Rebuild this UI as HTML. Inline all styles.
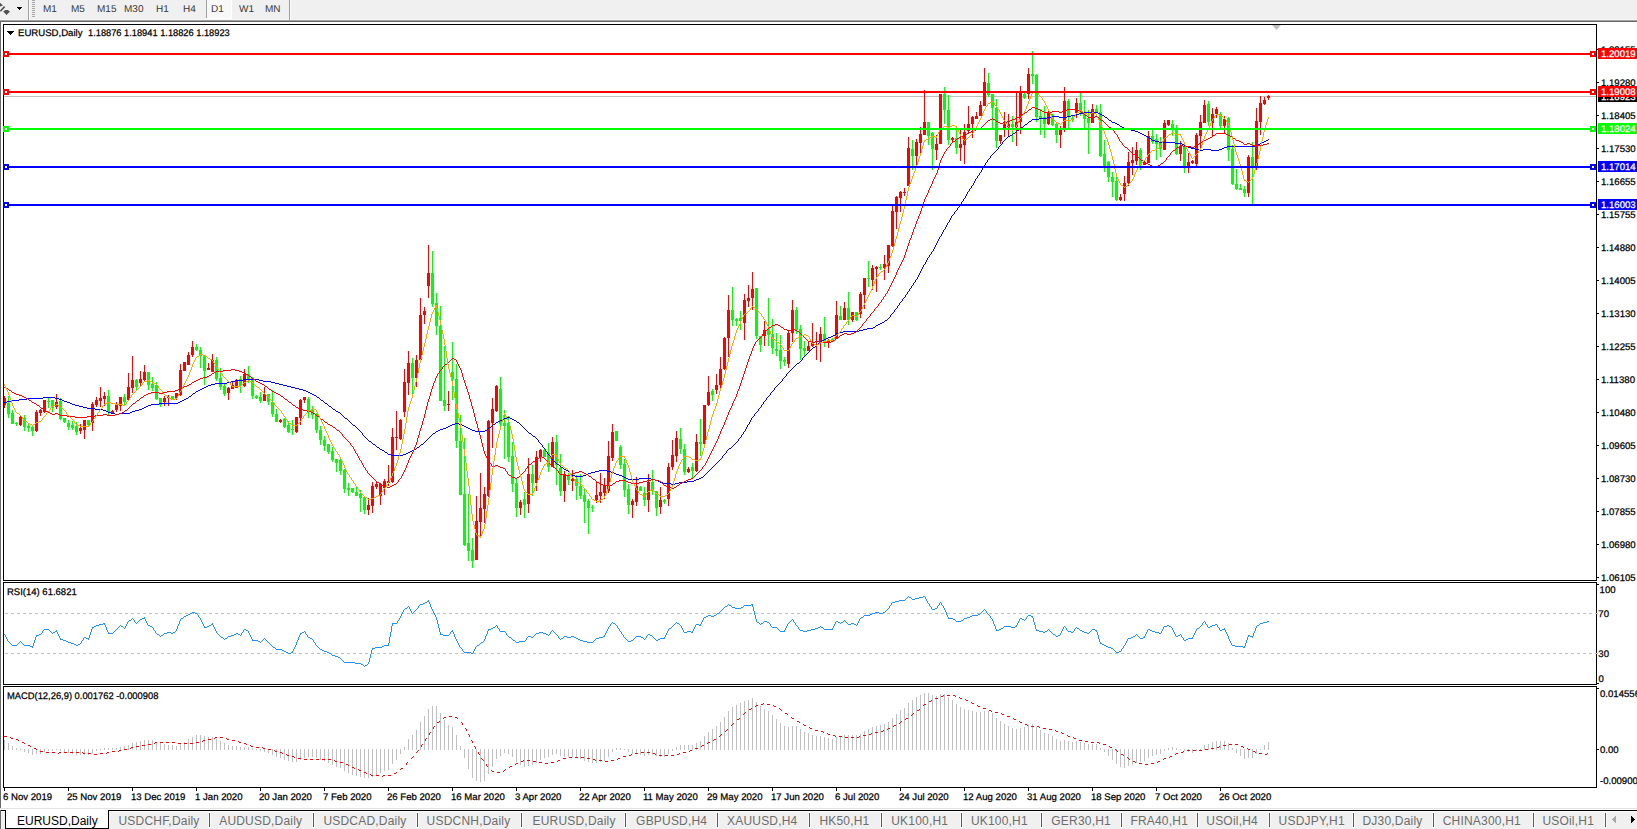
<!DOCTYPE html><html><head><meta charset="utf-8"><style>
*{margin:0;padding:0;box-sizing:border-box}
html,body{width:1637px;height:829px;overflow:hidden;background:#fff;font-family:"Liberation Sans",sans-serif}
.a{position:absolute}
.t{position:absolute;white-space:nowrap;font-size:10px;line-height:10px;color:#000}
.g{position:absolute;white-space:nowrap;color:#000;text-rendering:geometricPrecision;transform-origin:0 0;-webkit-text-stroke:0.25px currentColor}
svg{position:absolute;left:0;top:0}

</style></head><body>
<div class="a" style="left:0;top:0;width:1637px;height:19px;background:#f0f0f0"></div>
<div class="a" style="left:0;top:19px;width:1637px;height:1px;background:#f6f6f6"></div>
<div class="a" style="left:0;top:20px;width:1637px;height:1px;background:#a0a0a0"></div>
<div class="a" style="left:0;top:21px;width:1637px;height:1px;background:#696969"></div>
<svg width="1637" height="829" viewBox="0 0 1637 829" shape-rendering="crispEdges">
<path d="M0 2.8 L3 5.6 L0 6.6 Z" fill="#505050" shape-rendering="auto"/>
<path d="M0.3 11.3 L4.6 6.6" stroke="#505050" stroke-width="1.6" shape-rendering="auto"/>
<path d="M3.2 11.4 L5.4 10 L7.6 10 L10 11.4 L6.5 15 Z" fill="#505050" shape-rendering="auto"/>
<rect x="17" y="7" width="5" height="1" fill="#000"/><rect x="18" y="8" width="3" height="1" fill="#000"/><rect x="19" y="9" width="1" height="1" fill="#000"/>
<rect x="28" y="0" width="1" height="20" fill="#a0a0a0"/><rect x="29" y="0" width="1" height="20" fill="#fafafa"/>
<rect x="32" y="0" width="3" height="1" fill="#a8a8a8"/>
<rect x="32" y="2" width="3" height="1" fill="#a8a8a8"/>
<rect x="32" y="4" width="3" height="1" fill="#a8a8a8"/>
<rect x="32" y="6" width="3" height="1" fill="#a8a8a8"/>
<rect x="32" y="8" width="3" height="1" fill="#a8a8a8"/>
<rect x="32" y="10" width="3" height="1" fill="#a8a8a8"/>
<rect x="32" y="12" width="3" height="1" fill="#a8a8a8"/>
<rect x="32" y="14" width="3" height="1" fill="#a8a8a8"/>
<rect x="32" y="16" width="3" height="1" fill="#a8a8a8"/>
<rect x="206" y="0" width="1" height="18" fill="#a0a0a0"/>
<rect x="207" y="0" width="24" height="18" fill="#f8f8f8"/><rect x="231" y="0" width="1" height="19" fill="#fff"/><rect x="206" y="18" width="26" height="1" fill="#fff"/>
<rect x="289" y="0" width="1" height="20" fill="#a0a0a0"/><rect x="290" y="0" width="1" height="20" fill="#fafafa"/>
<rect x="0" y="22" width="1" height="786" fill="#6a6a6a"/>
<rect x="0" y="808" width="1637" height="1" fill="#e3e3e3"/>
<rect x="3" y="24" width="1594" height="1" fill="#000"/>
<rect x="3" y="580" width="1594" height="1" fill="#000"/>
<rect x="3" y="24" width="1" height="557" fill="#000"/>
<rect x="1596" y="24" width="1" height="557" fill="#000"/>
<rect x="3" y="582" width="1594" height="1" fill="#000"/>
<rect x="3" y="684" width="1594" height="1" fill="#000"/>
<rect x="3" y="582" width="1" height="103" fill="#000"/>
<rect x="1596" y="582" width="1" height="103" fill="#000"/>
<rect x="3" y="686" width="1594" height="1" fill="#000"/>
<rect x="3" y="787" width="1594" height="1" fill="#000"/>
<rect x="3" y="686" width="1" height="102" fill="#000"/>
<rect x="1596" y="686" width="1" height="102" fill="#000"/>
<path d="M1272 25 L1281 25 L1276.5 30 Z" fill="#c0c0c0" shape-rendering="auto"/>
<rect x="1597" y="49" width="2" height="1" fill="#000"/>
<rect x="1597" y="82" width="2" height="1" fill="#000"/>
<rect x="1597" y="115" width="2" height="1" fill="#000"/>
<rect x="1597" y="148" width="2" height="1" fill="#000"/>
<rect x="1597" y="181" width="2" height="1" fill="#000"/>
<rect x="1597" y="214" width="2" height="1" fill="#000"/>
<rect x="1597" y="247" width="2" height="1" fill="#000"/>
<rect x="1597" y="280" width="2" height="1" fill="#000"/>
<rect x="1597" y="313" width="2" height="1" fill="#000"/>
<rect x="1597" y="346" width="2" height="1" fill="#000"/>
<rect x="1597" y="379" width="2" height="1" fill="#000"/>
<rect x="1597" y="412" width="2" height="1" fill="#000"/>
<rect x="1597" y="445" width="2" height="1" fill="#000"/>
<rect x="1597" y="478" width="2" height="1" fill="#000"/>
<rect x="1597" y="511" width="2" height="1" fill="#000"/>
<rect x="1597" y="544" width="2" height="1" fill="#000"/>
<rect x="1597" y="577" width="2" height="1" fill="#000"/>
<defs><clipPath id="cm"><rect x="4" y="25" width="1592" height="555"/></clipPath>
<clipPath id="cr"><rect x="4" y="583" width="1592" height="101"/></clipPath>
<clipPath id="cd"><rect x="4" y="687" width="1592" height="100"/></clipPath></defs>
<rect x="4" y="96" width="1592" height="1" fill="#c0c0c0"/>
<g clip-path="url(#cm)">
<rect x="4" y="396" width="1" height="12" fill="#ff0000"/>
<rect x="3" y="398" width="3" height="7" fill="#ff0000"/>
<rect x="8" y="396" width="1" height="22" fill="#00ff00"/>
<rect x="7" y="403" width="3" height="11" fill="#00ff00"/>
<rect x="12" y="410" width="1" height="14" fill="#00ff00"/>
<rect x="11" y="413" width="3" height="11" fill="#00ff00"/>
<rect x="16" y="422" width="1" height="4" fill="#00ff00"/>
<rect x="15" y="423" width="3" height="1" fill="#00ff00"/>
<rect x="20" y="415" width="1" height="11" fill="#ff0000"/>
<rect x="19" y="417" width="3" height="8" fill="#ff0000"/>
<rect x="24" y="415" width="1" height="16" fill="#00ff00"/>
<rect x="23" y="418" width="3" height="9" fill="#00ff00"/>
<rect x="28" y="424" width="1" height="8" fill="#00ff00"/>
<rect x="27" y="426" width="3" height="2" fill="#00ff00"/>
<rect x="32" y="426" width="1" height="10" fill="#00ff00"/>
<rect x="31" y="427" width="3" height="4" fill="#00ff00"/>
<rect x="36" y="410" width="1" height="22" fill="#ff0000"/>
<rect x="35" y="412" width="3" height="19" fill="#ff0000"/>
<rect x="40" y="409" width="1" height="7" fill="#ff0000"/>
<rect x="39" y="410" width="3" height="3" fill="#ff0000"/>
<rect x="44" y="400" width="1" height="13" fill="#ff0000"/>
<rect x="43" y="400" width="3" height="12" fill="#ff0000"/>
<rect x="48" y="398" width="1" height="10" fill="#00ff00"/>
<rect x="47" y="401" width="3" height="1" fill="#00ff00"/>
<rect x="52" y="400" width="1" height="12" fill="#00ff00"/>
<rect x="51" y="400" width="3" height="8" fill="#00ff00"/>
<rect x="56" y="394" width="1" height="15" fill="#ff0000"/>
<rect x="55" y="402" width="3" height="5" fill="#ff0000"/>
<rect x="60" y="398" width="1" height="22" fill="#00ff00"/>
<rect x="59" y="401" width="3" height="18" fill="#00ff00"/>
<rect x="64" y="418" width="1" height="5" fill="#00ff00"/>
<rect x="63" y="418" width="3" height="4" fill="#00ff00"/>
<rect x="68" y="420" width="1" height="10" fill="#00ff00"/>
<rect x="67" y="423" width="3" height="4" fill="#00ff00"/>
<rect x="72" y="421" width="1" height="9" fill="#00ff00"/>
<rect x="71" y="425" width="3" height="3" fill="#00ff00"/>
<rect x="76" y="422" width="1" height="13" fill="#00ff00"/>
<rect x="75" y="426" width="3" height="6" fill="#00ff00"/>
<rect x="80" y="424" width="1" height="10" fill="#ff0000"/>
<rect x="79" y="428" width="3" height="3" fill="#ff0000"/>
<rect x="84" y="420" width="1" height="19" fill="#ff0000"/>
<rect x="83" y="420" width="3" height="10" fill="#ff0000"/>
<rect x="88" y="420" width="1" height="6" fill="#00ff00"/>
<rect x="87" y="420" width="3" height="5" fill="#00ff00"/>
<rect x="92" y="402" width="1" height="29" fill="#ff0000"/>
<rect x="91" y="404" width="3" height="19" fill="#ff0000"/>
<rect x="96" y="397" width="1" height="10" fill="#ff0000"/>
<rect x="95" y="400" width="3" height="5" fill="#ff0000"/>
<rect x="100" y="387" width="1" height="20" fill="#ff0000"/>
<rect x="99" y="398" width="3" height="3" fill="#ff0000"/>
<rect x="104" y="392" width="1" height="14" fill="#ff0000"/>
<rect x="103" y="396" width="3" height="3" fill="#ff0000"/>
<rect x="108" y="390" width="1" height="26" fill="#00ff00"/>
<rect x="107" y="396" width="3" height="16" fill="#00ff00"/>
<rect x="112" y="410" width="1" height="4" fill="#ff0000"/>
<rect x="111" y="411" width="3" height="2" fill="#ff0000"/>
<rect x="116" y="402" width="1" height="10" fill="#ff0000"/>
<rect x="115" y="404" width="3" height="6" fill="#ff0000"/>
<rect x="120" y="397" width="1" height="14" fill="#ff0000"/>
<rect x="119" y="397" width="3" height="9" fill="#ff0000"/>
<rect x="124" y="394" width="1" height="11" fill="#00ff00"/>
<rect x="123" y="397" width="3" height="5" fill="#00ff00"/>
<rect x="128" y="373" width="1" height="27" fill="#ff0000"/>
<rect x="127" y="387" width="3" height="13" fill="#ff0000"/>
<rect x="132" y="356" width="1" height="37" fill="#ff0000"/>
<rect x="131" y="380" width="3" height="8" fill="#ff0000"/>
<rect x="136" y="379" width="1" height="11" fill="#00ff00"/>
<rect x="135" y="380" width="3" height="7" fill="#00ff00"/>
<rect x="140" y="371" width="1" height="15" fill="#ff0000"/>
<rect x="139" y="379" width="3" height="4" fill="#ff0000"/>
<rect x="144" y="365" width="1" height="16" fill="#ff0000"/>
<rect x="143" y="372" width="3" height="8" fill="#ff0000"/>
<rect x="148" y="372" width="1" height="18" fill="#00ff00"/>
<rect x="147" y="372" width="3" height="13" fill="#00ff00"/>
<rect x="152" y="377" width="1" height="14" fill="#00ff00"/>
<rect x="151" y="384" width="3" height="4" fill="#00ff00"/>
<rect x="156" y="382" width="1" height="18" fill="#00ff00"/>
<rect x="155" y="385" width="3" height="14" fill="#00ff00"/>
<rect x="160" y="398" width="1" height="9" fill="#00ff00"/>
<rect x="159" y="398" width="3" height="7" fill="#00ff00"/>
<rect x="164" y="396" width="1" height="10" fill="#ff0000"/>
<rect x="163" y="398" width="3" height="4" fill="#ff0000"/>
<rect x="168" y="395" width="1" height="11" fill="#ff0000"/>
<rect x="167" y="397" width="3" height="1" fill="#ff0000"/>
<rect x="172" y="396" width="1" height="4" fill="#00ff00"/>
<rect x="171" y="396" width="3" height="4" fill="#00ff00"/>
<rect x="176" y="393" width="1" height="7" fill="#ff0000"/>
<rect x="175" y="393" width="3" height="5" fill="#ff0000"/>
<rect x="180" y="364" width="1" height="32" fill="#ff0000"/>
<rect x="179" y="370" width="3" height="25" fill="#ff0000"/>
<rect x="184" y="362" width="1" height="9" fill="#ff0000"/>
<rect x="183" y="362" width="3" height="9" fill="#ff0000"/>
<rect x="188" y="352" width="1" height="13" fill="#ff0000"/>
<rect x="187" y="355" width="3" height="10" fill="#ff0000"/>
<rect x="192" y="341" width="1" height="16" fill="#ff0000"/>
<rect x="191" y="347" width="3" height="8" fill="#ff0000"/>
<rect x="196" y="344" width="1" height="7" fill="#00ff00"/>
<rect x="195" y="347" width="3" height="3" fill="#00ff00"/>
<rect x="200" y="347" width="1" height="21" fill="#00ff00"/>
<rect x="199" y="350" width="3" height="6" fill="#00ff00"/>
<rect x="204" y="355" width="1" height="30" fill="#00ff00"/>
<rect x="203" y="355" width="3" height="16" fill="#00ff00"/>
<rect x="208" y="363" width="1" height="7" fill="#ff0000"/>
<rect x="207" y="368" width="3" height="2" fill="#ff0000"/>
<rect x="212" y="354" width="1" height="18" fill="#ff0000"/>
<rect x="211" y="360" width="3" height="12" fill="#ff0000"/>
<rect x="216" y="357" width="1" height="24" fill="#00ff00"/>
<rect x="215" y="360" width="3" height="19" fill="#00ff00"/>
<rect x="220" y="368" width="1" height="22" fill="#00ff00"/>
<rect x="219" y="378" width="3" height="9" fill="#00ff00"/>
<rect x="224" y="384" width="1" height="12" fill="#00ff00"/>
<rect x="223" y="386" width="3" height="8" fill="#00ff00"/>
<rect x="228" y="387" width="1" height="13" fill="#ff0000"/>
<rect x="227" y="388" width="3" height="5" fill="#ff0000"/>
<rect x="232" y="382" width="1" height="7" fill="#ff0000"/>
<rect x="231" y="385" width="3" height="4" fill="#ff0000"/>
<rect x="236" y="379" width="1" height="9" fill="#ff0000"/>
<rect x="235" y="381" width="3" height="7" fill="#ff0000"/>
<rect x="240" y="376" width="1" height="17" fill="#00ff00"/>
<rect x="239" y="379" width="3" height="7" fill="#00ff00"/>
<rect x="244" y="369" width="1" height="18" fill="#ff0000"/>
<rect x="243" y="374" width="3" height="12" fill="#ff0000"/>
<rect x="248" y="366" width="1" height="17" fill="#00ff00"/>
<rect x="247" y="374" width="3" height="5" fill="#00ff00"/>
<rect x="252" y="377" width="1" height="22" fill="#00ff00"/>
<rect x="251" y="378" width="3" height="18" fill="#00ff00"/>
<rect x="256" y="395" width="1" height="4" fill="#00ff00"/>
<rect x="255" y="396" width="3" height="2" fill="#00ff00"/>
<rect x="260" y="392" width="1" height="11" fill="#00ff00"/>
<rect x="259" y="397" width="3" height="4" fill="#00ff00"/>
<rect x="264" y="387" width="1" height="14" fill="#ff0000"/>
<rect x="263" y="394" width="3" height="7" fill="#ff0000"/>
<rect x="268" y="394" width="1" height="11" fill="#00ff00"/>
<rect x="267" y="394" width="3" height="8" fill="#00ff00"/>
<rect x="272" y="390" width="1" height="27" fill="#00ff00"/>
<rect x="271" y="402" width="3" height="12" fill="#00ff00"/>
<rect x="276" y="409" width="1" height="13" fill="#00ff00"/>
<rect x="275" y="414" width="3" height="8" fill="#00ff00"/>
<rect x="280" y="419" width="1" height="4" fill="#ff0000"/>
<rect x="279" y="420" width="3" height="2" fill="#ff0000"/>
<rect x="284" y="418" width="1" height="10" fill="#00ff00"/>
<rect x="283" y="419" width="3" height="8" fill="#00ff00"/>
<rect x="288" y="421" width="1" height="12" fill="#00ff00"/>
<rect x="287" y="425" width="3" height="7" fill="#00ff00"/>
<rect x="292" y="420" width="1" height="15" fill="#00ff00"/>
<rect x="291" y="429" width="3" height="1" fill="#00ff00"/>
<rect x="296" y="417" width="1" height="16" fill="#ff0000"/>
<rect x="295" y="417" width="3" height="15" fill="#ff0000"/>
<rect x="300" y="399" width="1" height="26" fill="#ff0000"/>
<rect x="299" y="400" width="3" height="18" fill="#ff0000"/>
<rect x="304" y="397" width="1" height="6" fill="#ff0000"/>
<rect x="303" y="397" width="3" height="3" fill="#ff0000"/>
<rect x="308" y="397" width="1" height="21" fill="#00ff00"/>
<rect x="307" y="399" width="3" height="12" fill="#00ff00"/>
<rect x="312" y="406" width="1" height="13" fill="#00ff00"/>
<rect x="311" y="410" width="3" height="5" fill="#00ff00"/>
<rect x="316" y="413" width="1" height="20" fill="#00ff00"/>
<rect x="315" y="414" width="3" height="16" fill="#00ff00"/>
<rect x="320" y="426" width="1" height="19" fill="#00ff00"/>
<rect x="319" y="430" width="3" height="10" fill="#00ff00"/>
<rect x="324" y="436" width="1" height="15" fill="#00ff00"/>
<rect x="323" y="440" width="3" height="6" fill="#00ff00"/>
<rect x="328" y="444" width="1" height="10" fill="#00ff00"/>
<rect x="327" y="444" width="3" height="8" fill="#00ff00"/>
<rect x="332" y="447" width="1" height="15" fill="#00ff00"/>
<rect x="331" y="451" width="3" height="9" fill="#00ff00"/>
<rect x="336" y="459" width="1" height="13" fill="#00ff00"/>
<rect x="335" y="459" width="3" height="4" fill="#00ff00"/>
<rect x="340" y="459" width="1" height="16" fill="#00ff00"/>
<rect x="339" y="460" width="3" height="11" fill="#00ff00"/>
<rect x="344" y="469" width="1" height="24" fill="#00ff00"/>
<rect x="343" y="470" width="3" height="19" fill="#00ff00"/>
<rect x="348" y="483" width="1" height="13" fill="#00ff00"/>
<rect x="347" y="488" width="3" height="2" fill="#00ff00"/>
<rect x="352" y="488" width="1" height="5" fill="#00ff00"/>
<rect x="351" y="488" width="3" height="4" fill="#00ff00"/>
<rect x="356" y="487" width="1" height="9" fill="#00ff00"/>
<rect x="355" y="492" width="3" height="4" fill="#00ff00"/>
<rect x="360" y="490" width="1" height="22" fill="#00ff00"/>
<rect x="359" y="494" width="3" height="4" fill="#00ff00"/>
<rect x="364" y="497" width="1" height="17" fill="#00ff00"/>
<rect x="363" y="497" width="3" height="13" fill="#00ff00"/>
<rect x="368" y="498" width="1" height="17" fill="#ff0000"/>
<rect x="367" y="505" width="3" height="5" fill="#ff0000"/>
<rect x="372" y="482" width="1" height="31" fill="#ff0000"/>
<rect x="371" y="486" width="3" height="20" fill="#ff0000"/>
<rect x="376" y="482" width="1" height="7" fill="#ff0000"/>
<rect x="375" y="484" width="3" height="3" fill="#ff0000"/>
<rect x="380" y="483" width="1" height="22" fill="#ff0000"/>
<rect x="379" y="484" width="3" height="12" fill="#ff0000"/>
<rect x="384" y="479" width="1" height="16" fill="#ff0000"/>
<rect x="383" y="481" width="3" height="7" fill="#ff0000"/>
<rect x="388" y="465" width="1" height="21" fill="#ff0000"/>
<rect x="387" y="481" width="3" height="2" fill="#ff0000"/>
<rect x="392" y="428" width="1" height="55" fill="#ff0000"/>
<rect x="391" y="437" width="3" height="45" fill="#ff0000"/>
<rect x="396" y="411" width="1" height="39" fill="#ff0000"/>
<rect x="395" y="437" width="3" height="1" fill="#ff0000"/>
<rect x="400" y="419" width="1" height="21" fill="#ff0000"/>
<rect x="399" y="420" width="3" height="19" fill="#ff0000"/>
<rect x="404" y="369" width="1" height="48" fill="#ff0000"/>
<rect x="403" y="382" width="3" height="30" fill="#ff0000"/>
<rect x="408" y="351" width="1" height="44" fill="#ff0000"/>
<rect x="407" y="363" width="3" height="20" fill="#ff0000"/>
<rect x="412" y="358" width="1" height="37" fill="#00ff00"/>
<rect x="411" y="363" width="3" height="15" fill="#00ff00"/>
<rect x="416" y="355" width="1" height="32" fill="#ff0000"/>
<rect x="415" y="360" width="3" height="18" fill="#ff0000"/>
<rect x="420" y="298" width="1" height="63" fill="#ff0000"/>
<rect x="419" y="315" width="3" height="45" fill="#ff0000"/>
<rect x="424" y="307" width="1" height="17" fill="#ff0000"/>
<rect x="423" y="311" width="3" height="4" fill="#ff0000"/>
<rect x="428" y="245" width="1" height="53" fill="#ff0000"/>
<rect x="427" y="273" width="3" height="13" fill="#ff0000"/>
<rect x="432" y="251" width="1" height="56" fill="#00ff00"/>
<rect x="431" y="273" width="3" height="31" fill="#00ff00"/>
<rect x="436" y="293" width="1" height="42" fill="#00ff00"/>
<rect x="435" y="303" width="3" height="23" fill="#00ff00"/>
<rect x="440" y="306" width="1" height="95" fill="#00ff00"/>
<rect x="439" y="326" width="3" height="75" fill="#00ff00"/>
<rect x="444" y="346" width="1" height="65" fill="#00ff00"/>
<rect x="443" y="400" width="3" height="6" fill="#00ff00"/>
<rect x="448" y="391" width="1" height="20" fill="#ff0000"/>
<rect x="447" y="404" width="3" height="1" fill="#ff0000"/>
<rect x="452" y="342" width="1" height="58" fill="#00ff00"/>
<rect x="451" y="372" width="3" height="7" fill="#00ff00"/>
<rect x="456" y="364" width="1" height="84" fill="#00ff00"/>
<rect x="455" y="379" width="3" height="62" fill="#00ff00"/>
<rect x="460" y="415" width="1" height="80" fill="#00ff00"/>
<rect x="459" y="441" width="3" height="54" fill="#00ff00"/>
<rect x="464" y="438" width="1" height="108" fill="#00ff00"/>
<rect x="463" y="494" width="3" height="51" fill="#00ff00"/>
<rect x="468" y="494" width="1" height="67" fill="#00ff00"/>
<rect x="467" y="543" width="3" height="8" fill="#00ff00"/>
<rect x="472" y="538" width="1" height="30" fill="#00ff00"/>
<rect x="471" y="550" width="3" height="11" fill="#00ff00"/>
<rect x="476" y="496" width="1" height="64" fill="#ff0000"/>
<rect x="475" y="521" width="3" height="39" fill="#ff0000"/>
<rect x="480" y="473" width="1" height="65" fill="#ff0000"/>
<rect x="479" y="508" width="3" height="14" fill="#ff0000"/>
<rect x="484" y="487" width="1" height="36" fill="#ff0000"/>
<rect x="483" y="494" width="3" height="15" fill="#ff0000"/>
<rect x="488" y="420" width="1" height="77" fill="#ff0000"/>
<rect x="487" y="421" width="3" height="75" fill="#ff0000"/>
<rect x="492" y="398" width="1" height="50" fill="#ff0000"/>
<rect x="491" y="409" width="3" height="14" fill="#ff0000"/>
<rect x="496" y="385" width="1" height="27" fill="#ff0000"/>
<rect x="495" y="386" width="3" height="25" fill="#ff0000"/>
<rect x="500" y="377" width="1" height="49" fill="#00ff00"/>
<rect x="499" y="389" width="3" height="35" fill="#00ff00"/>
<rect x="504" y="410" width="1" height="49" fill="#00ff00"/>
<rect x="503" y="423" width="3" height="3" fill="#00ff00"/>
<rect x="508" y="416" width="1" height="46" fill="#00ff00"/>
<rect x="507" y="423" width="3" height="34" fill="#00ff00"/>
<rect x="512" y="442" width="1" height="50" fill="#00ff00"/>
<rect x="511" y="456" width="3" height="28" fill="#00ff00"/>
<rect x="516" y="479" width="1" height="38" fill="#00ff00"/>
<rect x="515" y="483" width="3" height="25" fill="#00ff00"/>
<rect x="520" y="500" width="1" height="15" fill="#ff0000"/>
<rect x="519" y="502" width="3" height="6" fill="#ff0000"/>
<rect x="524" y="492" width="1" height="26" fill="#00ff00"/>
<rect x="523" y="499" width="3" height="6" fill="#00ff00"/>
<rect x="528" y="458" width="1" height="55" fill="#ff0000"/>
<rect x="527" y="474" width="3" height="30" fill="#ff0000"/>
<rect x="532" y="465" width="1" height="31" fill="#00ff00"/>
<rect x="531" y="474" width="3" height="9" fill="#00ff00"/>
<rect x="536" y="451" width="1" height="40" fill="#ff0000"/>
<rect x="535" y="457" width="3" height="26" fill="#ff0000"/>
<rect x="540" y="449" width="1" height="13" fill="#ff0000"/>
<rect x="539" y="450" width="3" height="7" fill="#ff0000"/>
<rect x="544" y="448" width="1" height="9" fill="#00ff00"/>
<rect x="543" y="450" width="3" height="7" fill="#00ff00"/>
<rect x="548" y="443" width="1" height="29" fill="#00ff00"/>
<rect x="547" y="453" width="3" height="14" fill="#00ff00"/>
<rect x="552" y="437" width="1" height="30" fill="#ff0000"/>
<rect x="551" y="442" width="3" height="25" fill="#ff0000"/>
<rect x="556" y="435" width="1" height="50" fill="#00ff00"/>
<rect x="555" y="442" width="3" height="23" fill="#00ff00"/>
<rect x="560" y="454" width="1" height="42" fill="#00ff00"/>
<rect x="559" y="468" width="3" height="23" fill="#00ff00"/>
<rect x="564" y="471" width="1" height="31" fill="#ff0000"/>
<rect x="563" y="474" width="3" height="17" fill="#ff0000"/>
<rect x="568" y="473" width="1" height="12" fill="#00ff00"/>
<rect x="567" y="475" width="3" height="5" fill="#00ff00"/>
<rect x="572" y="470" width="1" height="21" fill="#ff0000"/>
<rect x="571" y="479" width="3" height="2" fill="#ff0000"/>
<rect x="576" y="475" width="1" height="25" fill="#00ff00"/>
<rect x="575" y="479" width="3" height="7" fill="#00ff00"/>
<rect x="580" y="474" width="1" height="25" fill="#00ff00"/>
<rect x="579" y="486" width="3" height="10" fill="#00ff00"/>
<rect x="584" y="489" width="1" height="34" fill="#00ff00"/>
<rect x="583" y="495" width="3" height="7" fill="#00ff00"/>
<rect x="588" y="499" width="1" height="35" fill="#00ff00"/>
<rect x="587" y="501" width="3" height="7" fill="#00ff00"/>
<rect x="592" y="505" width="1" height="7" fill="#00ff00"/>
<rect x="591" y="507" width="3" height="1" fill="#00ff00"/>
<rect x="596" y="482" width="1" height="21" fill="#ff0000"/>
<rect x="595" y="495" width="3" height="5" fill="#ff0000"/>
<rect x="600" y="473" width="1" height="30" fill="#ff0000"/>
<rect x="599" y="492" width="3" height="4" fill="#ff0000"/>
<rect x="604" y="478" width="1" height="21" fill="#ff0000"/>
<rect x="603" y="486" width="3" height="7" fill="#ff0000"/>
<rect x="608" y="441" width="1" height="52" fill="#ff0000"/>
<rect x="607" y="456" width="3" height="35" fill="#ff0000"/>
<rect x="612" y="424" width="1" height="37" fill="#ff0000"/>
<rect x="611" y="432" width="3" height="26" fill="#ff0000"/>
<rect x="616" y="431" width="1" height="10" fill="#00ff00"/>
<rect x="615" y="431" width="3" height="10" fill="#00ff00"/>
<rect x="620" y="445" width="1" height="24" fill="#00ff00"/>
<rect x="619" y="447" width="3" height="18" fill="#00ff00"/>
<rect x="624" y="459" width="1" height="38" fill="#00ff00"/>
<rect x="623" y="464" width="3" height="26" fill="#00ff00"/>
<rect x="628" y="484" width="1" height="30" fill="#00ff00"/>
<rect x="627" y="489" width="3" height="16" fill="#00ff00"/>
<rect x="632" y="499" width="1" height="19" fill="#ff0000"/>
<rect x="631" y="501" width="3" height="4" fill="#ff0000"/>
<rect x="636" y="477" width="1" height="29" fill="#ff0000"/>
<rect x="635" y="486" width="3" height="16" fill="#ff0000"/>
<rect x="640" y="486" width="1" height="5" fill="#00ff00"/>
<rect x="639" y="487" width="3" height="4" fill="#00ff00"/>
<rect x="644" y="487" width="1" height="19" fill="#00ff00"/>
<rect x="643" y="493" width="3" height="7" fill="#00ff00"/>
<rect x="648" y="474" width="1" height="38" fill="#ff0000"/>
<rect x="647" y="482" width="3" height="18" fill="#ff0000"/>
<rect x="652" y="470" width="1" height="25" fill="#00ff00"/>
<rect x="651" y="482" width="3" height="9" fill="#00ff00"/>
<rect x="656" y="491" width="1" height="25" fill="#00ff00"/>
<rect x="655" y="491" width="3" height="17" fill="#00ff00"/>
<rect x="660" y="487" width="1" height="27" fill="#ff0000"/>
<rect x="659" y="500" width="3" height="7" fill="#ff0000"/>
<rect x="664" y="499" width="1" height="5" fill="#00ff00"/>
<rect x="663" y="500" width="3" height="2" fill="#00ff00"/>
<rect x="668" y="463" width="1" height="43" fill="#ff0000"/>
<rect x="667" y="467" width="3" height="32" fill="#ff0000"/>
<rect x="672" y="440" width="1" height="30" fill="#ff0000"/>
<rect x="671" y="455" width="3" height="12" fill="#ff0000"/>
<rect x="676" y="431" width="1" height="31" fill="#ff0000"/>
<rect x="675" y="438" width="3" height="18" fill="#ff0000"/>
<rect x="680" y="428" width="1" height="26" fill="#00ff00"/>
<rect x="679" y="439" width="3" height="10" fill="#00ff00"/>
<rect x="684" y="444" width="1" height="31" fill="#00ff00"/>
<rect x="683" y="449" width="3" height="23" fill="#00ff00"/>
<rect x="688" y="467" width="1" height="6" fill="#ff0000"/>
<rect x="687" y="469" width="3" height="3" fill="#ff0000"/>
<rect x="692" y="463" width="1" height="15" fill="#00ff00"/>
<rect x="691" y="467" width="3" height="4" fill="#00ff00"/>
<rect x="696" y="434" width="1" height="38" fill="#ff0000"/>
<rect x="695" y="442" width="3" height="29" fill="#ff0000"/>
<rect x="700" y="419" width="1" height="37" fill="#00ff00"/>
<rect x="699" y="442" width="3" height="2" fill="#00ff00"/>
<rect x="704" y="405" width="1" height="39" fill="#ff0000"/>
<rect x="703" y="405" width="3" height="39" fill="#ff0000"/>
<rect x="708" y="376" width="1" height="30" fill="#ff0000"/>
<rect x="707" y="392" width="3" height="13" fill="#ff0000"/>
<rect x="712" y="389" width="1" height="12" fill="#00ff00"/>
<rect x="711" y="391" width="3" height="4" fill="#00ff00"/>
<rect x="716" y="374" width="1" height="20" fill="#ff0000"/>
<rect x="715" y="385" width="3" height="5" fill="#ff0000"/>
<rect x="720" y="357" width="1" height="31" fill="#ff0000"/>
<rect x="719" y="369" width="3" height="16" fill="#ff0000"/>
<rect x="724" y="337" width="1" height="33" fill="#ff0000"/>
<rect x="723" y="338" width="3" height="31" fill="#ff0000"/>
<rect x="728" y="295" width="1" height="62" fill="#ff0000"/>
<rect x="727" y="310" width="3" height="28" fill="#ff0000"/>
<rect x="732" y="287" width="1" height="39" fill="#00ff00"/>
<rect x="731" y="310" width="3" height="10" fill="#00ff00"/>
<rect x="736" y="318" width="1" height="8" fill="#00ff00"/>
<rect x="735" y="319" width="3" height="2" fill="#00ff00"/>
<rect x="740" y="311" width="1" height="19" fill="#00ff00"/>
<rect x="739" y="318" width="3" height="3" fill="#00ff00"/>
<rect x="744" y="294" width="1" height="46" fill="#ff0000"/>
<rect x="743" y="300" width="3" height="23" fill="#ff0000"/>
<rect x="748" y="285" width="1" height="22" fill="#ff0000"/>
<rect x="747" y="298" width="3" height="3" fill="#ff0000"/>
<rect x="752" y="272" width="1" height="38" fill="#ff0000"/>
<rect x="751" y="289" width="3" height="9" fill="#ff0000"/>
<rect x="756" y="288" width="1" height="51" fill="#00ff00"/>
<rect x="755" y="288" width="3" height="48" fill="#00ff00"/>
<rect x="760" y="336" width="1" height="16" fill="#00ff00"/>
<rect x="759" y="336" width="3" height="9" fill="#00ff00"/>
<rect x="764" y="321" width="1" height="25" fill="#ff0000"/>
<rect x="763" y="330" width="3" height="6" fill="#ff0000"/>
<rect x="768" y="298" width="1" height="48" fill="#00ff00"/>
<rect x="767" y="330" width="3" height="5" fill="#00ff00"/>
<rect x="772" y="319" width="1" height="35" fill="#00ff00"/>
<rect x="771" y="334" width="3" height="14" fill="#00ff00"/>
<rect x="776" y="333" width="1" height="23" fill="#00ff00"/>
<rect x="775" y="349" width="3" height="2" fill="#00ff00"/>
<rect x="780" y="335" width="1" height="34" fill="#00ff00"/>
<rect x="779" y="350" width="3" height="11" fill="#00ff00"/>
<rect x="784" y="357" width="1" height="9" fill="#00ff00"/>
<rect x="783" y="360" width="3" height="2" fill="#00ff00"/>
<rect x="788" y="331" width="1" height="37" fill="#ff0000"/>
<rect x="787" y="333" width="3" height="31" fill="#ff0000"/>
<rect x="792" y="300" width="1" height="42" fill="#ff0000"/>
<rect x="791" y="310" width="3" height="23" fill="#ff0000"/>
<rect x="796" y="307" width="1" height="27" fill="#00ff00"/>
<rect x="795" y="310" width="3" height="20" fill="#00ff00"/>
<rect x="800" y="325" width="1" height="35" fill="#00ff00"/>
<rect x="799" y="329" width="3" height="20" fill="#00ff00"/>
<rect x="804" y="341" width="1" height="16" fill="#00ff00"/>
<rect x="803" y="348" width="3" height="3" fill="#00ff00"/>
<rect x="808" y="342" width="1" height="9" fill="#ff0000"/>
<rect x="807" y="346" width="3" height="5" fill="#ff0000"/>
<rect x="812" y="323" width="1" height="24" fill="#ff0000"/>
<rect x="811" y="342" width="3" height="4" fill="#ff0000"/>
<rect x="816" y="332" width="1" height="28" fill="#ff0000"/>
<rect x="815" y="341" width="3" height="1" fill="#ff0000"/>
<rect x="820" y="327" width="1" height="35" fill="#ff0000"/>
<rect x="819" y="334" width="3" height="8" fill="#ff0000"/>
<rect x="824" y="317" width="1" height="30" fill="#00ff00"/>
<rect x="823" y="334" width="3" height="9" fill="#00ff00"/>
<rect x="828" y="339" width="1" height="9" fill="#ff0000"/>
<rect x="827" y="341" width="3" height="1" fill="#ff0000"/>
<rect x="832" y="338" width="1" height="4" fill="#00ff00"/>
<rect x="831" y="339" width="3" height="3" fill="#00ff00"/>
<rect x="836" y="301" width="1" height="38" fill="#ff0000"/>
<rect x="835" y="315" width="3" height="24" fill="#ff0000"/>
<rect x="840" y="306" width="1" height="14" fill="#00ff00"/>
<rect x="839" y="316" width="3" height="4" fill="#00ff00"/>
<rect x="844" y="302" width="1" height="18" fill="#ff0000"/>
<rect x="843" y="308" width="3" height="12" fill="#ff0000"/>
<rect x="848" y="292" width="1" height="33" fill="#00ff00"/>
<rect x="847" y="308" width="3" height="12" fill="#00ff00"/>
<rect x="852" y="312" width="1" height="10" fill="#ff0000"/>
<rect x="851" y="312" width="3" height="8" fill="#ff0000"/>
<rect x="856" y="312" width="1" height="9" fill="#00ff00"/>
<rect x="855" y="312" width="3" height="8" fill="#00ff00"/>
<rect x="860" y="292" width="1" height="26" fill="#ff0000"/>
<rect x="859" y="294" width="3" height="20" fill="#ff0000"/>
<rect x="864" y="278" width="1" height="31" fill="#ff0000"/>
<rect x="863" y="278" width="3" height="17" fill="#ff0000"/>
<rect x="868" y="261" width="1" height="26" fill="#00ff00"/>
<rect x="867" y="278" width="3" height="1" fill="#00ff00"/>
<rect x="872" y="265" width="1" height="25" fill="#ff0000"/>
<rect x="871" y="268" width="3" height="12" fill="#ff0000"/>
<rect x="876" y="266" width="1" height="26" fill="#ff0000"/>
<rect x="875" y="267" width="3" height="2" fill="#ff0000"/>
<rect x="880" y="264" width="1" height="6" fill="#00ff00"/>
<rect x="879" y="267" width="3" height="1" fill="#00ff00"/>
<rect x="884" y="255" width="1" height="25" fill="#ff0000"/>
<rect x="883" y="264" width="3" height="4" fill="#ff0000"/>
<rect x="888" y="245" width="1" height="28" fill="#ff0000"/>
<rect x="887" y="245" width="3" height="21" fill="#ff0000"/>
<rect x="892" y="206" width="1" height="41" fill="#ff0000"/>
<rect x="891" y="211" width="3" height="35" fill="#ff0000"/>
<rect x="896" y="196" width="1" height="33" fill="#ff0000"/>
<rect x="895" y="197" width="3" height="15" fill="#ff0000"/>
<rect x="900" y="191" width="1" height="21" fill="#ff0000"/>
<rect x="899" y="192" width="3" height="6" fill="#ff0000"/>
<rect x="904" y="188" width="1" height="8" fill="#ff0000"/>
<rect x="903" y="192" width="3" height="1" fill="#ff0000"/>
<rect x="908" y="137" width="1" height="49" fill="#ff0000"/>
<rect x="907" y="148" width="3" height="38" fill="#ff0000"/>
<rect x="912" y="140" width="1" height="30" fill="#00ff00"/>
<rect x="911" y="149" width="3" height="7" fill="#00ff00"/>
<rect x="916" y="139" width="1" height="26" fill="#ff0000"/>
<rect x="915" y="142" width="3" height="14" fill="#ff0000"/>
<rect x="920" y="127" width="1" height="26" fill="#ff0000"/>
<rect x="919" y="134" width="3" height="9" fill="#ff0000"/>
<rect x="924" y="90" width="1" height="45" fill="#ff0000"/>
<rect x="923" y="122" width="3" height="13" fill="#ff0000"/>
<rect x="928" y="122" width="1" height="23" fill="#00ff00"/>
<rect x="927" y="122" width="3" height="14" fill="#00ff00"/>
<rect x="932" y="132" width="1" height="38" fill="#00ff00"/>
<rect x="931" y="133" width="3" height="16" fill="#00ff00"/>
<rect x="936" y="135" width="1" height="25" fill="#ff0000"/>
<rect x="935" y="144" width="3" height="6" fill="#ff0000"/>
<rect x="940" y="94" width="1" height="50" fill="#ff0000"/>
<rect x="939" y="94" width="3" height="50" fill="#ff0000"/>
<rect x="944" y="87" width="1" height="37" fill="#00ff00"/>
<rect x="943" y="94" width="3" height="16" fill="#00ff00"/>
<rect x="948" y="95" width="1" height="50" fill="#00ff00"/>
<rect x="947" y="110" width="3" height="30" fill="#00ff00"/>
<rect x="952" y="137" width="1" height="5" fill="#ff0000"/>
<rect x="951" y="138" width="3" height="2" fill="#ff0000"/>
<rect x="956" y="126" width="1" height="28" fill="#00ff00"/>
<rect x="955" y="138" width="3" height="10" fill="#00ff00"/>
<rect x="960" y="130" width="1" height="31" fill="#ff0000"/>
<rect x="959" y="144" width="3" height="4" fill="#ff0000"/>
<rect x="964" y="124" width="1" height="40" fill="#ff0000"/>
<rect x="963" y="132" width="3" height="13" fill="#ff0000"/>
<rect x="968" y="106" width="1" height="28" fill="#ff0000"/>
<rect x="967" y="124" width="3" height="7" fill="#ff0000"/>
<rect x="972" y="116" width="1" height="22" fill="#ff0000"/>
<rect x="971" y="117" width="3" height="7" fill="#ff0000"/>
<rect x="976" y="112" width="1" height="7" fill="#ff0000"/>
<rect x="975" y="116" width="3" height="3" fill="#ff0000"/>
<rect x="980" y="101" width="1" height="15" fill="#ff0000"/>
<rect x="979" y="105" width="3" height="11" fill="#ff0000"/>
<rect x="984" y="68" width="1" height="38" fill="#ff0000"/>
<rect x="983" y="82" width="3" height="24" fill="#ff0000"/>
<rect x="988" y="73" width="1" height="24" fill="#00ff00"/>
<rect x="987" y="83" width="3" height="12" fill="#00ff00"/>
<rect x="992" y="94" width="1" height="36" fill="#00ff00"/>
<rect x="991" y="94" width="3" height="14" fill="#00ff00"/>
<rect x="996" y="99" width="1" height="49" fill="#00ff00"/>
<rect x="995" y="108" width="3" height="33" fill="#00ff00"/>
<rect x="1000" y="135" width="1" height="9" fill="#ff0000"/>
<rect x="999" y="135" width="3" height="6" fill="#ff0000"/>
<rect x="1004" y="112" width="1" height="25" fill="#ff0000"/>
<rect x="1003" y="124" width="3" height="6" fill="#ff0000"/>
<rect x="1008" y="114" width="1" height="22" fill="#ff0000"/>
<rect x="1007" y="124" width="3" height="3" fill="#ff0000"/>
<rect x="1012" y="116" width="1" height="26" fill="#00ff00"/>
<rect x="1011" y="124" width="3" height="3" fill="#00ff00"/>
<rect x="1016" y="93" width="1" height="53" fill="#ff0000"/>
<rect x="1015" y="122" width="3" height="5" fill="#ff0000"/>
<rect x="1020" y="86" width="1" height="48" fill="#ff0000"/>
<rect x="1019" y="92" width="3" height="30" fill="#ff0000"/>
<rect x="1024" y="92" width="1" height="7" fill="#00ff00"/>
<rect x="1023" y="94" width="3" height="4" fill="#00ff00"/>
<rect x="1028" y="68" width="1" height="31" fill="#ff0000"/>
<rect x="1027" y="74" width="3" height="20" fill="#ff0000"/>
<rect x="1032" y="51" width="1" height="33" fill="#00ff00"/>
<rect x="1031" y="74" width="3" height="2" fill="#00ff00"/>
<rect x="1036" y="74" width="1" height="48" fill="#00ff00"/>
<rect x="1035" y="75" width="3" height="42" fill="#00ff00"/>
<rect x="1040" y="109" width="1" height="26" fill="#00ff00"/>
<rect x="1039" y="116" width="3" height="3" fill="#00ff00"/>
<rect x="1044" y="106" width="1" height="32" fill="#00ff00"/>
<rect x="1043" y="117" width="3" height="7" fill="#00ff00"/>
<rect x="1048" y="111" width="1" height="14" fill="#ff0000"/>
<rect x="1047" y="112" width="3" height="12" fill="#ff0000"/>
<rect x="1052" y="114" width="1" height="12" fill="#00ff00"/>
<rect x="1051" y="114" width="3" height="11" fill="#00ff00"/>
<rect x="1056" y="122" width="1" height="21" fill="#00ff00"/>
<rect x="1055" y="124" width="3" height="11" fill="#00ff00"/>
<rect x="1060" y="126" width="1" height="22" fill="#ff0000"/>
<rect x="1059" y="128" width="3" height="7" fill="#ff0000"/>
<rect x="1064" y="87" width="1" height="45" fill="#ff0000"/>
<rect x="1063" y="101" width="3" height="27" fill="#ff0000"/>
<rect x="1068" y="99" width="1" height="29" fill="#00ff00"/>
<rect x="1067" y="101" width="3" height="16" fill="#00ff00"/>
<rect x="1072" y="116" width="1" height="6" fill="#00ff00"/>
<rect x="1071" y="118" width="3" height="2" fill="#00ff00"/>
<rect x="1076" y="98" width="1" height="20" fill="#ff0000"/>
<rect x="1075" y="103" width="3" height="10" fill="#ff0000"/>
<rect x="1080" y="93" width="1" height="23" fill="#00ff00"/>
<rect x="1079" y="103" width="3" height="9" fill="#00ff00"/>
<rect x="1084" y="100" width="1" height="28" fill="#00ff00"/>
<rect x="1083" y="114" width="3" height="5" fill="#00ff00"/>
<rect x="1088" y="110" width="1" height="44" fill="#00ff00"/>
<rect x="1087" y="118" width="3" height="5" fill="#00ff00"/>
<rect x="1092" y="104" width="1" height="19" fill="#ff0000"/>
<rect x="1091" y="109" width="3" height="14" fill="#ff0000"/>
<rect x="1096" y="105" width="1" height="7" fill="#00ff00"/>
<rect x="1095" y="109" width="3" height="3" fill="#00ff00"/>
<rect x="1100" y="104" width="1" height="53" fill="#00ff00"/>
<rect x="1099" y="112" width="3" height="44" fill="#00ff00"/>
<rect x="1104" y="140" width="1" height="32" fill="#00ff00"/>
<rect x="1103" y="154" width="3" height="12" fill="#00ff00"/>
<rect x="1108" y="161" width="1" height="21" fill="#00ff00"/>
<rect x="1107" y="162" width="3" height="15" fill="#00ff00"/>
<rect x="1112" y="172" width="1" height="25" fill="#00ff00"/>
<rect x="1111" y="177" width="3" height="5" fill="#00ff00"/>
<rect x="1116" y="177" width="1" height="24" fill="#00ff00"/>
<rect x="1115" y="181" width="3" height="19" fill="#00ff00"/>
<rect x="1120" y="194" width="1" height="7" fill="#ff0000"/>
<rect x="1119" y="197" width="3" height="3" fill="#ff0000"/>
<rect x="1124" y="176" width="1" height="25" fill="#ff0000"/>
<rect x="1123" y="183" width="3" height="11" fill="#ff0000"/>
<rect x="1128" y="152" width="1" height="34" fill="#ff0000"/>
<rect x="1127" y="162" width="3" height="21" fill="#ff0000"/>
<rect x="1132" y="147" width="1" height="28" fill="#ff0000"/>
<rect x="1131" y="160" width="3" height="3" fill="#ff0000"/>
<rect x="1136" y="142" width="1" height="23" fill="#ff0000"/>
<rect x="1135" y="150" width="3" height="11" fill="#ff0000"/>
<rect x="1140" y="148" width="1" height="22" fill="#00ff00"/>
<rect x="1139" y="150" width="3" height="15" fill="#00ff00"/>
<rect x="1144" y="161" width="1" height="4" fill="#ff0000"/>
<rect x="1143" y="162" width="3" height="3" fill="#ff0000"/>
<rect x="1148" y="131" width="1" height="32" fill="#ff0000"/>
<rect x="1147" y="136" width="3" height="27" fill="#ff0000"/>
<rect x="1152" y="130" width="1" height="14" fill="#00ff00"/>
<rect x="1151" y="136" width="3" height="6" fill="#00ff00"/>
<rect x="1156" y="134" width="1" height="26" fill="#00ff00"/>
<rect x="1155" y="139" width="3" height="5" fill="#00ff00"/>
<rect x="1160" y="137" width="1" height="20" fill="#00ff00"/>
<rect x="1159" y="143" width="3" height="6" fill="#00ff00"/>
<rect x="1164" y="120" width="1" height="30" fill="#ff0000"/>
<rect x="1163" y="123" width="3" height="27" fill="#ff0000"/>
<rect x="1168" y="120" width="1" height="6" fill="#ff0000"/>
<rect x="1167" y="120" width="3" height="5" fill="#ff0000"/>
<rect x="1172" y="120" width="1" height="16" fill="#00ff00"/>
<rect x="1171" y="124" width="3" height="5" fill="#00ff00"/>
<rect x="1176" y="125" width="1" height="30" fill="#00ff00"/>
<rect x="1175" y="128" width="3" height="26" fill="#00ff00"/>
<rect x="1180" y="141" width="1" height="20" fill="#ff0000"/>
<rect x="1179" y="146" width="3" height="8" fill="#ff0000"/>
<rect x="1184" y="146" width="1" height="27" fill="#00ff00"/>
<rect x="1183" y="147" width="3" height="21" fill="#00ff00"/>
<rect x="1188" y="153" width="1" height="20" fill="#ff0000"/>
<rect x="1187" y="162" width="3" height="6" fill="#ff0000"/>
<rect x="1192" y="160" width="1" height="4" fill="#ff0000"/>
<rect x="1191" y="161" width="3" height="2" fill="#ff0000"/>
<rect x="1196" y="133" width="1" height="33" fill="#ff0000"/>
<rect x="1195" y="135" width="3" height="29" fill="#ff0000"/>
<rect x="1200" y="115" width="1" height="33" fill="#ff0000"/>
<rect x="1199" y="122" width="3" height="14" fill="#ff0000"/>
<rect x="1204" y="100" width="1" height="23" fill="#ff0000"/>
<rect x="1203" y="105" width="3" height="18" fill="#ff0000"/>
<rect x="1208" y="101" width="1" height="25" fill="#00ff00"/>
<rect x="1207" y="104" width="3" height="18" fill="#00ff00"/>
<rect x="1212" y="108" width="1" height="28" fill="#ff0000"/>
<rect x="1211" y="114" width="3" height="9" fill="#ff0000"/>
<rect x="1216" y="107" width="1" height="11" fill="#ff0000"/>
<rect x="1215" y="109" width="3" height="5" fill="#ff0000"/>
<rect x="1220" y="112" width="1" height="16" fill="#00ff00"/>
<rect x="1219" y="114" width="3" height="12" fill="#00ff00"/>
<rect x="1224" y="116" width="1" height="18" fill="#ff0000"/>
<rect x="1223" y="119" width="3" height="7" fill="#ff0000"/>
<rect x="1228" y="117" width="1" height="44" fill="#00ff00"/>
<rect x="1227" y="118" width="3" height="32" fill="#00ff00"/>
<rect x="1232" y="145" width="1" height="40" fill="#00ff00"/>
<rect x="1231" y="149" width="3" height="35" fill="#00ff00"/>
<rect x="1236" y="169" width="1" height="21" fill="#00ff00"/>
<rect x="1235" y="184" width="3" height="5" fill="#00ff00"/>
<rect x="1240" y="184" width="1" height="6" fill="#00ff00"/>
<rect x="1239" y="188" width="3" height="2" fill="#00ff00"/>
<rect x="1244" y="186" width="1" height="11" fill="#00ff00"/>
<rect x="1243" y="189" width="3" height="4" fill="#00ff00"/>
<rect x="1248" y="155" width="1" height="42" fill="#ff0000"/>
<rect x="1247" y="157" width="3" height="36" fill="#ff0000"/>
<rect x="1252" y="142" width="1" height="62" fill="#00ff00"/>
<rect x="1251" y="157" width="3" height="9" fill="#00ff00"/>
<rect x="1256" y="108" width="1" height="62" fill="#ff0000"/>
<rect x="1255" y="121" width="3" height="45" fill="#ff0000"/>
<rect x="1260" y="96" width="1" height="39" fill="#ff0000"/>
<rect x="1259" y="103" width="3" height="19" fill="#ff0000"/>
<rect x="1264" y="97" width="1" height="8" fill="#ff0000"/>
<rect x="1263" y="100" width="3" height="4" fill="#ff0000"/>
<rect x="1268" y="95" width="1" height="5" fill="#ff0000"/>
<rect x="1267" y="96" width="3" height="2" fill="#ff0000"/>
<path d="M369 441h2v1h-2zM1075 114h4v1h-4zM1100 114h2v1h-2zM1186 146h2v1h-2zM1227 146h28v1h-28zM575 476h8v1h-8zM622 476h2v1h-2zM208 385h3v1h-3zM283 385h4v1h-4zM11 400h8v1h-8zM62 400h2v1h-2zM182 400h2v1h-2zM321 400h2v1h-2zM204 387h2v1h-2zM291 387h4v1h-4zM839 332h4v1h-4zM345 418h2v1h-2zM504 418h3v1h-3zM510 418h2v1h-2zM564 469h2v1h-2zM566 470h2v1h-2zM599 470h8v1h-8zM1188 147h3v1h-3zM1224 147h3v1h-3zM438 430h2v1h-2zM472 430h3v1h-3zM485 430h2v1h-2zM1047 117h4v1h-4zM1059 117h8v1h-8zM1105 117h2v1h-2zM626 478h2v1h-2zM639 478h12v1h-12zM699 478h2v1h-2zM1159 142h16v1h-16zM1262 142h2v1h-2zM446 427h2v1h-2zM466 427h2v1h-2zM489 427h2v1h-2zM95 409h8v1h-8zM139 409h3v1h-3zM333 409h2v1h-2zM507 417h3v1h-3zM863 329h4v1h-4zM231 381h4v1h-4zM263 381h8v1h-8zM227 382h4v1h-4zM271 382h4v1h-4zM658 481h2v1h-2zM687 481h7v1h-7zM353 425h2v1h-2zM450 425h2v1h-2zM462 425h2v1h-2zM443 428h3v1h-3zM468 428h2v1h-2zM235 380h8v1h-8zM259 380h4v1h-4zM72 404h3v1h-3zM151 404h8v1h-8zM1149 138h2v1h-2zM70 403h2v1h-2zM159 403h19v1h-19zM325 403h2v1h-2zM189 396h2v1h-2zM1135 131h3v1h-3zM7 401h4v1h-4zM64 401h3v1h-3zM180 401h2v1h-2zM533 436h2v1h-2zM436 431h2v1h-2zM475 431h10v1h-10zM243 379h16v1h-16zM1032 119h7v1h-7zM572 475h3v1h-3zM583 475h3v1h-3zM619 475h3v1h-3zM200 389h2v1h-2zM299 389h4v1h-4zM1191 148h4v1h-4zM1222 148h2v1h-2zM1182 144h2v1h-2zM1258 144h2v1h-2zM496 422h2v1h-2zM517 422h2v1h-2zM828 337h3v1h-3zM27 398h16v1h-16zM55 398h4v1h-4zM186 398h2v1h-2zM448 426h2v1h-2zM464 426h2v1h-2zM391 455h12v1h-12zM215 383h12v1h-12zM275 383h4v1h-4zM440 429h3v1h-3zM470 429h2v1h-2zM4 402h3v1h-3zM67 402h3v1h-3zM178 402h2v1h-2zM628 479h11v1h-11zM651 479h4v1h-4zM696 479h3v1h-3zM385 452h2v1h-2zM408 452h2v1h-2zM115 414h4v1h-4zM663 483h8v1h-8zM675 483h4v1h-4zM106 411h2v1h-2zM132 411h3v1h-3zM336 411h2v1h-2zM87 408h8v1h-8zM142 408h2v1h-2zM198 390h2v1h-2zM303 390h3v1h-3zM595 471h4v1h-4zM607 471h4v1h-4zM108 412h3v1h-3zM130 412h2v1h-2zM338 412h2v1h-2zM1039 118h8v1h-8zM75 405h4v1h-4zM148 405h3v1h-3zM729 448h2v1h-2zM660 482h3v1h-3zM679 482h8v1h-8zM377 447h2v1h-2zM417 447h2v1h-2zM820 341h2v1h-2zM1127 129h4v1h-4zM380 449h2v1h-2zM414 449h2v1h-2zM561 467h2v1h-2zM1115 123h2v1h-2zM43 397h12v1h-12zM317 397h2v1h-2zM591 472h4v1h-4zM611 472h3v1h-3zM1083 112h15v1h-15zM586 474h2v1h-2zM616 474h3v1h-3zM388 454h3v1h-3zM403 454h3v1h-3zM880 323h2v1h-2zM843 331h16v1h-16zM1071 115h4v1h-4zM1102 115h2v1h-2zM1017 130h2v1h-2zM1131 130h4v1h-4zM876 325h2v1h-2zM1175 143h7v1h-7zM1260 143h2v1h-2zM557 464h2v1h-2zM206 386h2v1h-2zM287 386h4v1h-4zM1155 141h4v1h-4zM1264 141h2v1h-2zM1010 135h2v1h-2zM1144 135h2v1h-2zM202 388h2v1h-2zM295 388h4v1h-4zM1029 121h2v1h-2zM867 328h6v1h-6zM1051 116h8v1h-8zM1067 116h4v1h-4zM19 399h8v1h-8zM59 399h3v1h-3zM184 399h2v1h-2zM452 424h3v1h-3zM459 424h3v1h-3zM493 424h2v1h-2zM797 363h2v1h-2zM373 444h2v1h-2zM421 444h2v1h-2zM813 347h2v1h-2zM455 423h4v1h-4zM500 420h2v1h-2zM514 420h2v1h-2zM79 406h4v1h-4zM146 406h2v1h-2zM329 406h2v1h-2zM111 413h4v1h-4zM119 413h11v1h-11zM1013 133h2v1h-2zM1140 133h2v1h-2zM588 473h3v1h-3zM614 473h2v1h-2zM836 333h3v1h-3zM382 450h2v1h-2zM412 450h2v1h-2zM1195 149h4v1h-4zM1203 149h8v1h-8zM1219 149h3v1h-3zM410 451h2v1h-2zM624 477h2v1h-2zM701 477h2v1h-2zM873 327h2v1h-2zM502 419h2v1h-2zM512 419h2v1h-2zM1199 150h4v1h-4zM1211 150h8v1h-8zM1124 128h3v1h-3zM1025 124h2v1h-2zM1117 124h2v1h-2zM196 391h2v1h-2zM306 391h2v1h-2zM1184 145h2v1h-2zM1255 145h3v1h-3zM885 320h2v1h-2zM314 395h2v1h-2zM1021 127h2v1h-2zM1122 127h2v1h-2zM655 480h3v1h-3zM694 480h2v1h-2zM1109 120h2v1h-2zM406 453h2v1h-2zM826 338h2v1h-2zM1079 113h4v1h-4zM1098 113h2v1h-2zM211 384h4v1h-4zM279 384h4v1h-4zM193 393h2v1h-2zM310 393h2v1h-2zM882 322h2v1h-2zM1120 126h2v1h-2zM498 421h2v1h-2zM83 407h4v1h-4zM144 407h2v1h-2zM1152 140h3v1h-3zM1266 140h2v1h-2zM312 394h2v1h-2zM1138 132h2v1h-2zM671 484h4v1h-4zM1112 122h3v1h-3zM859 330h4v1h-4zM103 410h3v1h-3zM135 410h4v1h-4zM824 339h2v1h-2zM308 392h2v1h-2zM831 336h2v1h-2zM1142 134h2v1h-2zM833 335h2v1h-2zM433 433h2v1h-2zM529 433h2v1h-2zM1008 136h2v1h-2zM1146 136h2v1h-2zM878 324h2v1h-2zM822 340h2v1h-2zM425 441h1v1h-1zM538 440h1v2h-1zM737 441h1v1h-1zM371 442h1v1h-1zM424 442h1v1h-1zM539 442h1v1h-1zM736 442h1v1h-1zM999 146h1v1h-1zM991 155h1v1h-1zM703 476h1v1h-1zM777 385h1v1h-1zM563 468h1v1h-1zM711 468h1v1h-1zM375 445h1v1h-1zM420 445h1v1h-1zM542 445h1v2h-1zM733 445h1v1h-1zM765 400h1v1h-1zM775 387h1v1h-1zM751 418h1v2h-1zM710 469h1v1h-1zM709 470h1v1h-1zM998 147h1v2h-1zM359 430h1v1h-1zM526 430h1v1h-1zM745 429h1v2h-1zM1002 142h1v2h-1zM356 427h1v1h-1zM523 427h1v1h-1zM746 427h1v2h-1zM758 409h1v2h-1zM362 433h1v2h-1zM432 434h1v1h-1zM531 434h1v1h-1zM742 434h1v1h-1zM344 417h1v1h-1zM752 417h1v1h-1zM781 381h1v1h-1zM780 382h1v1h-1zM951 216h1v2h-1zM492 425h1v1h-1zM521 425h1v1h-1zM747 425h1v2h-1zM357 428h1v1h-1zM488 428h1v1h-1zM524 428h1v1h-1zM782 379h1v2h-1zM327 404h1v1h-1zM762 404h1v1h-1zM1006 138h1v1h-1zM763 402h1v2h-1zM316 396h1v1h-1zM768 396h1v1h-1zM1016 131h1v1h-1zM323 401h1v1h-1zM764 401h1v1h-1zM364 436h1v1h-1zM430 436h1v1h-1zM741 435h1v2h-1zM360 431h1v1h-1zM527 431h1v1h-1zM744 431h1v1h-1zM1108 119h1v1h-1zM704 475h1v1h-1zM774 388h1v2h-1zM559 465h1v1h-1zM714 465h1v1h-1zM985 163h1v2h-1zM560 466h1v1h-1zM713 466h1v1h-1zM894 310h1v2h-1zM909 289h1v2h-1zM954 212h1v2h-1zM1001 144h1v1h-1zM350 422h1v1h-1zM749 422h1v2h-1zM319 398h1v1h-1zM766 398h1v2h-1zM355 426h1v1h-1zM491 426h1v1h-1zM522 426h1v1h-1zM549 455h1v1h-1zM723 455h1v1h-1zM950 218h1v2h-1zM779 383h1v1h-1zM358 429h1v1h-1zM487 429h1v1h-1zM525 429h1v1h-1zM324 402h1v1h-1zM902 299h1v2h-1zM547 452h1v2h-1zM726 451h1v2h-1zM946 225h1v2h-1zM341 414h1v1h-1zM754 414h1v2h-1zM897 306h1v2h-1zM554 461h1v1h-1zM718 461h1v1h-1zM757 411h1v1h-1zM555 462h1v1h-1zM717 462h1v1h-1zM332 408h1v1h-1zM759 408h1v1h-1zM773 390h1v1h-1zM568 471h1v1h-1zM708 471h1v1h-1zM756 412h1v1h-1zM1107 118h1v1h-1zM328 405h1v1h-1zM761 405h1v2h-1zM949 220h1v2h-1zM379 448h1v1h-1zM416 448h1v1h-1zM544 448h1v1h-1zM543 447h1v1h-1zM731 447h1v1h-1zM1019 129h1v1h-1zM366 438h1v1h-1zM428 438h1v1h-1zM536 438h1v1h-1zM739 438h1v1h-1zM545 449h1v2h-1zM728 449h1v1h-1zM945 227h1v2h-1zM712 467h1v1h-1zM1027 123h1v1h-1zM188 397h1v1h-1zM767 397h1v1h-1zM941 234h1v2h-1zM569 472h1v1h-1zM707 472h1v1h-1zM571 474h1v1h-1zM705 474h1v1h-1zM548 454h1v1h-1zM724 454h1v1h-1zM361 432h1v1h-1zM435 432h1v1h-1zM528 432h1v1h-1zM743 432h1v2h-1zM715 464h1v1h-1zM776 386h1v1h-1zM1003 141h1v1h-1zM787 373h1v1h-1zM918 275h1v2h-1zM959 205h1v2h-1zM927 258h1v2h-1zM1111 121h1v1h-1zM911 286h1v2h-1zM363 435h1v1h-1zM431 435h1v1h-1zM532 435h1v1h-1zM791 369h1v1h-1zM1104 116h1v1h-1zM806 354h1v1h-1zM786 374h1v2h-1zM320 399h1v1h-1zM352 424h1v1h-1zM520 424h1v1h-1zM748 424h1v1h-1zM887 319h1v1h-1zM541 444h1v1h-1zM734 444h1v1h-1zM926 260h1v2h-1zM351 423h1v1h-1zM495 423h1v1h-1zM519 423h1v1h-1zM890 315h1v2h-1zM922 267h1v2h-1zM348 420h1v1h-1zM750 420h1v2h-1zM340 413h1v1h-1zM755 413h1v1h-1zM372 443h1v1h-1zM423 443h1v1h-1zM540 443h1v1h-1zM735 443h1v1h-1zM570 473h1v1h-1zM706 473h1v1h-1zM550 456h1v2h-1zM722 456h1v2h-1zM969 189h1v2h-1zM965 196h1v2h-1zM921 269h1v2h-1zM727 450h1v1h-1zM997 149h1v1h-1zM384 451h1v1h-1zM546 451h1v1h-1zM365 437h1v1h-1zM429 437h1v1h-1zM535 437h1v1h-1zM740 437h1v1h-1zM913 283h1v2h-1zM347 419h1v1h-1zM968 191h1v1h-1zM936 243h1v2h-1zM964 198h1v1h-1zM996 150h1v1h-1zM376 446h1v1h-1zM419 446h1v1h-1zM732 446h1v1h-1zM1007 137h1v1h-1zM1148 137h1v1h-1zM1020 128h1v1h-1zM553 460h1v1h-1zM719 460h1v1h-1zM955 211h1v1h-1zM988 159h1v1h-1zM772 391h1v1h-1zM935 245h1v2h-1zM994 152h1v1h-1zM963 199h1v2h-1zM903 298h1v1h-1zM884 321h1v1h-1zM931 252h1v2h-1zM799 362h1v1h-1zM1000 145h1v1h-1zM982 168h1v2h-1zM891 314h1v1h-1zM802 358h1v2h-1zM191 395h1v1h-1zM769 395h1v1h-1zM818 343h1v1h-1zM974 181h1v2h-1zM809 351h1v1h-1zM970 188h1v1h-1zM973 183h1v2h-1zM343 416h1v1h-1zM753 416h1v1h-1zM960 204h1v1h-1zM917 277h1v2h-1zM1031 120h1v1h-1zM792 368h1v1h-1zM1024 125h1v1h-1zM1119 125h1v1h-1zM984 165h1v1h-1zM387 453h1v1h-1zM725 453h1v1h-1zM908 291h1v1h-1zM784 377h1v1h-1zM995 151h1v1h-1zM367 439h1v1h-1zM427 439h1v1h-1zM537 439h1v1h-1zM738 439h1v2h-1zM368 440h1v1h-1zM426 440h1v1h-1zM987 160h1v2h-1zM778 384h1v1h-1zM983 166h1v2h-1zM907 292h1v2h-1zM770 393h1v2h-1zM803 357h1v1h-1zM979 173h1v2h-1zM930 254h1v1h-1zM1023 126h1v1h-1zM895 309h1v1h-1zM349 421h1v1h-1zM516 421h1v1h-1zM817 344h1v1h-1zM875 326h1v1h-1zM331 407h1v1h-1zM760 407h1v1h-1zM1004 140h1v1h-1zM932 251h1v1h-1zM192 394h1v1h-1zM916 279h1v1h-1zM952 215h1v1h-1zM788 372h1v1h-1zM783 378h1v1h-1zM948 222h1v1h-1zM1015 132h1v1h-1zM900 302h1v1h-1zM795 365h1v1h-1zM810 350h1v1h-1zM1028 122h1v1h-1zM556 463h1v1h-1zM716 463h1v1h-1zM978 175h1v1h-1zM947 223h1v2h-1zM1005 139h1v1h-1zM1151 139h1v1h-1zM1268 139h1v1h-1zM943 230h1v2h-1zM939 237h1v2h-1zM335 410h1v1h-1zM942 232h1v2h-1zM785 376h1v1h-1zM938 239h1v2h-1zM934 247h1v2h-1zM993 153h1v1h-1zM912 285h1v1h-1zM953 214h1v1h-1zM195 392h1v1h-1zM771 392h1v1h-1zM804 356h1v1h-1zM905 295h1v2h-1zM977 176h1v2h-1zM956 210h1v1h-1zM896 308h1v1h-1zM811 349h1v1h-1zM835 334h1v1h-1zM1012 134h1v1h-1zM899 303h1v2h-1zM923 265h1v2h-1zM551 458h1v1h-1zM721 458h1v1h-1zM958 207h1v1h-1zM986 162h1v1h-1zM789 371h1v1h-1zM910 288h1v1h-1zM937 241h1v2h-1zM992 154h1v1h-1zM961 202h1v2h-1zM901 301h1v1h-1zM796 364h1v1h-1zM929 255h1v2h-1zM793 367h1v1h-1zM957 208h1v2h-1zM925 262h1v2h-1zM889 317h1v1h-1zM981 170h1v2h-1zM816 345h1v1h-1zM928 257h1v1h-1zM924 264h1v1h-1zM807 353h1v1h-1zM920 271h1v2h-1zM975 179h1v2h-1zM971 186h1v2h-1zM967 192h1v2h-1zM919 273h1v2h-1zM915 280h1v2h-1zM790 370h1v1h-1zM906 294h1v1h-1zM966 194h1v2h-1zM990 156h1v2h-1zM342 415h1v1h-1zM801 360h1v1h-1zM933 249h1v2h-1zM893 312h1v1h-1zM888 318h1v1h-1zM980 172h1v1h-1zM815 346h1v1h-1zM552 459h1v1h-1zM720 459h1v1h-1zM962 201h1v1h-1zM794 366h1v1h-1zM914 282h1v1h-1zM989 158h1v1h-1zM898 305h1v1h-1zM808 352h1v1h-1zM805 355h1v1h-1zM904 297h1v1h-1zM800 361h1v1h-1zM976 178h1v1h-1zM972 185h1v1h-1zM812 348h1v1h-1zM892 313h1v1h-1zM819 342h1v1h-1zM944 229h1v1h-1zM940 236h1v1h-1z" fill="#0000ff"/>
<path d="M203 377h4v1h-4zM67 416h8v1h-8zM87 416h8v1h-8zM317 416h2v1h-2zM492 466h3v1h-3zM498 466h2v1h-2zM811 342h4v1h-4zM819 342h12v1h-12zM968 132h3v1h-3zM192 382h2v1h-2zM258 382h2v1h-2zM75 417h12v1h-12zM1216 133h10v1h-10zM216 371h7v1h-7zM239 371h3v1h-3zM996 121h2v1h-2zM1007 121h3v1h-3zM572 473h3v1h-3zM584 473h2v1h-2zM19 395h3v1h-3zM144 395h2v1h-2zM231 369h4v1h-4zM775 324h3v1h-3zM321 419h2v1h-2zM29 400h2v1h-2zM137 400h2v1h-2zM784 329h3v1h-3zM791 329h4v1h-4zM988 120h2v1h-2zM1010 120h2v1h-2zM1101 120h2v1h-2zM60 415h7v1h-7zM95 415h8v1h-8zM107 415h8v1h-8zM509 475h2v1h-2zM563 475h7v1h-7zM52 414h3v1h-3zM58 414h2v1h-2zM103 414h4v1h-4zM115 414h4v1h-4zM24 397h2v1h-2zM141 397h2v1h-2zM953 141h2v1h-2zM1202 141h2v1h-2zM1239 141h2v1h-2zM44 410h2v1h-2zM125 410h2v1h-2zM303 410h4v1h-4zM1017 117h2v1h-2zM1088 117h7v1h-7zM1097 117h2v1h-2zM974 130h2v1h-2zM619 480h7v1h-7zM647 480h4v1h-4zM655 480h4v1h-4zM686 480h2v1h-2zM1180 145h3v1h-3zM1252 145h11v1h-11zM189 384h2v1h-2zM262 384h2v1h-2zM1040 110h2v1h-2zM1064 110h3v1h-3zM1075 110h4v1h-4zM1146 163h2v1h-2zM1161 163h2v1h-2zM12 392h2v1h-2zM151 392h8v1h-8zM163 392h4v1h-4zM274 392h2v1h-2zM260 383h2v1h-2zM209 375h2v1h-2zM613 483h2v1h-2zM631 483h8v1h-8zM680 483h2v1h-2zM844 333h3v1h-3zM851 333h3v1h-3zM6 388h2v1h-2zM180 388h2v1h-2zM1125 147h2v1h-2zM1177 147h2v1h-2zM1191 147h3v1h-3zM840 335h2v1h-2zM560 474h3v1h-3zM570 474h2v1h-2zM586 474h2v1h-2zM808 341h3v1h-3zM815 341h4v1h-4zM831 341h2v1h-2zM32 402h2v1h-2zM289 402h2v1h-2zM167 391h8v1h-8zM272 391h2v1h-2zM1247 143h3v1h-3zM1267 143h2v1h-2zM990 119h2v1h-2zM993 119h2v1h-2zM1012 119h3v1h-3zM1148 164h2v1h-2zM46 411h2v1h-2zM307 411h4v1h-4zM296 407h2v1h-2zM500 467h3v1h-3zM553 467h2v1h-2zM37 405h2v1h-2zM293 405h2v1h-2zM382 485h2v1h-2zM392 485h2v1h-2zM603 485h4v1h-4zM610 485h2v1h-2zM664 485h2v1h-2zM677 485h2v1h-2zM616 481h3v1h-3zM626 481h2v1h-2zM643 481h4v1h-4zM659 481h2v1h-2zM684 481h2v1h-2zM1141 160h2v1h-2zM503 468h2v1h-2zM854 332h2v1h-2zM529 464h2v1h-2zM184 386h3v1h-3zM265 386h2v1h-2zM48 412h2v1h-2zM122 412h2v1h-2zM311 412h2v1h-2zM22 396h2v1h-2zM281 396h2v1h-2zM575 472h4v1h-4zM582 472h2v1h-2zM200 378h3v1h-3zM9 390h2v1h-2zM175 390h3v1h-3zM837 337h2v1h-2zM198 379h2v1h-2zM253 379h2v1h-2zM1210 137h2v1h-2zM196 380h2v1h-2zM593 479h2v1h-2zM651 479h4v1h-4zM688 479h3v1h-3zM589 476h2v1h-2zM214 372h2v1h-2zM242 372h2v1h-2zM1015 118h2v1h-2zM1025 112h2v1h-2zM1044 112h3v1h-3zM1050 112h2v1h-2zM1059 112h3v1h-3zM1081 112h2v1h-2zM772 325h3v1h-3zM778 325h2v1h-2zM512 477h3v1h-3zM517 477h2v1h-2zM34 403h2v1h-2zM133 403h2v1h-2zM998 122h2v1h-2zM1003 122h4v1h-4zM515 478h2v1h-2zM691 478h2v1h-2zM454 359h2v1h-2zM1197 144h2v1h-2zM1244 144h3v1h-3zM1250 144h2v1h-2zM1263 144h4v1h-4zM377 482h2v1h-2zM597 482h2v1h-2zM628 482h3v1h-3zM639 482h4v1h-4zM682 482h2v1h-2zM14 393h2v1h-2zM148 393h3v1h-3zM159 393h4v1h-4zM276 393h2v1h-2zM542 457h2v1h-2zM769 327h2v1h-2zM781 327h2v1h-2zM1152 166h6v1h-6zM1173 150h2v1h-2zM495 465h3v1h-3zM533 461h2v1h-2zM41 408h2v1h-2zM298 408h2v1h-2zM579 471h3v1h-3zM194 381h2v1h-2zM256 381h2v1h-2zM223 370h8v1h-8zM235 370h4v1h-4zM333 427h2v1h-2zM50 413h2v1h-2zM55 413h3v1h-3zM119 413h3v1h-3zM313 413h2v1h-2zM537 458h2v1h-2zM833 340h2v1h-2zM963 135h2v1h-2zM1213 135h2v1h-2zM1228 135h2v1h-2zM1095 116h2v1h-2zM957 138h2v1h-2zM1208 138h2v1h-2zM1233 138h2v1h-2zM380 484h2v1h-2zM394 484h2v1h-2zM600 484h3v1h-3zM328 424h2v1h-2zM300 409h3v1h-3zM387 487h3v1h-3zM668 487h3v1h-3zM674 487h2v1h-2zM207 376h2v1h-2zM249 376h2v1h-2zM187 385h2v1h-2zM384 486h3v1h-3zM390 486h2v1h-2zM607 486h3v1h-3zM666 486h2v1h-2zM178 389h2v1h-2zM269 389h2v1h-2zM671 488h3v1h-3zM965 134h2v1h-2zM1226 134h2v1h-2zM1206 139h2v1h-2zM1183 146h8v1h-8zM1194 146h2v1h-2zM787 330h4v1h-4zM795 330h2v1h-2zM1000 123h3v1h-3zM285 399h2v1h-2zM1029 109h2v1h-2zM1038 109h2v1h-2zM1067 109h8v1h-8zM1144 162h2v1h-2zM337 430h2v1h-2zM976 129h3v1h-3zM445 364h2v1h-2zM16 394h3v1h-3zM146 394h2v1h-2zM278 394h2v1h-2zM1022 114h2v1h-2zM1035 108h3v1h-3zM842 334h2v1h-2zM847 334h4v1h-4zM540 456h2v1h-2zM26 398h2v1h-2zM1042 111h2v1h-2zM1052 111h7v1h-7zM1062 111h2v1h-2zM1079 111h2v1h-2zM960 136h3v1h-3zM1230 136h2v1h-2zM1150 165h2v1h-2zM1158 165h2v1h-2zM1137 157h2v1h-2zM1047 113h3v1h-3zM1020 115h2v1h-2zM1085 115h2v1h-2zM1133 154h2v1h-2zM971 131h3v1h-3zM4 387h2v1h-2zM182 387h2v1h-2zM1109 127h2v1h-2zM325 422h2v1h-2zM979 128h2v1h-2zM797 331h2v1h-2zM246 374h2v1h-2zM330 425h2v1h-2zM1204 140h2v1h-2zM1236 140h3v1h-3zM212 373h2v1h-2zM244 373h2v1h-2zM1032 107h3v1h-3zM1200 142h2v1h-2zM1241 142h2v1h-2zM452 358h2v1h-2zM251 377h1v1h-1zM436 376h1v2h-1zM463 377h1v3h-1zM742 377h1v3h-1zM424 414h1v4h-1zM474 413h1v4h-1zM727 415h1v2h-1zM363 465h1v2h-1zM406 465h1v3h-1zM527 466h1v2h-1zM552 466h1v1h-1zM703 466h1v1h-1zM361 461h1v2h-1zM408 460h1v3h-1zM489 461h1v2h-1zM532 462h1v1h-1zM548 462h1v1h-1zM706 461h1v2h-1zM755 342h1v2h-1zM1114 131h1v2h-1zM434 381h1v2h-1zM464 380h1v3h-1zM741 380h1v3h-1zM749 356h1v3h-1zM889 287h1v2h-1zM319 417h1v1h-1zM475 417h1v4h-1zM726 417h1v3h-1zM901 262h1v2h-1zM449 361h1v1h-1zM456 360h1v2h-1zM748 359h1v3h-1zM967 133h1v1h-1zM1115 133h1v1h-1zM439 371h1v2h-1zM461 370h1v3h-1zM744 371h1v3h-1zM987 121h1v1h-1zM1103 121h1v1h-1zM368 473h1v1h-1zM403 472h1v2h-1zM507 472h1v2h-1zM522 473h1v1h-1zM559 473h1v1h-1zM697 473h1v1h-1zM280 395h1v1h-1zM430 392h1v4h-1zM469 395h1v4h-1zM736 394h1v3h-1zM441 369h1v1h-1zM460 368h1v2h-1zM745 368h1v3h-1zM353 447h1v2h-1zM414 447h1v3h-1zM483 447h1v4h-1zM713 447h1v2h-1zM862 324h1v2h-1zM928 190h1v3h-1zM423 418h1v3h-1zM287 400h1v1h-1zM428 399h1v3h-1zM470 399h1v3h-1zM734 399h1v2h-1zM767 329h1v1h-1zM858 329h1v1h-1zM995 120h1v1h-1zM917 219h1v2h-1zM316 415h1v1h-1zM355 451h1v2h-1zM412 452h1v2h-1zM484 451h1v3h-1zM711 451h1v2h-1zM370 475h1v1h-1zM402 474h1v2h-1zM520 475h1v1h-1zM588 475h1v1h-1zM695 475h1v1h-1zM315 414h1v1h-1zM728 412h1v3h-1zM283 397h1v1h-1zM429 396h1v3h-1zM735 397h1v2h-1zM1120 141h1v1h-1zM425 410h1v4h-1zM473 409h1v4h-1zM729 410h1v2h-1zM357 454h1v2h-1zM411 454h1v2h-1zM485 454h1v2h-1zM709 455h1v2h-1zM1113 130h1v1h-1zM375 480h1v1h-1zM398 480h1v2h-1zM595 480h1v1h-1zM336 429h1v1h-1zM420 428h1v3h-1zM478 428h1v3h-1zM721 429h1v2h-1zM950 144h1v2h-1zM1123 145h1v1h-1zM1196 145h1v1h-1zM433 383h1v3h-1zM465 383h1v3h-1zM740 383h1v3h-1zM1028 110h1v1h-1zM939 163h1v3h-1zM468 392h1v3h-1zM737 391h1v3h-1zM924 199h1v3h-1zM904 255h1v3h-1zM191 383h1v1h-1zM248 375h1v1h-1zM437 374h1v2h-1zM462 373h1v4h-1zM743 374h1v3h-1zM379 483h1v1h-1zM396 483h1v1h-1zM599 483h1v1h-1zM662 483h1v1h-1zM450 360h1v1h-1zM763 333h1v1h-1zM800 333h1v1h-1zM268 388h1v1h-1zM432 386h1v3h-1zM466 386h1v3h-1zM739 386h1v3h-1zM900 264h1v2h-1zM948 147h1v1h-1zM762 334h1v2h-1zM802 335h1v1h-1zM369 474h1v1h-1zM508 474h1v1h-1zM521 474h1v1h-1zM696 474h1v1h-1zM868 317h1v1h-1zM344 437h1v1h-1zM418 435h1v3h-1zM480 435h1v4h-1zM718 436h1v3h-1zM756 341h1v1h-1zM135 402h1v1h-1zM427 402h1v4h-1zM471 402h1v4h-1zM733 401h1v2h-1zM11 391h1v1h-1zM431 389h1v3h-1zM467 389h1v3h-1zM951 143h1v1h-1zM1122 143h1v2h-1zM1199 143h1v1h-1zM1243 143h1v1h-1zM863 323h1v1h-1zM908 243h1v3h-1zM915 224h1v3h-1zM982 126h1v1h-1zM1108 126h1v1h-1zM879 303h1v1h-1zM752 348h1v3h-1zM1100 119h1v1h-1zM1160 164h1v1h-1zM124 411h1v1h-1zM40 407h1v1h-1zM129 407h1v1h-1zM426 406h1v4h-1zM472 406h1v3h-1zM731 406h1v2h-1zM364 467h1v1h-1zM702 467h1v2h-1zM923 202h1v3h-1zM768 328h1v1h-1zM783 328h1v1h-1zM859 328h1v1h-1zM131 405h1v1h-1zM732 403h1v3h-1zM362 463h1v2h-1zM407 463h1v2h-1zM490 463h1v1h-1zM531 463h1v1h-1zM549 463h1v1h-1zM705 463h1v2h-1zM935 175h1v2h-1zM376 481h1v1h-1zM596 481h1v1h-1zM940 160h1v3h-1zM1165 160h1v1h-1zM365 468h1v2h-1zM405 468h1v2h-1zM526 468h1v1h-1zM555 468h1v1h-1zM764 332h1v1h-1zM799 332h1v1h-1zM491 464h1v2h-1zM550 464h1v1h-1zM324 421h1v1h-1zM422 421h1v4h-1zM476 421h1v3h-1zM725 420h1v2h-1zM944 152h1v2h-1zM1132 153h1v1h-1zM1170 153h1v2h-1zM143 396h1v1h-1zM367 471h1v2h-1zM523 472h1v1h-1zM558 471h1v2h-1zM698 472h1v1h-1zM352 446h1v1h-1zM415 445h1v2h-1zM482 443h1v4h-1zM714 445h1v2h-1zM252 378h1v1h-1zM435 378h1v3h-1zM271 390h1v1h-1zM738 389h1v2h-1zM760 337h1v1h-1zM804 337h1v1h-1zM1143 161h1v1h-1zM1164 161h1v1h-1zM959 137h1v1h-1zM1118 137h1v2h-1zM1232 137h1v1h-1zM932 181h1v3h-1zM255 380h1v1h-1zM444 365h1v1h-1zM458 364h1v2h-1zM746 365h1v3h-1zM374 479h1v1h-1zM399 479h1v1h-1zM371 476h1v1h-1zM401 476h1v2h-1zM511 476h1v1h-1zM519 476h1v1h-1zM694 476h1v1h-1zM992 118h1v1h-1zM1099 118h1v1h-1zM894 277h1v2h-1zM354 449h1v2h-1zM712 449h1v2h-1zM710 453h1v2h-1zM372 477h1v1h-1zM591 477h1v1h-1zM693 477h1v1h-1zM291 403h1v1h-1zM413 450h1v2h-1zM914 227h1v2h-1zM947 148h1v1h-1zM1127 148h1v1h-1zM1176 148h1v1h-1zM878 304h1v2h-1zM36 404h1v1h-1zM132 404h1v1h-1zM292 404h1v1h-1zM345 438h1v1h-1zM417 438h1v4h-1zM986 122h1v1h-1zM1104 122h1v1h-1zM373 478h1v1h-1zM400 478h1v1h-1zM592 478h1v1h-1zM451 359h1v1h-1zM351 445h1v1h-1zM397 482h1v1h-1zM615 482h1v1h-1zM661 482h1v1h-1zM442 367h1v2h-1zM459 366h1v2h-1zM342 434h1v2h-1zM419 431h1v4h-1zM479 431h1v4h-1zM719 434h1v2h-1zM350 443h1v2h-1zM416 442h1v3h-1zM715 443h1v2h-1zM358 456h1v2h-1zM410 456h1v2h-1zM486 456h1v2h-1zM539 457h1v1h-1zM708 457h1v2h-1zM860 327h1v1h-1zM938 166h1v4h-1zM758 339h1v1h-1zM806 339h1v1h-1zM835 339h1v1h-1zM893 279h1v2h-1zM927 193h1v2h-1zM320 418h1v1h-1zM946 149h1v2h-1zM1129 150h1v1h-1zM905 252h1v3h-1zM528 465h1v1h-1zM551 465h1v1h-1zM704 465h1v1h-1zM547 461h1v1h-1zM128 408h1v1h-1zM730 408h1v2h-1zM404 470h1v2h-1zM506 471h1v1h-1zM524 471h1v1h-1zM699 471h1v1h-1zM347 440h1v1h-1zM481 439h1v4h-1zM717 439h1v2h-1zM751 351h1v3h-1zM440 370h1v1h-1zM910 238h1v2h-1zM421 425h1v3h-1zM477 424h1v4h-1zM722 427h1v2h-1zM359 458h1v2h-1zM409 458h1v2h-1zM487 458h1v2h-1zM544 458h1v1h-1zM757 340h1v1h-1zM807 340h1v1h-1zM1117 135h1v2h-1zM892 281h1v2h-1zM1019 116h1v1h-1zM1087 116h1v1h-1zM612 484h1v1h-1zM663 484h1v1h-1zM679 484h1v1h-1zM346 439h1v1h-1zM888 289h1v2h-1zM343 436h1v1h-1zM884 296h1v1h-1zM327 423h1v1h-1zM724 422h1v3h-1zM43 409h1v1h-1zM127 409h1v1h-1zM1131 152h1v1h-1zM1171 152h1v1h-1zM264 385h1v1h-1zM872 312h1v1h-1zM676 486h1v1h-1zM8 389h1v1h-1zM505 469h1v2h-1zM525 469h1v2h-1zM556 469h1v1h-1zM701 469h1v1h-1zM366 470h1v1h-1zM557 470h1v1h-1zM700 470h1v1h-1zM867 318h1v1h-1zM761 336h1v1h-1zM803 336h1v1h-1zM839 336h1v1h-1zM1116 134h1v1h-1zM1215 134h1v1h-1zM883 297h1v2h-1zM956 139h1v1h-1zM1119 139h1v2h-1zM1235 139h1v1h-1zM949 146h1v1h-1zM1124 146h1v1h-1zM1179 146h1v1h-1zM766 330h1v1h-1zM857 330h1v1h-1zM907 246h1v3h-1zM985 123h1v1h-1zM1105 123h1v1h-1zM28 399h1v1h-1zM139 399h1v1h-1zM942 156h1v2h-1zM1136 156h1v1h-1zM1168 156h1v1h-1zM931 184h1v2h-1zM341 433h1v1h-1zM720 431h1v3h-1zM1163 162h1v1h-1zM866 319h1v2h-1zM1128 149h1v1h-1zM1175 149h1v1h-1zM1112 129h1v1h-1zM747 362h1v3h-1zM447 363h1v1h-1zM457 362h1v2h-1zM930 186h1v2h-1zM941 158h1v2h-1zM1140 159h1v1h-1zM1166 158h1v2h-1zM39 406h1v1h-1zM130 406h1v1h-1zM295 406h1v1h-1zM1084 114h1v1h-1zM1031 108h1v1h-1zM750 354h1v2h-1zM801 334h1v1h-1zM340 432h1v1h-1zM323 420h1v1h-1zM943 154h1v2h-1zM1135 155h1v1h-1zM1169 155h1v1h-1zM536 459h1v1h-1zM545 459h1v1h-1zM707 459h1v2h-1zM937 170h1v3h-1zM356 453h1v1h-1zM140 398h1v1h-1zM284 398h1v1h-1zM1027 111h1v1h-1zM348 441h1v1h-1zM716 441h1v2h-1zM945 151h1v1h-1zM1130 151h1v1h-1zM1172 151h1v1h-1zM1212 136h1v1h-1zM1139 158h1v1h-1zM896 272h1v3h-1zM771 326h1v1h-1zM780 326h1v1h-1zM861 326h1v1h-1zM335 428h1v1h-1zM916 221h1v3h-1zM876 307h1v1h-1zM871 313h1v1h-1zM899 266h1v2h-1zM332 426h1v1h-1zM723 425h1v2h-1zM1167 157h1v1h-1zM1024 113h1v1h-1zM1083 113h1v1h-1zM31 401h1v1h-1zM136 401h1v1h-1zM288 401h1v1h-1zM926 195h1v2h-1zM267 387h1v1h-1zM934 177h1v2h-1zM909 240h1v3h-1zM881 300h1v2h-1zM981 127h1v1h-1zM339 431h1v1h-1zM754 344h1v2h-1zM913 229h1v3h-1zM349 442h1v1h-1zM933 179h1v2h-1zM864 322h1v1h-1zM1111 128h1v1h-1zM753 346h1v2h-1zM765 331h1v1h-1zM856 331h1v1h-1zM920 211h1v3h-1zM895 275h1v2h-1zM891 283h1v2h-1zM211 374h1v1h-1zM919 214h1v2h-1zM955 140h1v1h-1zM890 285h1v2h-1zM902 260h1v2h-1zM918 216h1v3h-1zM877 306h1v1h-1zM922 205h1v3h-1zM438 373h1v1h-1zM929 188h1v2h-1zM984 124h1v1h-1zM1106 124h1v1h-1zM912 232h1v3h-1zM903 258h1v2h-1zM911 235h1v3h-1zM448 362h1v1h-1zM885 294h1v2h-1zM870 314h1v2h-1zM865 321h1v1h-1zM898 268h1v2h-1zM360 460h1v1h-1zM488 460h1v1h-1zM535 460h1v1h-1zM546 460h1v1h-1zM906 249h1v3h-1zM952 142h1v1h-1zM1121 142h1v1h-1zM983 125h1v1h-1zM1107 125h1v1h-1zM887 291h1v2h-1zM759 338h1v1h-1zM805 338h1v1h-1zM836 338h1v1h-1zM936 173h1v2h-1zM886 293h1v1h-1zM874 309h1v2h-1zM869 316h1v1h-1zM897 270h1v2h-1zM443 366h1v1h-1zM921 208h1v3h-1zM882 299h1v1h-1zM873 311h1v1h-1zM925 197h1v2h-1zM880 302h1v1h-1zM875 308h1v1h-1z" fill="#ff0000"/>
<path d="M881 271h2v1h-2zM777 342h2v1h-2zM820 342h3v1h-3zM1172 132h2v1h-2zM435 306h2v1h-2zM930 137h2v1h-2zM935 137h2v1h-2zM1165 137h2v1h-2zM197 356h2v1h-2zM205 356h2v1h-2zM144 381h3v1h-3zM150 381h2v1h-2zM246 381h2v1h-2zM250 381h2v1h-2zM170 398h2v1h-2zM175 398h2v1h-2zM555 455h2v1h-2zM36 422h3v1h-3zM546 463h2v1h-2zM579 483h2v1h-2zM54 405h2v1h-2zM58 405h2v1h-2zM123 405h2v1h-2zM926 139h2v1h-2zM965 139h2v1h-2zM745 313h2v1h-2zM1169 134h2v1h-2zM1176 134h5v1h-5zM30 424h2v1h-2zM33 424h2v1h-2zM76 424h2v1h-2zM596 501h3v1h-3zM561 465h2v1h-2zM552 454h3v1h-3zM988 103h2v1h-2zM1056 122h2v1h-2zM314 409h2v1h-2zM1155 149h2v1h-2zM814 344h2v1h-2zM817 344h2v1h-2zM650 490h2v1h-2zM1071 119h2v1h-2zM784 350h5v1h-5zM565 468h2v1h-2zM52 406h2v1h-2zM232 386h9v1h-9zM689 457h2v1h-2zM504 414h2v1h-2zM368 499h3v1h-3zM592 499h2v1h-2zM601 499h2v1h-2zM620 456h5v1h-5zM684 456h5v1h-5zM435 307h2v1h-2zM753 307h2v1h-2zM1219 115h2v1h-2zM941 128h2v1h-2zM168 397h2v1h-2zM648 491h2v1h-2zM208 358h2v1h-2zM802 335h2v1h-2zM806 335h2v1h-2zM1174 133h2v1h-2zM477 535h2v1h-2zM695 460h4v1h-4zM798 337h2v1h-2zM947 127h3v1h-3zM312 408h2v1h-2zM154 383h2v1h-2zM28 423h2v1h-2zM289 423h2v1h-2zM855 316h2v1h-2zM990 102h2v1h-2zM928 138h2v1h-2zM528 494h5v1h-5zM640 494h2v1h-2zM657 494h2v1h-2zM544 464h2v1h-2zM25 421h2v1h-2zM39 421h2v1h-2zM56 404h2v1h-2zM104 404h2v1h-2zM115 404h8v1h-8zM147 380h3v1h-3zM248 380h2v1h-2zM804 334h2v1h-2zM1077 112h2v1h-2zM1092 112h2v1h-2zM309 410h2v1h-2zM1064 120h7v1h-7zM365 497h2v1h-2zM374 497h2v1h-2zM594 500h2v1h-2zM599 500h2v1h-2zM924 140h2v1h-2zM203 355h2v1h-2zM1084 113h3v1h-3zM1090 113h2v1h-2zM1094 113h2v1h-2zM576 482h3v1h-3zM692 459h3v1h-3zM699 459h2v1h-2zM78 425h2v1h-2zM292 425h5v1h-5zM952 125h3v1h-3zM165 395h2v1h-2zM1121 185h2v1h-2zM378 495h2v1h-2zM642 495h2v1h-2zM665 495h2v1h-2zM257 387h2v1h-2zM80 426h9v1h-9zM108 402h3v1h-3zM944 126h3v1h-3zM950 126h2v1h-2zM955 126h2v1h-2zM172 399h3v1h-3zM152 382h2v1h-2zM244 382h2v1h-2zM773 339h2v1h-2zM1081 111h2v1h-2zM17 413h2v1h-2zM200 354h3v1h-3zM823 341h4v1h-4zM827 340h6v1h-6zM376 496h2v1h-2zM660 496h5v1h-5zM812 343h2v1h-2zM371 498h3v1h-3zM932 136h3v1h-3zM852 315h3v1h-3zM1157 148h2v1h-2zM800 336h2v1h-2zM1035 91h2v1h-2zM106 403h2v1h-2zM111 403h4v1h-4zM1087 114h3v1h-3zM1216 114h3v1h-3zM796 338h2v1h-2zM1221 116h2v1h-2zM1244 180h2v1h-2zM1125 186h2v1h-2zM1058 123h2v1h-2zM479 536h2v1h-2zM1032 92h3v1h-3zM1152 150h3v1h-3zM210 359h2v1h-2zM1246 181h2v1h-2zM432 312h1v2h-1zM438 312h1v4h-1zM747 312h1v1h-1zM759 312h1v1h-1zM859 312h1v1h-1zM4 384h1v2h-1zM142 383h1v2h-1zM156 384h1v1h-1zM184 383h1v2h-1zM230 383h1v2h-1zM242 384h1v1h-1zM254 384h1v1h-1zM415 382h1v4h-1zM452 381h1v5h-1zM722 381h1v4h-1zM940 129h1v1h-1zM957 128h1v2h-1zM975 128h1v2h-1zM1011 129h1v1h-1zM1013 129h1v1h-1zM1103 129h1v2h-1zM1208 128h1v2h-1zM1230 129h1v3h-1zM1264 128h1v4h-1zM425 339h1v4h-1zM444 339h1v6h-1zM733 340h1v3h-1zM793 342h1v1h-1zM811 341h1v2h-1zM938 132h1v2h-1zM959 132h1v2h-1zM973 131h1v2h-1zM1104 131h1v3h-1zM1206 132h1v2h-1zM1231 132h1v4h-1zM1263 132h1v5h-1zM752 306h1v1h-1zM863 305h1v2h-1zM962 137h1v2h-1zM968 137h1v1h-1zM1106 137h1v2h-1zM1181 136h1v2h-1zM1204 136h1v3h-1zM1232 136h1v4h-1zM1262 137h1v4h-1zM421 355h1v4h-1zM446 351h1v7h-1zM729 354h1v4h-1zM185 381h1v2h-1zM228 381h1v1h-1zM416 378h1v4h-1zM10 398h1v2h-1zM129 398h1v2h-1zM269 398h1v1h-1zM411 398h1v3h-1zM455 398h1v6h-1zM718 395h1v4h-1zM431 314h1v4h-1zM439 316h1v4h-1zM742 317h1v2h-1zM763 317h1v2h-1zM850 317h1v2h-1zM331 442h1v2h-1zM402 439h1v5h-1zM463 442h1v7h-1zM496 442h1v6h-1zM513 439h1v6h-1zM705 440h1v4h-1zM339 455h1v2h-1zM399 453h1v3h-1zM464 449h1v7h-1zM494 455h1v6h-1zM515 451h1v6h-1zM551 455h1v2h-1zM701 455h1v3h-1zM906 196h1v4h-1zM27 422h1v1h-1zM74 421h1v2h-1zM91 422h1v1h-1zM288 422h1v1h-1zM299 422h1v1h-1zM322 422h1v2h-1zM406 417h1v6h-1zM460 422h1v6h-1zM501 422h1v4h-1zM509 422h1v4h-1zM710 421h1v4h-1zM345 468h1v2h-1zM394 468h1v3h-1zM466 463h1v8h-1zM492 468h1v7h-1zM518 466h1v4h-1zM542 468h1v2h-1zM567 469h1v1h-1zM613 468h1v3h-1zM629 468h1v4h-1zM677 469h1v2h-1zM343 463h1v2h-1zM396 463h1v3h-1zM493 461h1v7h-1zM517 462h1v4h-1zM560 463h1v2h-1zM615 463h1v3h-1zM627 463h1v2h-1zM680 462h1v2h-1zM354 483h1v1h-1zM388 482h1v2h-1zM468 478h1v8h-1zM490 483h1v7h-1zM522 481h1v4h-1zM536 483h1v3h-1zM609 482h1v4h-1zM633 482h1v2h-1zM673 481h1v4h-1zM917 162h1v3h-1zM1113 160h1v4h-1zM1142 162h1v1h-1zM1239 161h1v3h-1zM1257 159h1v4h-1zM7 390h1v2h-1zM135 391h1v1h-1zM162 391h1v2h-1zM180 391h1v1h-1zM262 391h1v1h-1zM413 390h1v4h-1zM453 386h1v6h-1zM719 391h1v4h-1zM922 146h1v3h-1zM1109 145h1v4h-1zM1159 147h1v1h-1zM1186 147h1v2h-1zM1201 145h1v3h-1zM1234 144h1v4h-1zM1260 146h1v5h-1zM12 403h1v3h-1zM103 405h1v1h-1zM275 405h1v1h-1zM409 404h1v3h-1zM456 404h1v5h-1zM716 403h1v3h-1zM916 165h1v3h-1zM1114 164h1v5h-1zM1139 165h1v2h-1zM1240 164h1v3h-1zM1256 163h1v4h-1zM11 400h1v3h-1zM128 400h1v1h-1zM271 400h1v1h-1zM717 399h1v4h-1zM898 228h1v4h-1zM471 505h1v9h-1zM486 511h1v7h-1zM963 139h1v1h-1zM1107 139h1v3h-1zM1163 139h1v2h-1zM1182 138h1v2h-1zM1203 139h1v3h-1zM760 313h1v1h-1zM858 313h1v2h-1zM190 370h1v2h-1zM219 370h1v2h-1zM418 368h1v5h-1zM449 369h1v4h-1zM725 370h1v4h-1zM16 412h1v1h-1zM47 412h1v1h-1zM66 412h1v2h-1zM98 412h1v1h-1zM281 411h1v2h-1zM307 412h1v1h-1zM317 412h1v2h-1zM407 411h1v6h-1zM457 409h1v4h-1zM713 411h1v3h-1zM433 310h1v2h-1zM437 308h1v4h-1zM749 310h1v1h-1zM757 310h1v1h-1zM861 309h1v2h-1zM937 134h1v2h-1zM960 134h1v2h-1zM971 134h1v1h-1zM1105 134h1v3h-1zM1205 134h1v2h-1zM90 423h1v2h-1zM291 424h1v1h-1zM297 424h1v1h-1zM323 424h1v2h-1zM405 423h1v6h-1zM470 495h1v10h-1zM488 498h1v7h-1zM980 118h1v2h-1zM1003 118h1v2h-1zM1020 118h1v1h-1zM1052 117h1v2h-1zM1073 117h1v2h-1zM1098 118h1v2h-1zM1213 118h1v1h-1zM1224 118h1v1h-1zM1268 117h1v2h-1zM912 176h1v3h-1zM1116 173h1v4h-1zM1134 174h1v3h-1zM1243 175h1v4h-1zM1253 174h1v3h-1zM919 156h1v3h-1zM1112 156h1v4h-1zM1146 157h1v1h-1zM1191 156h1v2h-1zM1193 157h1v1h-1zM1237 155h1v3h-1zM1258 155h1v4h-1zM344 465h1v3h-1zM544 465h1v1h-1zM628 465h1v3h-1zM679 464h1v2h-1zM487 505h1v6h-1zM338 454h1v1h-1zM495 448h1v7h-1zM702 451h1v4h-1zM333 446h1v2h-1zM401 444h1v5h-1zM514 445h1v6h-1zM704 444h1v4h-1zM994 103h1v2h-1zM1028 101h1v3h-1zM1045 103h1v2h-1zM15 410h1v2h-1zM48 411h1v1h-1zM65 411h1v1h-1zM99 410h1v2h-1zM308 411h1v1h-1zM316 410h1v2h-1zM885 267h1v2h-1zM978 122h1v2h-1zM1005 121h1v2h-1zM1018 121h1v2h-1zM1062 122h1v1h-1zM1100 122h1v3h-1zM1211 121h1v2h-1zM1227 122h1v1h-1zM1266 122h1v3h-1zM1145 158h1v2h-1zM1192 158h1v1h-1zM1238 158h1v3h-1zM14 408h1v2h-1zM50 408h1v2h-1zM63 409h1v1h-1zM100 409h1v1h-1zM279 409h1v1h-1zM311 409h1v1h-1zM408 407h1v4h-1zM714 409h1v2h-1zM1030 96h1v3h-1zM1040 96h1v1h-1zM748 311h1v1h-1zM758 311h1v1h-1zM860 311h1v1h-1zM327 433h1v2h-1zM404 429h1v5h-1zM461 428h1v7h-1zM499 430h1v4h-1zM511 430h1v4h-1zM707 432h1v4h-1zM977 124h1v2h-1zM1007 124h1v2h-1zM1017 123h1v2h-1zM1060 124h1v1h-1zM1210 123h1v3h-1zM1228 123h1v2h-1zM921 149h1v4h-1zM1110 149h1v3h-1zM1187 149h1v2h-1zM1200 148h1v2h-1zM1235 148h1v4h-1zM332 444h1v2h-1zM187 377h1v2h-1zM224 377h1v1h-1zM417 373h1v5h-1zM451 377h1v4h-1zM724 374h1v4h-1zM22 417h1v2h-1zM43 417h1v1h-1zM70 417h1v1h-1zM95 416h1v2h-1zM285 417h1v2h-1zM303 416h1v2h-1zM319 416h1v2h-1zM458 413h1v5h-1zM503 415h1v4h-1zM506 416h1v2h-1zM711 417h1v4h-1zM325 429h1v2h-1zM500 426h1v4h-1zM510 426h1v4h-1zM708 429h1v3h-1zM361 493h1v1h-1zM381 492h1v2h-1zM469 486h1v9h-1zM489 490h1v8h-1zM527 493h1v1h-1zM532 493h1v1h-1zM588 493h1v1h-1zM606 491h1v3h-1zM639 493h1v1h-1zM646 493h1v2h-1zM656 493h1v1h-1zM668 493h1v1h-1zM424 343h1v4h-1zM445 345h1v6h-1zM732 343h1v3h-1zM781 345h1v2h-1zM791 344h1v2h-1zM816 345h1v1h-1zM141 385h1v1h-1zM157 385h1v1h-1zM183 385h1v2h-1zM231 385h1v1h-1zM241 385h1v1h-1zM255 385h1v1h-1zM721 385h1v3h-1zM395 466h1v2h-1zM543 466h1v2h-1zM564 467h1v1h-1zM614 466h1v2h-1zM678 466h1v3h-1zM780 344h1v1h-1zM357 487h1v2h-1zM384 488h1v1h-1zM523 485h1v4h-1zM534 488h1v3h-1zM584 488h1v1h-1zM608 486h1v3h-1zM636 488h1v2h-1zM671 487h1v2h-1zM563 466h1v1h-1zM9 395h1v3h-1zM131 395h1v2h-1zM167 396h1v1h-1zM177 396h1v2h-1zM267 396h1v1h-1zM412 394h1v4h-1zM454 392h1v6h-1zM893 246h1v4h-1zM350 477h1v1h-1zM391 476h1v2h-1zM467 471h1v7h-1zM491 475h1v8h-1zM521 477h1v4h-1zM539 475h1v3h-1zM572 477h1v1h-1zM611 474h1v4h-1zM631 475h1v4h-1zM675 474h1v4h-1zM359 490h1v2h-1zM383 489h1v2h-1zM524 489h1v2h-1zM586 490h1v2h-1zM607 489h1v2h-1zM637 490h1v1h-1zM653 490h1v1h-1zM670 489h1v2h-1zM427 330h1v4h-1zM442 330h1v4h-1zM736 330h1v3h-1zM770 331h1v3h-1zM839 332h1v1h-1zM326 431h1v2h-1zM1019 119h1v2h-1zM1053 119h1v1h-1zM1212 119h1v2h-1zM1225 119h1v1h-1zM1267 119h1v3h-1zM191 367h1v3h-1zM218 369h1v1h-1zM726 366h1v4h-1zM423 347h1v4h-1zM730 350h1v4h-1zM476 533h1v2h-1zM482 531h1v3h-1zM348 474h1v1h-1zM392 473h1v3h-1zM520 474h1v3h-1zM540 472h1v3h-1zM570 473h1v2h-1zM630 472h1v3h-1zM136 390h1v1h-1zM161 390h1v1h-1zM181 389h1v2h-1zM261 390h1v1h-1zM720 388h1v3h-1zM356 486h1v1h-1zM386 485h1v2h-1zM535 486h1v2h-1zM582 485h1v2h-1zM635 486h1v2h-1zM672 485h1v2h-1zM13 406h1v2h-1zM60 406h1v1h-1zM102 406h1v2h-1zM276 406h1v1h-1zM715 406h1v3h-1zM970 135h1v1h-1zM1168 135h1v1h-1zM1180 135h1v1h-1zM42 418h1v2h-1zM71 418h1v1h-1zM94 418h1v1h-1zM302 418h1v1h-1zM320 418h1v2h-1zM459 418h1v4h-1zM507 418h1v2h-1zM915 168h1v3h-1zM1137 168h1v2h-1zM1241 167h1v4h-1zM1255 167h1v3h-1zM872 286h1v3h-1zM217 367h1v2h-1zM448 364h1v5h-1zM5 386h1v2h-1zM140 386h1v1h-1zM158 386h1v2h-1zM256 386h1v1h-1zM414 386h1v4h-1zM428 326h1v4h-1zM441 325h1v5h-1zM737 328h1v2h-1zM769 328h1v3h-1zM841 329h1v2h-1zM347 472h1v2h-1zM519 470h1v4h-1zM612 471h1v3h-1zM676 471h1v3h-1zM340 457h1v2h-1zM398 456h1v4h-1zM465 456h1v7h-1zM516 457h1v5h-1zM550 457h1v2h-1zM557 457h1v2h-1zM619 457h1v1h-1zM624 457h1v1h-1zM683 457h1v2h-1zM923 142h1v4h-1zM1108 142h1v3h-1zM1161 143h1v2h-1zM1184 142h1v3h-1zM1202 142h1v3h-1zM1261 141h1v5h-1zM189 372h1v3h-1zM221 373h1v1h-1zM450 373h1v4h-1zM19 414h1v1h-1zM46 413h1v2h-1zM67 414h1v1h-1zM97 413h1v2h-1zM283 414h1v2h-1zM305 414h1v1h-1zM318 414h1v2h-1zM712 414h1v3h-1zM186 379h1v2h-1zM226 379h1v1h-1zM723 378h1v3h-1zM422 351h1v4h-1zM353 481h1v2h-1zM389 480h1v2h-1zM537 480h1v3h-1zM575 481h1v1h-1zM610 478h1v4h-1zM632 479h1v3h-1zM472 514h1v7h-1zM920 153h1v3h-1zM1111 152h1v4h-1zM1147 155h1v2h-1zM1190 154h1v2h-1zM1195 155h1v1h-1zM335 449h1v2h-1zM400 449h1v4h-1zM703 448h1v3h-1zM556 456h1v1h-1zM385 487h1v1h-1zM583 487h1v1h-1zM751 307h1v1h-1zM862 307h1v2h-1zM981 116h1v2h-1zM1002 116h1v2h-1zM1021 116h1v2h-1zM1097 116h1v2h-1zM1214 116h1v2h-1zM1223 117h1v1h-1zM346 470h1v2h-1zM541 470h1v2h-1zM568 470h1v1h-1zM987 104h1v2h-1zM995 105h1v1h-1zM1027 104h1v2h-1zM1046 105h1v2h-1zM982 113h1v3h-1zM1001 114h1v2h-1zM1022 115h1v1h-1zM1051 115h1v2h-1zM1075 114h1v2h-1zM1096 114h1v2h-1zM1215 115h1v1h-1zM1151 151h1v1h-1zM1188 151h1v1h-1zM1198 151h1v2h-1zM1259 151h1v4h-1zM1010 128h1v1h-1zM1014 128h1v1h-1zM1102 127h1v2h-1zM1229 125h1v4h-1zM130 397h1v1h-1zM268 397h1v1h-1zM382 491h1v1h-1zM525 491h1v1h-1zM533 491h1v2h-1zM638 491h1v2h-1zM654 491h1v1h-1zM669 491h1v2h-1zM334 448h1v1h-1zM195 358h1v2h-1zM447 358h1v6h-1zM728 358h1v4h-1zM426 334h1v5h-1zM443 334h1v5h-1zM735 333h1v3h-1zM771 334h1v3h-1zM836 335h1v1h-1zM618 458h1v2h-1zM625 458h1v2h-1zM691 458h1v1h-1zM700 458h1v1h-1zM972 133h1v1h-1zM1171 133h1v1h-1zM901 217h1v4h-1zM891 253h1v3h-1zM731 346h1v4h-1zM782 347h1v1h-1zM790 346h1v2h-1zM1141 163h1v1h-1zM328 435h1v3h-1zM403 434h1v5h-1zM462 435h1v7h-1zM498 434h1v4h-1zM512 434h1v5h-1zM706 436h1v4h-1zM481 534h1v2h-1zM341 459h1v2h-1zM397 460h1v3h-1zM549 459h1v2h-1zM558 459h1v2h-1zM617 460h1v1h-1zM626 460h1v3h-1zM681 460h1v2h-1zM355 484h1v2h-1zM634 484h1v2h-1zM734 336h1v4h-1zM772 337h1v2h-1zM809 337h1v2h-1zM834 337h1v2h-1zM943 127h1v1h-1zM956 127h1v1h-1zM976 126h1v2h-1zM1009 127h1v1h-1zM1015 127h1v1h-1zM1209 126h1v2h-1zM1265 125h1v3h-1zM1138 167h1v1h-1zM62 408h1v1h-1zM101 408h1v1h-1zM278 408h1v1h-1zM342 461h1v2h-1zM548 461h1v2h-1zM559 461h1v2h-1zM616 461h1v2h-1zM51 407h1v1h-1zM61 407h1v1h-1zM277 407h1v1h-1zM20 415h1v1h-1zM45 415h1v1h-1zM68 415h1v1h-1zM96 415h1v1h-1zM304 415h1v1h-1zM505 415h1v1h-1zM243 383h1v1h-1zM253 383h1v1h-1zM429 322h1v4h-1zM440 320h1v5h-1zM740 321h1v3h-1zM766 322h1v2h-1zM846 322h1v2h-1zM871 289h1v2h-1zM485 518h1v6h-1zM35 423h1v1h-1zM75 423h1v1h-1zM298 423h1v1h-1zM349 475h1v2h-1zM571 475h1v2h-1zM743 315h1v2h-1zM762 316h1v1h-1zM851 316h1v1h-1zM896 236h1v3h-1zM993 102h1v1h-1zM1044 101h1v2h-1zM918 159h1v3h-1zM1144 160h1v1h-1zM127 401h1v1h-1zM272 401h1v1h-1zM410 401h1v3h-1zM967 138h1v1h-1zM1164 138h1v1h-1zM362 494h1v1h-1zM380 494h1v1h-1zM589 494h1v2h-1zM605 494h1v2h-1zM667 494h1v1h-1zM196 357h1v1h-1zM207 357h1v1h-1zM1117 177h1v2h-1zM1133 177h1v2h-1zM1252 177h1v2h-1zM92 421h1v1h-1zM287 420h1v2h-1zM300 421h1v1h-1zM321 420h1v2h-1zM502 419h1v3h-1zM508 420h1v2h-1zM473 521h1v4h-1zM1162 141h1v2h-1zM1233 140h1v4h-1zM125 404h1v1h-1zM274 403h1v2h-1zM908 187h1v4h-1zM192 364h1v3h-1zM215 364h1v2h-1zM419 363h1v5h-1zM727 362h1v4h-1zM890 256h1v2h-1zM360 492h1v1h-1zM526 492h1v1h-1zM587 492h1v1h-1zM647 492h1v1h-1zM655 492h1v1h-1zM194 360h1v2h-1zM213 361h1v2h-1zM420 359h1v4h-1zM227 380h1v1h-1zM837 334h1v1h-1zM430 318h1v4h-1zM765 320h1v2h-1zM847 321h1v1h-1zM983 111h1v2h-1zM1000 112h1v2h-1zM1024 111h1v2h-1zM1049 111h1v2h-1zM1083 112h1v1h-1zM49 410h1v1h-1zM64 410h1v1h-1zM280 410h1v1h-1zM393 471h1v2h-1zM569 471h1v2h-1zM979 120h1v2h-1zM1004 120h1v1h-1zM1054 120h1v1h-1zM1099 120h1v2h-1zM1226 120h1v2h-1zM924 141h1v1h-1zM1183 140h1v2h-1zM387 484h1v1h-1zM581 484h1v1h-1zM591 497h1v2h-1zM604 496h1v2h-1zM23 419h1v1h-1zM72 419h1v1h-1zM93 419h1v2h-1zM286 419h1v1h-1zM301 419h1v2h-1zM887 263h1v2h-1zM739 324h1v2h-1zM767 324h1v2h-1zM844 325h1v1h-1zM894 243h1v3h-1zM985 107h1v2h-1zM997 107h1v2h-1zM1026 106h1v3h-1zM1047 107h1v2h-1zM474 525h1v4h-1zM484 524h1v5h-1zM964 140h1v1h-1zM1149 153h1v1h-1zM1189 152h1v2h-1zM1197 153h1v1h-1zM1236 152h1v3h-1zM436 305h1v1h-1zM199 355h1v1h-1zM1023 113h1v2h-1zM1050 113h1v2h-1zM1076 113h1v1h-1zM351 478h1v2h-1zM390 478h1v2h-1zM538 478h1v2h-1zM573 478h1v1h-1zM674 478h1v3h-1zM1143 161h1v1h-1zM8 392h1v3h-1zM132 394h1v1h-1zM164 394h1v1h-1zM178 394h1v2h-1zM265 394h1v1h-1zM907 191h1v5h-1zM1160 145h1v2h-1zM1185 145h1v2h-1zM134 392h1v1h-1zM179 392h1v2h-1zM263 392h1v1h-1zM682 459h1v1h-1zM330 440h1v2h-1zM497 438h1v4h-1zM1031 94h1v2h-1zM1039 95h1v1h-1zM1055 121h1v1h-1zM1063 121h1v1h-1zM32 425h1v1h-1zM89 425h1v1h-1zM709 425h1v4h-1zM1016 125h1v2h-1zM1101 125h1v2h-1zM336 451h1v1h-1zM266 395h1v1h-1zM909 184h1v3h-1zM1127 185h1v1h-1zM1194 156h1v1h-1zM1115 169h1v4h-1zM1136 170h1v2h-1zM1254 170h1v4h-1zM840 331h1v1h-1zM913 173h1v3h-1zM914 171h1v2h-1zM1242 171h1v4h-1zM475 529h1v4h-1zM193 362h1v2h-1zM214 363h1v1h-1zM363 495h1v1h-1zM645 495h1v1h-1zM659 495h1v1h-1zM139 387h1v1h-1zM182 387h1v2h-1zM741 319h1v2h-1zM764 319h1v1h-1zM849 319h1v1h-1zM6 388h1v2h-1zM138 388h1v1h-1zM159 388h1v1h-1zM259 388h1v1h-1zM324 426h1v3h-1zM744 314h1v1h-1zM761 314h1v2h-1zM21 416h1v1h-1zM44 416h1v1h-1zM69 416h1v1h-1zM284 416h1v1h-1zM126 402h1v2h-1zM273 402h1v1h-1zM1008 126h1v1h-1zM270 399h1v1h-1zM143 382h1v1h-1zM229 382h1v1h-1zM252 382h1v1h-1zM795 339h1v1h-1zM810 339h1v2h-1zM833 339h1v1h-1zM910 182h1v2h-1zM1119 181h1v2h-1zM1130 182h1v1h-1zM1248 182h1v1h-1zM1042 98h1v2h-1zM999 110h1v2h-1zM1079 111h1v1h-1zM434 308h1v2h-1zM750 308h1v2h-1zM756 309h1v1h-1zM984 109h1v2h-1zM1025 109h1v2h-1zM1048 109h1v2h-1zM1080 110h1v1h-1zM216 366h1v1h-1zM282 413h1v1h-1zM306 413h1v1h-1zM504 413h1v1h-1zM905 200h1v5h-1zM939 130h1v2h-1zM958 130h1v2h-1zM974 130h1v1h-1zM1012 130h1v1h-1zM1207 130h1v2h-1zM868 295h1v2h-1zM1120 183h1v2h-1zM1128 184h1v1h-1zM24 420h1v1h-1zM41 420h1v1h-1zM73 420h1v1h-1zM480 537h1v1h-1zM212 360h1v1h-1zM776 341h1v1h-1zM794 340h1v2h-1zM137 389h1v1h-1zM160 389h1v1h-1zM260 389h1v1h-1zM329 438h1v2h-1zM1150 152h1v1h-1zM352 480h1v1h-1zM574 479h1v2h-1zM845 324h1v1h-1zM895 239h1v4h-1zM775 340h1v1h-1zM998 109h1v1h-1zM188 375h1v2h-1zM222 374h1v2h-1zM364 496h1v1h-1zM590 496h1v1h-1zM644 496h1v1h-1zM223 376h1v1h-1zM867 297h1v2h-1zM779 343h1v1h-1zM792 343h1v1h-1zM819 343h1v1h-1zM738 326h1v2h-1zM768 326h1v2h-1zM843 326h1v2h-1zM875 279h1v2h-1zM220 372h1v1h-1zM838 333h1v1h-1zM886 265h1v2h-1zM903 209h1v4h-1zM367 498h1v1h-1zM603 498h1v1h-1zM1124 187h1v1h-1zM936 136h1v1h-1zM961 136h1v1h-1zM969 136h1v1h-1zM1167 136h1v1h-1zM866 299h1v2h-1zM878 274h1v2h-1zM857 315h1v1h-1zM755 308h1v1h-1zM225 378h1v1h-1zM808 336h1v1h-1zM835 336h1v1h-1zM874 281h1v3h-1zM1041 97h1v1h-1zM902 213h1v4h-1zM337 452h1v2h-1zM873 284h1v2h-1zM897 232h1v4h-1zM358 489h1v1h-1zM585 489h1v1h-1zM652 489h1v1h-1zM783 348h1v2h-1zM789 348h1v2h-1zM892 250h1v3h-1zM1140 164h1v1h-1zM1074 116h1v1h-1zM848 320h1v1h-1zM911 179h1v3h-1zM1118 179h1v2h-1zM1132 179h1v2h-1zM1244 179h1v1h-1zM1251 179h1v1h-1zM880 272h1v1h-1zM1250 180h1v1h-1zM1123 186h1v1h-1zM900 221h1v3h-1zM1148 154h1v1h-1zM1196 154h1v1h-1zM904 205h1v4h-1zM1006 123h1v1h-1zM1061 123h1v1h-1zM133 393h1v1h-1zM163 393h1v1h-1zM264 393h1v1h-1zM899 224h1v4h-1zM1032 93h1v1h-1zM1038 93h1v2h-1zM842 328h1v1h-1zM483 529h1v2h-1zM1135 172h1v2h-1zM1037 92h1v1h-1zM1129 183h1v1h-1zM986 106h1v1h-1zM996 106h1v1h-1zM889 258h1v3h-1zM869 293h1v2h-1zM1199 150h1v1h-1zM879 273h1v1h-1zM1131 181h1v1h-1zM1249 181h1v1h-1zM888 261h1v2h-1zM992 101h1v1h-1zM884 269h1v1h-1zM870 291h1v2h-1zM865 301h1v2h-1zM864 303h1v2h-1zM876 277h1v2h-1zM883 270h1v1h-1zM1029 99h1v2h-1zM1043 100h1v1h-1zM877 276h1v1h-1z" fill="#ffa500"/>
</g>
<rect x="4" y="53" width="1592" height="2" fill="#ff0000"/>
<rect x="3" y="51" width="6" height="6" fill="#ff0000"/><rect x="5" y="53" width="2" height="2" fill="#fff"/>
<rect x="1590" y="51" width="6" height="6" fill="#ff0000"/><rect x="1592" y="53" width="2" height="2" fill="#fff"/>
<rect x="4" y="91" width="1592" height="2" fill="#ff0000"/>
<rect x="3" y="89" width="6" height="6" fill="#ff0000"/><rect x="5" y="91" width="2" height="2" fill="#fff"/>
<rect x="1590" y="89" width="6" height="6" fill="#ff0000"/><rect x="1592" y="91" width="2" height="2" fill="#fff"/>
<rect x="4" y="128" width="1592" height="2" fill="#00ff00"/>
<rect x="3" y="126" width="6" height="6" fill="#00ff00"/><rect x="5" y="128" width="2" height="2" fill="#fff"/>
<rect x="1590" y="126" width="6" height="6" fill="#00ff00"/><rect x="1592" y="128" width="2" height="2" fill="#fff"/>
<rect x="4" y="166" width="1592" height="2" fill="#0000ff"/>
<rect x="3" y="164" width="6" height="6" fill="#0000ff"/><rect x="5" y="166" width="2" height="2" fill="#fff"/>
<rect x="1590" y="164" width="6" height="6" fill="#0000ff"/><rect x="1592" y="166" width="2" height="2" fill="#fff"/>
<rect x="4" y="204" width="1592" height="2" fill="#0000ff"/>
<rect x="3" y="202" width="6" height="6" fill="#0000ff"/><rect x="5" y="204" width="2" height="2" fill="#fff"/>
<rect x="1590" y="202" width="6" height="6" fill="#0000ff"/><rect x="1592" y="204" width="2" height="2" fill="#fff"/>
<rect x="5" y="613" width="3" height="1" fill="#c0c0c0"/>
<rect x="11" y="613" width="3" height="1" fill="#c0c0c0"/>
<rect x="17" y="613" width="3" height="1" fill="#c0c0c0"/>
<rect x="23" y="613" width="3" height="1" fill="#c0c0c0"/>
<rect x="29" y="613" width="3" height="1" fill="#c0c0c0"/>
<rect x="35" y="613" width="3" height="1" fill="#c0c0c0"/>
<rect x="41" y="613" width="3" height="1" fill="#c0c0c0"/>
<rect x="47" y="613" width="3" height="1" fill="#c0c0c0"/>
<rect x="53" y="613" width="3" height="1" fill="#c0c0c0"/>
<rect x="59" y="613" width="3" height="1" fill="#c0c0c0"/>
<rect x="65" y="613" width="3" height="1" fill="#c0c0c0"/>
<rect x="71" y="613" width="3" height="1" fill="#c0c0c0"/>
<rect x="77" y="613" width="3" height="1" fill="#c0c0c0"/>
<rect x="83" y="613" width="3" height="1" fill="#c0c0c0"/>
<rect x="89" y="613" width="3" height="1" fill="#c0c0c0"/>
<rect x="95" y="613" width="3" height="1" fill="#c0c0c0"/>
<rect x="101" y="613" width="3" height="1" fill="#c0c0c0"/>
<rect x="107" y="613" width="3" height="1" fill="#c0c0c0"/>
<rect x="113" y="613" width="3" height="1" fill="#c0c0c0"/>
<rect x="119" y="613" width="3" height="1" fill="#c0c0c0"/>
<rect x="125" y="613" width="3" height="1" fill="#c0c0c0"/>
<rect x="131" y="613" width="3" height="1" fill="#c0c0c0"/>
<rect x="137" y="613" width="3" height="1" fill="#c0c0c0"/>
<rect x="143" y="613" width="3" height="1" fill="#c0c0c0"/>
<rect x="149" y="613" width="3" height="1" fill="#c0c0c0"/>
<rect x="155" y="613" width="3" height="1" fill="#c0c0c0"/>
<rect x="161" y="613" width="3" height="1" fill="#c0c0c0"/>
<rect x="167" y="613" width="3" height="1" fill="#c0c0c0"/>
<rect x="173" y="613" width="3" height="1" fill="#c0c0c0"/>
<rect x="179" y="613" width="3" height="1" fill="#c0c0c0"/>
<rect x="185" y="613" width="3" height="1" fill="#c0c0c0"/>
<rect x="191" y="613" width="3" height="1" fill="#c0c0c0"/>
<rect x="197" y="613" width="3" height="1" fill="#c0c0c0"/>
<rect x="203" y="613" width="3" height="1" fill="#c0c0c0"/>
<rect x="209" y="613" width="3" height="1" fill="#c0c0c0"/>
<rect x="215" y="613" width="3" height="1" fill="#c0c0c0"/>
<rect x="221" y="613" width="3" height="1" fill="#c0c0c0"/>
<rect x="227" y="613" width="3" height="1" fill="#c0c0c0"/>
<rect x="233" y="613" width="3" height="1" fill="#c0c0c0"/>
<rect x="239" y="613" width="3" height="1" fill="#c0c0c0"/>
<rect x="245" y="613" width="3" height="1" fill="#c0c0c0"/>
<rect x="251" y="613" width="3" height="1" fill="#c0c0c0"/>
<rect x="257" y="613" width="3" height="1" fill="#c0c0c0"/>
<rect x="263" y="613" width="3" height="1" fill="#c0c0c0"/>
<rect x="269" y="613" width="3" height="1" fill="#c0c0c0"/>
<rect x="275" y="613" width="3" height="1" fill="#c0c0c0"/>
<rect x="281" y="613" width="3" height="1" fill="#c0c0c0"/>
<rect x="287" y="613" width="3" height="1" fill="#c0c0c0"/>
<rect x="293" y="613" width="3" height="1" fill="#c0c0c0"/>
<rect x="299" y="613" width="3" height="1" fill="#c0c0c0"/>
<rect x="305" y="613" width="3" height="1" fill="#c0c0c0"/>
<rect x="311" y="613" width="3" height="1" fill="#c0c0c0"/>
<rect x="317" y="613" width="3" height="1" fill="#c0c0c0"/>
<rect x="323" y="613" width="3" height="1" fill="#c0c0c0"/>
<rect x="329" y="613" width="3" height="1" fill="#c0c0c0"/>
<rect x="335" y="613" width="3" height="1" fill="#c0c0c0"/>
<rect x="341" y="613" width="3" height="1" fill="#c0c0c0"/>
<rect x="347" y="613" width="3" height="1" fill="#c0c0c0"/>
<rect x="353" y="613" width="3" height="1" fill="#c0c0c0"/>
<rect x="359" y="613" width="3" height="1" fill="#c0c0c0"/>
<rect x="365" y="613" width="3" height="1" fill="#c0c0c0"/>
<rect x="371" y="613" width="3" height="1" fill="#c0c0c0"/>
<rect x="377" y="613" width="3" height="1" fill="#c0c0c0"/>
<rect x="383" y="613" width="3" height="1" fill="#c0c0c0"/>
<rect x="389" y="613" width="3" height="1" fill="#c0c0c0"/>
<rect x="395" y="613" width="3" height="1" fill="#c0c0c0"/>
<rect x="401" y="613" width="3" height="1" fill="#c0c0c0"/>
<rect x="407" y="613" width="3" height="1" fill="#c0c0c0"/>
<rect x="413" y="613" width="3" height="1" fill="#c0c0c0"/>
<rect x="419" y="613" width="3" height="1" fill="#c0c0c0"/>
<rect x="425" y="613" width="3" height="1" fill="#c0c0c0"/>
<rect x="431" y="613" width="3" height="1" fill="#c0c0c0"/>
<rect x="437" y="613" width="3" height="1" fill="#c0c0c0"/>
<rect x="443" y="613" width="3" height="1" fill="#c0c0c0"/>
<rect x="449" y="613" width="3" height="1" fill="#c0c0c0"/>
<rect x="455" y="613" width="3" height="1" fill="#c0c0c0"/>
<rect x="461" y="613" width="3" height="1" fill="#c0c0c0"/>
<rect x="467" y="613" width="3" height="1" fill="#c0c0c0"/>
<rect x="473" y="613" width="3" height="1" fill="#c0c0c0"/>
<rect x="479" y="613" width="3" height="1" fill="#c0c0c0"/>
<rect x="485" y="613" width="3" height="1" fill="#c0c0c0"/>
<rect x="491" y="613" width="3" height="1" fill="#c0c0c0"/>
<rect x="497" y="613" width="3" height="1" fill="#c0c0c0"/>
<rect x="503" y="613" width="3" height="1" fill="#c0c0c0"/>
<rect x="509" y="613" width="3" height="1" fill="#c0c0c0"/>
<rect x="515" y="613" width="3" height="1" fill="#c0c0c0"/>
<rect x="521" y="613" width="3" height="1" fill="#c0c0c0"/>
<rect x="527" y="613" width="3" height="1" fill="#c0c0c0"/>
<rect x="533" y="613" width="3" height="1" fill="#c0c0c0"/>
<rect x="539" y="613" width="3" height="1" fill="#c0c0c0"/>
<rect x="545" y="613" width="3" height="1" fill="#c0c0c0"/>
<rect x="551" y="613" width="3" height="1" fill="#c0c0c0"/>
<rect x="557" y="613" width="3" height="1" fill="#c0c0c0"/>
<rect x="563" y="613" width="3" height="1" fill="#c0c0c0"/>
<rect x="569" y="613" width="3" height="1" fill="#c0c0c0"/>
<rect x="575" y="613" width="3" height="1" fill="#c0c0c0"/>
<rect x="581" y="613" width="3" height="1" fill="#c0c0c0"/>
<rect x="587" y="613" width="3" height="1" fill="#c0c0c0"/>
<rect x="593" y="613" width="3" height="1" fill="#c0c0c0"/>
<rect x="599" y="613" width="3" height="1" fill="#c0c0c0"/>
<rect x="605" y="613" width="3" height="1" fill="#c0c0c0"/>
<rect x="611" y="613" width="3" height="1" fill="#c0c0c0"/>
<rect x="617" y="613" width="3" height="1" fill="#c0c0c0"/>
<rect x="623" y="613" width="3" height="1" fill="#c0c0c0"/>
<rect x="629" y="613" width="3" height="1" fill="#c0c0c0"/>
<rect x="635" y="613" width="3" height="1" fill="#c0c0c0"/>
<rect x="641" y="613" width="3" height="1" fill="#c0c0c0"/>
<rect x="647" y="613" width="3" height="1" fill="#c0c0c0"/>
<rect x="653" y="613" width="3" height="1" fill="#c0c0c0"/>
<rect x="659" y="613" width="3" height="1" fill="#c0c0c0"/>
<rect x="665" y="613" width="3" height="1" fill="#c0c0c0"/>
<rect x="671" y="613" width="3" height="1" fill="#c0c0c0"/>
<rect x="677" y="613" width="3" height="1" fill="#c0c0c0"/>
<rect x="683" y="613" width="3" height="1" fill="#c0c0c0"/>
<rect x="689" y="613" width="3" height="1" fill="#c0c0c0"/>
<rect x="695" y="613" width="3" height="1" fill="#c0c0c0"/>
<rect x="701" y="613" width="3" height="1" fill="#c0c0c0"/>
<rect x="707" y="613" width="3" height="1" fill="#c0c0c0"/>
<rect x="713" y="613" width="3" height="1" fill="#c0c0c0"/>
<rect x="719" y="613" width="3" height="1" fill="#c0c0c0"/>
<rect x="725" y="613" width="3" height="1" fill="#c0c0c0"/>
<rect x="731" y="613" width="3" height="1" fill="#c0c0c0"/>
<rect x="737" y="613" width="3" height="1" fill="#c0c0c0"/>
<rect x="743" y="613" width="3" height="1" fill="#c0c0c0"/>
<rect x="749" y="613" width="3" height="1" fill="#c0c0c0"/>
<rect x="755" y="613" width="3" height="1" fill="#c0c0c0"/>
<rect x="761" y="613" width="3" height="1" fill="#c0c0c0"/>
<rect x="767" y="613" width="3" height="1" fill="#c0c0c0"/>
<rect x="773" y="613" width="3" height="1" fill="#c0c0c0"/>
<rect x="779" y="613" width="3" height="1" fill="#c0c0c0"/>
<rect x="785" y="613" width="3" height="1" fill="#c0c0c0"/>
<rect x="791" y="613" width="3" height="1" fill="#c0c0c0"/>
<rect x="797" y="613" width="3" height="1" fill="#c0c0c0"/>
<rect x="803" y="613" width="3" height="1" fill="#c0c0c0"/>
<rect x="809" y="613" width="3" height="1" fill="#c0c0c0"/>
<rect x="815" y="613" width="3" height="1" fill="#c0c0c0"/>
<rect x="821" y="613" width="3" height="1" fill="#c0c0c0"/>
<rect x="827" y="613" width="3" height="1" fill="#c0c0c0"/>
<rect x="833" y="613" width="3" height="1" fill="#c0c0c0"/>
<rect x="839" y="613" width="3" height="1" fill="#c0c0c0"/>
<rect x="845" y="613" width="3" height="1" fill="#c0c0c0"/>
<rect x="851" y="613" width="3" height="1" fill="#c0c0c0"/>
<rect x="857" y="613" width="3" height="1" fill="#c0c0c0"/>
<rect x="863" y="613" width="3" height="1" fill="#c0c0c0"/>
<rect x="869" y="613" width="3" height="1" fill="#c0c0c0"/>
<rect x="875" y="613" width="3" height="1" fill="#c0c0c0"/>
<rect x="881" y="613" width="3" height="1" fill="#c0c0c0"/>
<rect x="887" y="613" width="3" height="1" fill="#c0c0c0"/>
<rect x="893" y="613" width="3" height="1" fill="#c0c0c0"/>
<rect x="899" y="613" width="3" height="1" fill="#c0c0c0"/>
<rect x="905" y="613" width="3" height="1" fill="#c0c0c0"/>
<rect x="911" y="613" width="3" height="1" fill="#c0c0c0"/>
<rect x="917" y="613" width="3" height="1" fill="#c0c0c0"/>
<rect x="923" y="613" width="3" height="1" fill="#c0c0c0"/>
<rect x="929" y="613" width="3" height="1" fill="#c0c0c0"/>
<rect x="935" y="613" width="3" height="1" fill="#c0c0c0"/>
<rect x="941" y="613" width="3" height="1" fill="#c0c0c0"/>
<rect x="947" y="613" width="3" height="1" fill="#c0c0c0"/>
<rect x="953" y="613" width="3" height="1" fill="#c0c0c0"/>
<rect x="959" y="613" width="3" height="1" fill="#c0c0c0"/>
<rect x="965" y="613" width="3" height="1" fill="#c0c0c0"/>
<rect x="971" y="613" width="3" height="1" fill="#c0c0c0"/>
<rect x="977" y="613" width="3" height="1" fill="#c0c0c0"/>
<rect x="983" y="613" width="3" height="1" fill="#c0c0c0"/>
<rect x="989" y="613" width="3" height="1" fill="#c0c0c0"/>
<rect x="995" y="613" width="3" height="1" fill="#c0c0c0"/>
<rect x="1001" y="613" width="3" height="1" fill="#c0c0c0"/>
<rect x="1007" y="613" width="3" height="1" fill="#c0c0c0"/>
<rect x="1013" y="613" width="3" height="1" fill="#c0c0c0"/>
<rect x="1019" y="613" width="3" height="1" fill="#c0c0c0"/>
<rect x="1025" y="613" width="3" height="1" fill="#c0c0c0"/>
<rect x="1031" y="613" width="3" height="1" fill="#c0c0c0"/>
<rect x="1037" y="613" width="3" height="1" fill="#c0c0c0"/>
<rect x="1043" y="613" width="3" height="1" fill="#c0c0c0"/>
<rect x="1049" y="613" width="3" height="1" fill="#c0c0c0"/>
<rect x="1055" y="613" width="3" height="1" fill="#c0c0c0"/>
<rect x="1061" y="613" width="3" height="1" fill="#c0c0c0"/>
<rect x="1067" y="613" width="3" height="1" fill="#c0c0c0"/>
<rect x="1073" y="613" width="3" height="1" fill="#c0c0c0"/>
<rect x="1079" y="613" width="3" height="1" fill="#c0c0c0"/>
<rect x="1085" y="613" width="3" height="1" fill="#c0c0c0"/>
<rect x="1091" y="613" width="3" height="1" fill="#c0c0c0"/>
<rect x="1097" y="613" width="3" height="1" fill="#c0c0c0"/>
<rect x="1103" y="613" width="3" height="1" fill="#c0c0c0"/>
<rect x="1109" y="613" width="3" height="1" fill="#c0c0c0"/>
<rect x="1115" y="613" width="3" height="1" fill="#c0c0c0"/>
<rect x="1121" y="613" width="3" height="1" fill="#c0c0c0"/>
<rect x="1127" y="613" width="3" height="1" fill="#c0c0c0"/>
<rect x="1133" y="613" width="3" height="1" fill="#c0c0c0"/>
<rect x="1139" y="613" width="3" height="1" fill="#c0c0c0"/>
<rect x="1145" y="613" width="3" height="1" fill="#c0c0c0"/>
<rect x="1151" y="613" width="3" height="1" fill="#c0c0c0"/>
<rect x="1157" y="613" width="3" height="1" fill="#c0c0c0"/>
<rect x="1163" y="613" width="3" height="1" fill="#c0c0c0"/>
<rect x="1169" y="613" width="3" height="1" fill="#c0c0c0"/>
<rect x="1175" y="613" width="3" height="1" fill="#c0c0c0"/>
<rect x="1181" y="613" width="3" height="1" fill="#c0c0c0"/>
<rect x="1187" y="613" width="3" height="1" fill="#c0c0c0"/>
<rect x="1193" y="613" width="3" height="1" fill="#c0c0c0"/>
<rect x="1199" y="613" width="3" height="1" fill="#c0c0c0"/>
<rect x="1205" y="613" width="3" height="1" fill="#c0c0c0"/>
<rect x="1211" y="613" width="3" height="1" fill="#c0c0c0"/>
<rect x="1217" y="613" width="3" height="1" fill="#c0c0c0"/>
<rect x="1223" y="613" width="3" height="1" fill="#c0c0c0"/>
<rect x="1229" y="613" width="3" height="1" fill="#c0c0c0"/>
<rect x="1235" y="613" width="3" height="1" fill="#c0c0c0"/>
<rect x="1241" y="613" width="3" height="1" fill="#c0c0c0"/>
<rect x="1247" y="613" width="3" height="1" fill="#c0c0c0"/>
<rect x="1253" y="613" width="3" height="1" fill="#c0c0c0"/>
<rect x="1259" y="613" width="3" height="1" fill="#c0c0c0"/>
<rect x="1265" y="613" width="3" height="1" fill="#c0c0c0"/>
<rect x="1271" y="613" width="3" height="1" fill="#c0c0c0"/>
<rect x="1277" y="613" width="3" height="1" fill="#c0c0c0"/>
<rect x="1283" y="613" width="3" height="1" fill="#c0c0c0"/>
<rect x="1289" y="613" width="3" height="1" fill="#c0c0c0"/>
<rect x="1295" y="613" width="3" height="1" fill="#c0c0c0"/>
<rect x="1301" y="613" width="3" height="1" fill="#c0c0c0"/>
<rect x="1307" y="613" width="3" height="1" fill="#c0c0c0"/>
<rect x="1313" y="613" width="3" height="1" fill="#c0c0c0"/>
<rect x="1319" y="613" width="3" height="1" fill="#c0c0c0"/>
<rect x="1325" y="613" width="3" height="1" fill="#c0c0c0"/>
<rect x="1331" y="613" width="3" height="1" fill="#c0c0c0"/>
<rect x="1337" y="613" width="3" height="1" fill="#c0c0c0"/>
<rect x="1343" y="613" width="3" height="1" fill="#c0c0c0"/>
<rect x="1349" y="613" width="3" height="1" fill="#c0c0c0"/>
<rect x="1355" y="613" width="3" height="1" fill="#c0c0c0"/>
<rect x="1361" y="613" width="3" height="1" fill="#c0c0c0"/>
<rect x="1367" y="613" width="3" height="1" fill="#c0c0c0"/>
<rect x="1373" y="613" width="3" height="1" fill="#c0c0c0"/>
<rect x="1379" y="613" width="3" height="1" fill="#c0c0c0"/>
<rect x="1385" y="613" width="3" height="1" fill="#c0c0c0"/>
<rect x="1391" y="613" width="3" height="1" fill="#c0c0c0"/>
<rect x="1397" y="613" width="3" height="1" fill="#c0c0c0"/>
<rect x="1403" y="613" width="3" height="1" fill="#c0c0c0"/>
<rect x="1409" y="613" width="3" height="1" fill="#c0c0c0"/>
<rect x="1415" y="613" width="3" height="1" fill="#c0c0c0"/>
<rect x="1421" y="613" width="3" height="1" fill="#c0c0c0"/>
<rect x="1427" y="613" width="3" height="1" fill="#c0c0c0"/>
<rect x="1433" y="613" width="3" height="1" fill="#c0c0c0"/>
<rect x="1439" y="613" width="3" height="1" fill="#c0c0c0"/>
<rect x="1445" y="613" width="3" height="1" fill="#c0c0c0"/>
<rect x="1451" y="613" width="3" height="1" fill="#c0c0c0"/>
<rect x="1457" y="613" width="3" height="1" fill="#c0c0c0"/>
<rect x="1463" y="613" width="3" height="1" fill="#c0c0c0"/>
<rect x="1469" y="613" width="3" height="1" fill="#c0c0c0"/>
<rect x="1475" y="613" width="3" height="1" fill="#c0c0c0"/>
<rect x="1481" y="613" width="3" height="1" fill="#c0c0c0"/>
<rect x="1487" y="613" width="3" height="1" fill="#c0c0c0"/>
<rect x="1493" y="613" width="3" height="1" fill="#c0c0c0"/>
<rect x="1499" y="613" width="3" height="1" fill="#c0c0c0"/>
<rect x="1505" y="613" width="3" height="1" fill="#c0c0c0"/>
<rect x="1511" y="613" width="3" height="1" fill="#c0c0c0"/>
<rect x="1517" y="613" width="3" height="1" fill="#c0c0c0"/>
<rect x="1523" y="613" width="3" height="1" fill="#c0c0c0"/>
<rect x="1529" y="613" width="3" height="1" fill="#c0c0c0"/>
<rect x="1535" y="613" width="3" height="1" fill="#c0c0c0"/>
<rect x="1541" y="613" width="3" height="1" fill="#c0c0c0"/>
<rect x="1547" y="613" width="3" height="1" fill="#c0c0c0"/>
<rect x="1553" y="613" width="3" height="1" fill="#c0c0c0"/>
<rect x="1559" y="613" width="3" height="1" fill="#c0c0c0"/>
<rect x="1565" y="613" width="3" height="1" fill="#c0c0c0"/>
<rect x="1571" y="613" width="3" height="1" fill="#c0c0c0"/>
<rect x="1577" y="613" width="3" height="1" fill="#c0c0c0"/>
<rect x="1583" y="613" width="3" height="1" fill="#c0c0c0"/>
<rect x="1589" y="613" width="3" height="1" fill="#c0c0c0"/>
<rect x="1595" y="613" width="3" height="1" fill="#c0c0c0"/>
<rect x="5" y="653" width="3" height="1" fill="#c0c0c0"/>
<rect x="11" y="653" width="3" height="1" fill="#c0c0c0"/>
<rect x="17" y="653" width="3" height="1" fill="#c0c0c0"/>
<rect x="23" y="653" width="3" height="1" fill="#c0c0c0"/>
<rect x="29" y="653" width="3" height="1" fill="#c0c0c0"/>
<rect x="35" y="653" width="3" height="1" fill="#c0c0c0"/>
<rect x="41" y="653" width="3" height="1" fill="#c0c0c0"/>
<rect x="47" y="653" width="3" height="1" fill="#c0c0c0"/>
<rect x="53" y="653" width="3" height="1" fill="#c0c0c0"/>
<rect x="59" y="653" width="3" height="1" fill="#c0c0c0"/>
<rect x="65" y="653" width="3" height="1" fill="#c0c0c0"/>
<rect x="71" y="653" width="3" height="1" fill="#c0c0c0"/>
<rect x="77" y="653" width="3" height="1" fill="#c0c0c0"/>
<rect x="83" y="653" width="3" height="1" fill="#c0c0c0"/>
<rect x="89" y="653" width="3" height="1" fill="#c0c0c0"/>
<rect x="95" y="653" width="3" height="1" fill="#c0c0c0"/>
<rect x="101" y="653" width="3" height="1" fill="#c0c0c0"/>
<rect x="107" y="653" width="3" height="1" fill="#c0c0c0"/>
<rect x="113" y="653" width="3" height="1" fill="#c0c0c0"/>
<rect x="119" y="653" width="3" height="1" fill="#c0c0c0"/>
<rect x="125" y="653" width="3" height="1" fill="#c0c0c0"/>
<rect x="131" y="653" width="3" height="1" fill="#c0c0c0"/>
<rect x="137" y="653" width="3" height="1" fill="#c0c0c0"/>
<rect x="143" y="653" width="3" height="1" fill="#c0c0c0"/>
<rect x="149" y="653" width="3" height="1" fill="#c0c0c0"/>
<rect x="155" y="653" width="3" height="1" fill="#c0c0c0"/>
<rect x="161" y="653" width="3" height="1" fill="#c0c0c0"/>
<rect x="167" y="653" width="3" height="1" fill="#c0c0c0"/>
<rect x="173" y="653" width="3" height="1" fill="#c0c0c0"/>
<rect x="179" y="653" width="3" height="1" fill="#c0c0c0"/>
<rect x="185" y="653" width="3" height="1" fill="#c0c0c0"/>
<rect x="191" y="653" width="3" height="1" fill="#c0c0c0"/>
<rect x="197" y="653" width="3" height="1" fill="#c0c0c0"/>
<rect x="203" y="653" width="3" height="1" fill="#c0c0c0"/>
<rect x="209" y="653" width="3" height="1" fill="#c0c0c0"/>
<rect x="215" y="653" width="3" height="1" fill="#c0c0c0"/>
<rect x="221" y="653" width="3" height="1" fill="#c0c0c0"/>
<rect x="227" y="653" width="3" height="1" fill="#c0c0c0"/>
<rect x="233" y="653" width="3" height="1" fill="#c0c0c0"/>
<rect x="239" y="653" width="3" height="1" fill="#c0c0c0"/>
<rect x="245" y="653" width="3" height="1" fill="#c0c0c0"/>
<rect x="251" y="653" width="3" height="1" fill="#c0c0c0"/>
<rect x="257" y="653" width="3" height="1" fill="#c0c0c0"/>
<rect x="263" y="653" width="3" height="1" fill="#c0c0c0"/>
<rect x="269" y="653" width="3" height="1" fill="#c0c0c0"/>
<rect x="275" y="653" width="3" height="1" fill="#c0c0c0"/>
<rect x="281" y="653" width="3" height="1" fill="#c0c0c0"/>
<rect x="287" y="653" width="3" height="1" fill="#c0c0c0"/>
<rect x="293" y="653" width="3" height="1" fill="#c0c0c0"/>
<rect x="299" y="653" width="3" height="1" fill="#c0c0c0"/>
<rect x="305" y="653" width="3" height="1" fill="#c0c0c0"/>
<rect x="311" y="653" width="3" height="1" fill="#c0c0c0"/>
<rect x="317" y="653" width="3" height="1" fill="#c0c0c0"/>
<rect x="323" y="653" width="3" height="1" fill="#c0c0c0"/>
<rect x="329" y="653" width="3" height="1" fill="#c0c0c0"/>
<rect x="335" y="653" width="3" height="1" fill="#c0c0c0"/>
<rect x="341" y="653" width="3" height="1" fill="#c0c0c0"/>
<rect x="347" y="653" width="3" height="1" fill="#c0c0c0"/>
<rect x="353" y="653" width="3" height="1" fill="#c0c0c0"/>
<rect x="359" y="653" width="3" height="1" fill="#c0c0c0"/>
<rect x="365" y="653" width="3" height="1" fill="#c0c0c0"/>
<rect x="371" y="653" width="3" height="1" fill="#c0c0c0"/>
<rect x="377" y="653" width="3" height="1" fill="#c0c0c0"/>
<rect x="383" y="653" width="3" height="1" fill="#c0c0c0"/>
<rect x="389" y="653" width="3" height="1" fill="#c0c0c0"/>
<rect x="395" y="653" width="3" height="1" fill="#c0c0c0"/>
<rect x="401" y="653" width="3" height="1" fill="#c0c0c0"/>
<rect x="407" y="653" width="3" height="1" fill="#c0c0c0"/>
<rect x="413" y="653" width="3" height="1" fill="#c0c0c0"/>
<rect x="419" y="653" width="3" height="1" fill="#c0c0c0"/>
<rect x="425" y="653" width="3" height="1" fill="#c0c0c0"/>
<rect x="431" y="653" width="3" height="1" fill="#c0c0c0"/>
<rect x="437" y="653" width="3" height="1" fill="#c0c0c0"/>
<rect x="443" y="653" width="3" height="1" fill="#c0c0c0"/>
<rect x="449" y="653" width="3" height="1" fill="#c0c0c0"/>
<rect x="455" y="653" width="3" height="1" fill="#c0c0c0"/>
<rect x="461" y="653" width="3" height="1" fill="#c0c0c0"/>
<rect x="467" y="653" width="3" height="1" fill="#c0c0c0"/>
<rect x="473" y="653" width="3" height="1" fill="#c0c0c0"/>
<rect x="479" y="653" width="3" height="1" fill="#c0c0c0"/>
<rect x="485" y="653" width="3" height="1" fill="#c0c0c0"/>
<rect x="491" y="653" width="3" height="1" fill="#c0c0c0"/>
<rect x="497" y="653" width="3" height="1" fill="#c0c0c0"/>
<rect x="503" y="653" width="3" height="1" fill="#c0c0c0"/>
<rect x="509" y="653" width="3" height="1" fill="#c0c0c0"/>
<rect x="515" y="653" width="3" height="1" fill="#c0c0c0"/>
<rect x="521" y="653" width="3" height="1" fill="#c0c0c0"/>
<rect x="527" y="653" width="3" height="1" fill="#c0c0c0"/>
<rect x="533" y="653" width="3" height="1" fill="#c0c0c0"/>
<rect x="539" y="653" width="3" height="1" fill="#c0c0c0"/>
<rect x="545" y="653" width="3" height="1" fill="#c0c0c0"/>
<rect x="551" y="653" width="3" height="1" fill="#c0c0c0"/>
<rect x="557" y="653" width="3" height="1" fill="#c0c0c0"/>
<rect x="563" y="653" width="3" height="1" fill="#c0c0c0"/>
<rect x="569" y="653" width="3" height="1" fill="#c0c0c0"/>
<rect x="575" y="653" width="3" height="1" fill="#c0c0c0"/>
<rect x="581" y="653" width="3" height="1" fill="#c0c0c0"/>
<rect x="587" y="653" width="3" height="1" fill="#c0c0c0"/>
<rect x="593" y="653" width="3" height="1" fill="#c0c0c0"/>
<rect x="599" y="653" width="3" height="1" fill="#c0c0c0"/>
<rect x="605" y="653" width="3" height="1" fill="#c0c0c0"/>
<rect x="611" y="653" width="3" height="1" fill="#c0c0c0"/>
<rect x="617" y="653" width="3" height="1" fill="#c0c0c0"/>
<rect x="623" y="653" width="3" height="1" fill="#c0c0c0"/>
<rect x="629" y="653" width="3" height="1" fill="#c0c0c0"/>
<rect x="635" y="653" width="3" height="1" fill="#c0c0c0"/>
<rect x="641" y="653" width="3" height="1" fill="#c0c0c0"/>
<rect x="647" y="653" width="3" height="1" fill="#c0c0c0"/>
<rect x="653" y="653" width="3" height="1" fill="#c0c0c0"/>
<rect x="659" y="653" width="3" height="1" fill="#c0c0c0"/>
<rect x="665" y="653" width="3" height="1" fill="#c0c0c0"/>
<rect x="671" y="653" width="3" height="1" fill="#c0c0c0"/>
<rect x="677" y="653" width="3" height="1" fill="#c0c0c0"/>
<rect x="683" y="653" width="3" height="1" fill="#c0c0c0"/>
<rect x="689" y="653" width="3" height="1" fill="#c0c0c0"/>
<rect x="695" y="653" width="3" height="1" fill="#c0c0c0"/>
<rect x="701" y="653" width="3" height="1" fill="#c0c0c0"/>
<rect x="707" y="653" width="3" height="1" fill="#c0c0c0"/>
<rect x="713" y="653" width="3" height="1" fill="#c0c0c0"/>
<rect x="719" y="653" width="3" height="1" fill="#c0c0c0"/>
<rect x="725" y="653" width="3" height="1" fill="#c0c0c0"/>
<rect x="731" y="653" width="3" height="1" fill="#c0c0c0"/>
<rect x="737" y="653" width="3" height="1" fill="#c0c0c0"/>
<rect x="743" y="653" width="3" height="1" fill="#c0c0c0"/>
<rect x="749" y="653" width="3" height="1" fill="#c0c0c0"/>
<rect x="755" y="653" width="3" height="1" fill="#c0c0c0"/>
<rect x="761" y="653" width="3" height="1" fill="#c0c0c0"/>
<rect x="767" y="653" width="3" height="1" fill="#c0c0c0"/>
<rect x="773" y="653" width="3" height="1" fill="#c0c0c0"/>
<rect x="779" y="653" width="3" height="1" fill="#c0c0c0"/>
<rect x="785" y="653" width="3" height="1" fill="#c0c0c0"/>
<rect x="791" y="653" width="3" height="1" fill="#c0c0c0"/>
<rect x="797" y="653" width="3" height="1" fill="#c0c0c0"/>
<rect x="803" y="653" width="3" height="1" fill="#c0c0c0"/>
<rect x="809" y="653" width="3" height="1" fill="#c0c0c0"/>
<rect x="815" y="653" width="3" height="1" fill="#c0c0c0"/>
<rect x="821" y="653" width="3" height="1" fill="#c0c0c0"/>
<rect x="827" y="653" width="3" height="1" fill="#c0c0c0"/>
<rect x="833" y="653" width="3" height="1" fill="#c0c0c0"/>
<rect x="839" y="653" width="3" height="1" fill="#c0c0c0"/>
<rect x="845" y="653" width="3" height="1" fill="#c0c0c0"/>
<rect x="851" y="653" width="3" height="1" fill="#c0c0c0"/>
<rect x="857" y="653" width="3" height="1" fill="#c0c0c0"/>
<rect x="863" y="653" width="3" height="1" fill="#c0c0c0"/>
<rect x="869" y="653" width="3" height="1" fill="#c0c0c0"/>
<rect x="875" y="653" width="3" height="1" fill="#c0c0c0"/>
<rect x="881" y="653" width="3" height="1" fill="#c0c0c0"/>
<rect x="887" y="653" width="3" height="1" fill="#c0c0c0"/>
<rect x="893" y="653" width="3" height="1" fill="#c0c0c0"/>
<rect x="899" y="653" width="3" height="1" fill="#c0c0c0"/>
<rect x="905" y="653" width="3" height="1" fill="#c0c0c0"/>
<rect x="911" y="653" width="3" height="1" fill="#c0c0c0"/>
<rect x="917" y="653" width="3" height="1" fill="#c0c0c0"/>
<rect x="923" y="653" width="3" height="1" fill="#c0c0c0"/>
<rect x="929" y="653" width="3" height="1" fill="#c0c0c0"/>
<rect x="935" y="653" width="3" height="1" fill="#c0c0c0"/>
<rect x="941" y="653" width="3" height="1" fill="#c0c0c0"/>
<rect x="947" y="653" width="3" height="1" fill="#c0c0c0"/>
<rect x="953" y="653" width="3" height="1" fill="#c0c0c0"/>
<rect x="959" y="653" width="3" height="1" fill="#c0c0c0"/>
<rect x="965" y="653" width="3" height="1" fill="#c0c0c0"/>
<rect x="971" y="653" width="3" height="1" fill="#c0c0c0"/>
<rect x="977" y="653" width="3" height="1" fill="#c0c0c0"/>
<rect x="983" y="653" width="3" height="1" fill="#c0c0c0"/>
<rect x="989" y="653" width="3" height="1" fill="#c0c0c0"/>
<rect x="995" y="653" width="3" height="1" fill="#c0c0c0"/>
<rect x="1001" y="653" width="3" height="1" fill="#c0c0c0"/>
<rect x="1007" y="653" width="3" height="1" fill="#c0c0c0"/>
<rect x="1013" y="653" width="3" height="1" fill="#c0c0c0"/>
<rect x="1019" y="653" width="3" height="1" fill="#c0c0c0"/>
<rect x="1025" y="653" width="3" height="1" fill="#c0c0c0"/>
<rect x="1031" y="653" width="3" height="1" fill="#c0c0c0"/>
<rect x="1037" y="653" width="3" height="1" fill="#c0c0c0"/>
<rect x="1043" y="653" width="3" height="1" fill="#c0c0c0"/>
<rect x="1049" y="653" width="3" height="1" fill="#c0c0c0"/>
<rect x="1055" y="653" width="3" height="1" fill="#c0c0c0"/>
<rect x="1061" y="653" width="3" height="1" fill="#c0c0c0"/>
<rect x="1067" y="653" width="3" height="1" fill="#c0c0c0"/>
<rect x="1073" y="653" width="3" height="1" fill="#c0c0c0"/>
<rect x="1079" y="653" width="3" height="1" fill="#c0c0c0"/>
<rect x="1085" y="653" width="3" height="1" fill="#c0c0c0"/>
<rect x="1091" y="653" width="3" height="1" fill="#c0c0c0"/>
<rect x="1097" y="653" width="3" height="1" fill="#c0c0c0"/>
<rect x="1103" y="653" width="3" height="1" fill="#c0c0c0"/>
<rect x="1109" y="653" width="3" height="1" fill="#c0c0c0"/>
<rect x="1115" y="653" width="3" height="1" fill="#c0c0c0"/>
<rect x="1121" y="653" width="3" height="1" fill="#c0c0c0"/>
<rect x="1127" y="653" width="3" height="1" fill="#c0c0c0"/>
<rect x="1133" y="653" width="3" height="1" fill="#c0c0c0"/>
<rect x="1139" y="653" width="3" height="1" fill="#c0c0c0"/>
<rect x="1145" y="653" width="3" height="1" fill="#c0c0c0"/>
<rect x="1151" y="653" width="3" height="1" fill="#c0c0c0"/>
<rect x="1157" y="653" width="3" height="1" fill="#c0c0c0"/>
<rect x="1163" y="653" width="3" height="1" fill="#c0c0c0"/>
<rect x="1169" y="653" width="3" height="1" fill="#c0c0c0"/>
<rect x="1175" y="653" width="3" height="1" fill="#c0c0c0"/>
<rect x="1181" y="653" width="3" height="1" fill="#c0c0c0"/>
<rect x="1187" y="653" width="3" height="1" fill="#c0c0c0"/>
<rect x="1193" y="653" width="3" height="1" fill="#c0c0c0"/>
<rect x="1199" y="653" width="3" height="1" fill="#c0c0c0"/>
<rect x="1205" y="653" width="3" height="1" fill="#c0c0c0"/>
<rect x="1211" y="653" width="3" height="1" fill="#c0c0c0"/>
<rect x="1217" y="653" width="3" height="1" fill="#c0c0c0"/>
<rect x="1223" y="653" width="3" height="1" fill="#c0c0c0"/>
<rect x="1229" y="653" width="3" height="1" fill="#c0c0c0"/>
<rect x="1235" y="653" width="3" height="1" fill="#c0c0c0"/>
<rect x="1241" y="653" width="3" height="1" fill="#c0c0c0"/>
<rect x="1247" y="653" width="3" height="1" fill="#c0c0c0"/>
<rect x="1253" y="653" width="3" height="1" fill="#c0c0c0"/>
<rect x="1259" y="653" width="3" height="1" fill="#c0c0c0"/>
<rect x="1265" y="653" width="3" height="1" fill="#c0c0c0"/>
<rect x="1271" y="653" width="3" height="1" fill="#c0c0c0"/>
<rect x="1277" y="653" width="3" height="1" fill="#c0c0c0"/>
<rect x="1283" y="653" width="3" height="1" fill="#c0c0c0"/>
<rect x="1289" y="653" width="3" height="1" fill="#c0c0c0"/>
<rect x="1295" y="653" width="3" height="1" fill="#c0c0c0"/>
<rect x="1301" y="653" width="3" height="1" fill="#c0c0c0"/>
<rect x="1307" y="653" width="3" height="1" fill="#c0c0c0"/>
<rect x="1313" y="653" width="3" height="1" fill="#c0c0c0"/>
<rect x="1319" y="653" width="3" height="1" fill="#c0c0c0"/>
<rect x="1325" y="653" width="3" height="1" fill="#c0c0c0"/>
<rect x="1331" y="653" width="3" height="1" fill="#c0c0c0"/>
<rect x="1337" y="653" width="3" height="1" fill="#c0c0c0"/>
<rect x="1343" y="653" width="3" height="1" fill="#c0c0c0"/>
<rect x="1349" y="653" width="3" height="1" fill="#c0c0c0"/>
<rect x="1355" y="653" width="3" height="1" fill="#c0c0c0"/>
<rect x="1361" y="653" width="3" height="1" fill="#c0c0c0"/>
<rect x="1367" y="653" width="3" height="1" fill="#c0c0c0"/>
<rect x="1373" y="653" width="3" height="1" fill="#c0c0c0"/>
<rect x="1379" y="653" width="3" height="1" fill="#c0c0c0"/>
<rect x="1385" y="653" width="3" height="1" fill="#c0c0c0"/>
<rect x="1391" y="653" width="3" height="1" fill="#c0c0c0"/>
<rect x="1397" y="653" width="3" height="1" fill="#c0c0c0"/>
<rect x="1403" y="653" width="3" height="1" fill="#c0c0c0"/>
<rect x="1409" y="653" width="3" height="1" fill="#c0c0c0"/>
<rect x="1415" y="653" width="3" height="1" fill="#c0c0c0"/>
<rect x="1421" y="653" width="3" height="1" fill="#c0c0c0"/>
<rect x="1427" y="653" width="3" height="1" fill="#c0c0c0"/>
<rect x="1433" y="653" width="3" height="1" fill="#c0c0c0"/>
<rect x="1439" y="653" width="3" height="1" fill="#c0c0c0"/>
<rect x="1445" y="653" width="3" height="1" fill="#c0c0c0"/>
<rect x="1451" y="653" width="3" height="1" fill="#c0c0c0"/>
<rect x="1457" y="653" width="3" height="1" fill="#c0c0c0"/>
<rect x="1463" y="653" width="3" height="1" fill="#c0c0c0"/>
<rect x="1469" y="653" width="3" height="1" fill="#c0c0c0"/>
<rect x="1475" y="653" width="3" height="1" fill="#c0c0c0"/>
<rect x="1481" y="653" width="3" height="1" fill="#c0c0c0"/>
<rect x="1487" y="653" width="3" height="1" fill="#c0c0c0"/>
<rect x="1493" y="653" width="3" height="1" fill="#c0c0c0"/>
<rect x="1499" y="653" width="3" height="1" fill="#c0c0c0"/>
<rect x="1505" y="653" width="3" height="1" fill="#c0c0c0"/>
<rect x="1511" y="653" width="3" height="1" fill="#c0c0c0"/>
<rect x="1517" y="653" width="3" height="1" fill="#c0c0c0"/>
<rect x="1523" y="653" width="3" height="1" fill="#c0c0c0"/>
<rect x="1529" y="653" width="3" height="1" fill="#c0c0c0"/>
<rect x="1535" y="653" width="3" height="1" fill="#c0c0c0"/>
<rect x="1541" y="653" width="3" height="1" fill="#c0c0c0"/>
<rect x="1547" y="653" width="3" height="1" fill="#c0c0c0"/>
<rect x="1553" y="653" width="3" height="1" fill="#c0c0c0"/>
<rect x="1559" y="653" width="3" height="1" fill="#c0c0c0"/>
<rect x="1565" y="653" width="3" height="1" fill="#c0c0c0"/>
<rect x="1571" y="653" width="3" height="1" fill="#c0c0c0"/>
<rect x="1577" y="653" width="3" height="1" fill="#c0c0c0"/>
<rect x="1583" y="653" width="3" height="1" fill="#c0c0c0"/>
<rect x="1589" y="653" width="3" height="1" fill="#c0c0c0"/>
<rect x="1595" y="653" width="3" height="1" fill="#c0c0c0"/>
<g clip-path="url(#cr)">
<path d="M99 624h4v1h-4zM211 624h2v1h-2zM696 624h3v1h-3zM848 624h3v1h-3zM854 624h2v1h-2zM1215 624h2v1h-2zM188 614h2v1h-2zM870 614h2v1h-2zM978 614h2v1h-2zM39 634h2v1h-2zM157 634h2v1h-2zM234 634h2v1h-2zM238 634h2v1h-2zM440 634h3v1h-3zM546 634h2v1h-2zM648 634h2v1h-2zM1053 634h2v1h-2zM63 640h3v1h-3zM252 640h6v1h-6zM513 640h2v1h-2zM580 640h3v1h-3zM631 640h2v1h-2zM656 640h2v1h-2zM1184 640h2v1h-2zM405 608h2v1h-2zM735 608h6v1h-6zM935 608h2v1h-2zM53 632h2v1h-2zM167 632h4v1h-4zM173 632h2v1h-2zM302 632h2v1h-2zM539 632h4v1h-4zM684 632h3v1h-3zM691 632h2v1h-2zM1043 632h2v1h-2zM1071 632h2v1h-2zM1084 632h3v1h-3zM1155 632h4v1h-4zM74 644h2v1h-2zM78 644h2v1h-2zM1102 644h2v1h-2zM84 637h2v1h-2zM221 637h2v1h-2zM308 637h2v1h-2zM509 637h2v1h-2zM531 637h2v1h-2zM567 637h4v1h-4zM574 637h2v1h-2zM599 637h4v1h-4zM641 637h2v1h-2zM1131 637h2v1h-2zM1143 637h2v1h-2zM71 643h3v1h-3zM1100 643h2v1h-2zM36 635h3v1h-3zM161 635h2v1h-2zM231 635h3v1h-3zM443 635h6v1h-6zM650 635h2v1h-2zM1058 635h2v1h-2zM1178 635h2v1h-2zM1248 635h2v1h-2zM757 622h2v1h-2zM767 622h2v1h-2zM838 622h2v1h-2zM841 622h2v1h-2zM1263 622h4v1h-4zM186 615h2v1h-2zM708 615h3v1h-3zM714 615h2v1h-2zM864 615h6v1h-6zM972 615h6v1h-6zM1028 615h3v1h-3zM491 628h2v1h-2zM669 628h2v1h-2zM815 628h3v1h-3zM1001 628h2v1h-2zM1077 628h2v1h-2zM1197 628h2v1h-2zM68 642h3v1h-3zM481 642h2v1h-2zM516 642h3v1h-3zM587 642h6v1h-6zM284 651h2v1h-2zM324 651h3v1h-3zM1119 651h2v1h-2zM246 630h2v1h-2zM800 630h3v1h-3zM807 630h4v1h-4zM996 630h3v1h-3zM1036 630h3v1h-3zM1080 630h2v1h-2zM1095 630h2v1h-2zM1150 630h2v1h-2zM1220 630h2v1h-2zM276 649h6v1h-6zM320 649h2v1h-2zM228 636h3v1h-3zM528 636h3v1h-3zM564 636h3v1h-3zM571 636h3v1h-3zM603 636h2v1h-2zM636 636h5v1h-5zM1056 636h2v1h-2zM1133 636h2v1h-2zM1176 636h2v1h-2zM1250 636h3v1h-3zM44 629h5v1h-5zM244 629h2v1h-2zM488 629h3v1h-3zM811 629h4v1h-4zM824 629h9v1h-9zM999 629h2v1h-2zM1092 629h3v1h-3zM1148 629h2v1h-2zM1222 629h3v1h-3zM96 625h3v1h-3zM148 625h2v1h-2zM209 625h2v1h-2zM699 625h2v1h-2zM1167 625h2v1h-2zM1212 625h3v1h-3zM1257 625h2v1h-2zM86 638h3v1h-3zM225 638h2v1h-2zM310 638h2v1h-2zM561 638h2v1h-2zM576 638h2v1h-2zM596 638h3v1h-3zM660 638h5v1h-5zM1128 638h3v1h-3zM1140 638h3v1h-3zM1188 638h5v1h-5zM190 613h2v1h-2zM195 613h2v1h-2zM717 613h2v1h-2zM872 613h3v1h-3zM879 613h4v1h-4zM55 631h2v1h-2zM451 631h2v1h-2zM500 631h5v1h-5zM687 631h4v1h-4zM780 631h5v1h-5zM803 631h4v1h-4zM1039 631h4v1h-4zM1045 631h2v1h-2zM1068 631h3v1h-3zM1082 631h2v1h-2zM1152 631h3v1h-3zM92 627h2v1h-2zM204 627h3v1h-3zM493 627h2v1h-2zM772 627h5v1h-5zM818 627h2v1h-2zM821 627h2v1h-2zM1011 627h4v1h-4zM1208 627h2v1h-2zM912 599h3v1h-3zM273 647h2v1h-2zM375 647h7v1h-7zM1108 647h3v1h-3zM1243 647h2v1h-2zM103 623h2v1h-2zM392 623h5v1h-5zM613 623h2v1h-2zM677 623h2v1h-2zM761 623h2v1h-2zM851 623h3v1h-3zM1260 623h3v1h-3zM142 618h3v1h-3zM181 618h2v1h-2zM948 618h5v1h-5zM964 618h3v1h-3zM1020 618h2v1h-2zM140 619h2v1h-2zM953 619h2v1h-2zM1022 619h2v1h-2zM184 616h2v1h-2zM706 616h2v1h-2zM711 616h3v1h-3zM970 616h2v1h-2zM1031 616h2v1h-2zM420 604h3v1h-3zM751 604h2v1h-2zM725 606h2v1h-2zM282 650h2v1h-2zM322 650h2v1h-2zM108 633h5v1h-5zM164 633h3v1h-3zM171 633h2v1h-2zM236 633h2v1h-2zM300 633h2v1h-2zM536 633h3v1h-3zM543 633h3v1h-3zM1087 633h2v1h-2zM1159 633h2v1h-2zM94 626h2v1h-2zM121 626h2v1h-2zM150 626h2v1h-2zM207 626h2v1h-2zM1004 626h7v1h-7zM1015 626h2v1h-2zM1164 626h3v1h-3zM1169 626h2v1h-2zM1210 626h2v1h-2zM60 639h3v1h-3zM578 639h2v1h-2zM658 639h2v1h-2zM1186 639h2v1h-2zM361 664h2v1h-2zM365 665h2v1h-2zM764 621h3v1h-3zM836 621h2v1h-2zM956 621h5v1h-5zM1267 621h2v1h-2zM30 646h3v1h-3zM382 646h2v1h-2zM1106 646h2v1h-2zM1235 646h8v1h-8zM732 607h3v1h-3zM741 607h2v1h-2zM286 652h2v1h-2zM291 652h2v1h-2zM327 652h2v1h-2zM464 652h7v1h-7zM1116 652h3v1h-3zM192 612h3v1h-3zM875 612h4v1h-4zM883 612h2v1h-2zM729 605h2v1h-2zM744 605h7v1h-7zM932 609h3v1h-3zM909 597h2v1h-2zM919 597h4v1h-4zM427 601h2v1h-2zM895 601h4v1h-4zM12 645h5v1h-5zM24 645h6v1h-6zM76 645h2v1h-2zM384 645h5v1h-5zM477 645h2v1h-2zM1104 645h2v1h-2zM1232 645h3v1h-3zM355 663h6v1h-6zM372 648h3v1h-3zM1111 648h2v1h-2zM704 617h2v1h-2zM861 617h2v1h-2zM967 617h3v1h-3zM915 598h4v1h-4zM423 603h2v1h-2zM344 662h11v1h-11zM288 653h3v1h-3zM329 653h2v1h-2zM471 653h2v1h-2zM425 602h2v1h-2zM892 602h3v1h-3zM899 600h6v1h-6zM66 641h2v1h-2zM258 641h2v1h-2zM519 641h6v1h-6zM583 641h4v1h-4zM628 641h3v1h-3zM335 656h3v1h-3zM129 620h2v1h-2zM961 620h2v1h-2zM923 596h2v1h-2zM332 655h3v1h-3zM338 657h2v1h-2zM104 624h1v1h-1zM126 624h1v2h-1zM147 623h1v2h-1zM178 624h1v2h-1zM203 624h1v2h-1zM392 624h1v2h-1zM438 624h1v4h-1zM610 624h1v2h-1zM615 624h1v1h-1zM674 624h1v1h-1zM679 624h1v1h-1zM700 624h1v1h-1zM760 624h1v1h-1zM770 624h1v2h-1zM787 624h1v2h-1zM795 623h1v2h-1zM834 624h1v2h-1zM857 623h1v2h-1zM994 624h1v2h-1zM1017 623h1v2h-1zM1034 622h1v3h-1zM1202 623h1v2h-1zM1206 624h1v1h-1zM1259 624h1v1h-1zM197 614h1v1h-1zM401 614h1v2h-1zM434 613h1v2h-1zM716 614h1v1h-1zM754 611h1v4h-1zM946 612h1v3h-1zM988 614h1v1h-1zM4 634h1v1h-1zM58 634h1v2h-1zM90 632h1v3h-1zM163 634h1v1h-1zM218 634h1v1h-1zM241 633h1v2h-1zM249 633h1v2h-1zM300 634h1v1h-1zM306 634h1v1h-1zM390 632h1v5h-1zM449 634h1v1h-1zM454 634h1v3h-1zM486 634h1v2h-1zM506 633h1v2h-1zM535 634h1v1h-1zM549 634h1v1h-1zM556 634h1v1h-1zM605 633h1v2h-1zM622 634h1v1h-1zM666 633h1v2h-1zM1060 633h1v2h-1zM1097 632h1v3h-1zM1136 634h1v1h-1zM1145 634h1v2h-1zM1175 634h1v2h-1zM1180 634h1v1h-1zM1194 633h1v2h-1zM1227 634h1v2h-1zM1253 633h1v3h-1zM7 639h1v2h-1zM34 640h1v3h-1zM82 640h1v1h-1zM262 640h1v1h-1zM266 640h1v1h-1zM297 640h1v2h-1zM313 640h1v2h-1zM389 637h1v6h-1zM456 639h1v2h-1zM484 639h1v2h-1zM525 640h1v1h-1zM594 640h1v1h-1zM627 640h1v1h-1zM1099 639h1v3h-1zM1127 639h1v2h-1zM1229 639h1v2h-1zM1246 640h1v3h-1zM409 607h1v2h-1zM417 608h1v1h-1zM431 607h1v2h-1zM723 608h1v1h-1zM753 607h1v4h-1zM888 608h1v1h-1zM931 607h1v2h-1zM944 608h1v2h-1zM42 631h1v2h-1zM51 632h1v1h-1zM57 632h1v2h-1zM108 632h1v1h-1zM113 632h1v1h-1zM155 631h1v2h-1zM216 631h1v2h-1zM242 632h1v1h-1zM248 631h1v2h-1zM305 632h1v2h-1zM440 632h1v2h-1zM450 632h1v2h-1zM453 632h1v2h-1zM487 631h1v3h-1zM505 632h1v1h-1zM550 632h1v2h-1zM554 632h1v1h-1zM606 631h1v2h-1zM621 632h1v2h-1zM667 631h1v2h-1zM1051 632h1v1h-1zM1061 631h1v2h-1zM1089 632h1v1h-1zM1146 632h1v2h-1zM1161 631h1v2h-1zM1174 632h1v2h-1zM1195 631h1v2h-1zM1226 632h1v2h-1zM1254 631h1v2h-1zM11 644h1v1h-1zM17 644h1v1h-1zM23 644h1v1h-1zM33 643h1v3h-1zM270 644h1v1h-1zM296 642h1v3h-1zM315 643h1v2h-1zM388 643h1v2h-1zM458 643h1v2h-1zM479 644h1v1h-1zM1125 643h1v2h-1zM1231 643h1v2h-1zM1245 643h1v3h-1zM6 637h1v2h-1zM35 637h1v3h-1zM59 636h1v2h-1zM89 635h1v3h-1zM227 637h1v1h-1zM251 637h1v2h-1zM298 637h1v3h-1zM455 637h1v2h-1zM485 636h1v3h-1zM527 637h1v1h-1zM558 636h1v2h-1zM563 637h1v1h-1zM624 637h1v1h-1zM635 637h1v1h-1zM646 636h1v2h-1zM653 637h1v1h-1zM664 637h1v1h-1zM1098 635h1v4h-1zM1139 637h1v1h-1zM1182 637h1v1h-1zM1192 637h1v1h-1zM1228 636h1v3h-1zM1247 637h1v3h-1zM1252 637h1v1h-1zM10 643h1v1h-1zM18 643h1v1h-1zM22 643h1v1h-1zM80 643h1v1h-1zM269 643h1v1h-1zM480 643h1v1h-1zM5 635h1v2h-1zM159 635h1v1h-1zM219 635h1v1h-1zM240 635h1v1h-1zM250 635h1v2h-1zM299 635h1v2h-1zM307 635h1v2h-1zM507 635h1v1h-1zM534 635h1v1h-1zM548 635h1v1h-1zM557 635h1v1h-1zM604 635h1v1h-1zM623 635h1v2h-1zM647 635h1v1h-1zM665 635h1v2h-1zM1055 635h1v1h-1zM1135 635h1v1h-1zM1137 635h1v1h-1zM1181 635h1v2h-1zM1193 635h1v2h-1zM127 622h1v2h-1zM135 622h1v1h-1zM137 622h1v1h-1zM146 621h1v2h-1zM179 621h1v3h-1zM202 622h1v2h-1zM397 621h1v2h-1zM437 620h1v4h-1zM612 622h1v1h-1zM676 622h1v1h-1zM701 622h1v2h-1zM763 622h1v1h-1zM789 622h1v1h-1zM794 622h1v1h-1zM835 622h1v2h-1zM846 622h1v1h-1zM858 621h1v2h-1zM993 621h1v3h-1zM1018 621h1v2h-1zM1203 622h1v1h-1zM1205 622h1v2h-1zM198 615h1v2h-1zM435 615h1v2h-1zM755 615h1v4h-1zM947 615h1v2h-1zM989 615h1v1h-1zM92 628h1v1h-1zM106 627h1v3h-1zM117 628h1v1h-1zM124 628h1v1h-1zM153 628h1v2h-1zM177 626h1v3h-1zM214 627h1v2h-1zM391 626h1v6h-1zM439 628h1v4h-1zM498 628h1v1h-1zM608 627h1v2h-1zM618 628h1v1h-1zM682 628h1v2h-1zM694 627h1v2h-1zM777 628h1v1h-1zM785 628h1v2h-1zM798 627h1v2h-1zM823 628h1v1h-1zM832 628h1v1h-1zM995 626h1v3h-1zM1035 625h1v4h-1zM1063 627h1v2h-1zM1066 628h1v2h-1zM1075 628h1v1h-1zM1163 627h1v2h-1zM1172 628h1v2h-1zM1219 628h1v2h-1zM1224 628h1v1h-1zM1255 628h1v3h-1zM9 642h1v1h-1zM19 642h1v1h-1zM21 642h1v1h-1zM81 641h1v2h-1zM260 642h1v1h-1zM268 642h1v1h-1zM314 642h1v1h-1zM457 641h1v2h-1zM1100 642h1v1h-1zM1126 641h1v2h-1zM1230 641h1v2h-1zM292 651h1v1h-1zM371 650h1v4h-1zM463 651h1v1h-1zM473 651h1v2h-1zM1115 651h1v1h-1zM43 630h1v1h-1zM49 630h1v1h-1zM56 630h1v1h-1zM91 629h1v3h-1zM107 630h1v2h-1zM115 630h1v1h-1zM154 630h1v1h-1zM176 629h1v2h-1zM215 629h1v2h-1zM243 630h1v2h-1zM452 630h1v1h-1zM488 630h1v1h-1zM499 629h1v2h-1zM552 630h1v1h-1zM607 629h1v2h-1zM619 629h1v2h-1zM668 629h1v2h-1zM683 630h1v2h-1zM693 629h1v2h-1zM779 630h1v1h-1zM784 630h1v1h-1zM1047 630h1v1h-1zM1049 630h1v1h-1zM1062 629h1v2h-1zM1067 630h1v1h-1zM1074 629h1v2h-1zM1091 630h1v1h-1zM1147 630h1v2h-1zM1162 629h1v2h-1zM1173 630h1v2h-1zM1196 629h1v2h-1zM1225 630h1v2h-1zM293 649h1v2h-1zM372 649h1v1h-1zM462 649h1v2h-1zM474 649h1v2h-1zM1113 649h1v1h-1zM1121 649h1v2h-1zM36 636h1v1h-1zM160 636h1v1h-1zM220 636h1v1h-1zM508 636h1v1h-1zM533 636h1v1h-1zM652 636h1v1h-1zM1138 636h1v1h-1zM1144 636h1v1h-1zM1248 636h1v1h-1zM403 610h1v2h-1zM410 609h1v2h-1zM415 610h1v1h-1zM432 609h1v2h-1zM721 610h1v1h-1zM886 610h1v1h-1zM945 610h1v2h-1zM983 610h1v1h-1zM985 610h1v1h-1zM116 629h1v1h-1zM778 629h1v1h-1zM799 629h1v1h-1zM996 629h1v1h-1zM1036 629h1v1h-1zM1048 629h1v1h-1zM1079 629h1v1h-1zM105 625h1v2h-1zM120 625h1v1h-1zM213 625h1v2h-1zM496 625h1v1h-1zM616 625h1v1h-1zM673 625h1v1h-1zM680 625h1v1h-1zM695 625h1v2h-1zM796 625h1v1h-1zM856 625h1v1h-1zM1016 625h1v1h-1zM1201 625h1v1h-1zM1207 625h1v2h-1zM1217 625h1v2h-1zM60 638h1v1h-1zM83 638h1v2h-1zM223 638h1v1h-1zM264 638h1v1h-1zM511 638h1v1h-1zM526 638h1v2h-1zM559 638h1v1h-1zM625 638h1v1h-1zM634 638h1v1h-1zM643 638h1v1h-1zM645 638h1v1h-1zM654 638h1v1h-1zM1183 638h1v2h-1zM402 612h1v2h-1zM412 613h1v1h-1zM980 613h1v1h-1zM987 613h1v1h-1zM50 631h1v1h-1zM114 631h1v1h-1zM175 631h1v1h-1zM304 631h1v1h-1zM551 631h1v1h-1zM553 631h1v1h-1zM620 631h1v1h-1zM692 631h1v1h-1zM1050 631h1v1h-1zM1073 631h1v1h-1zM1090 631h1v1h-1zM1096 631h1v1h-1zM118 627h1v1h-1zM123 627h1v1h-1zM125 626h1v2h-1zM152 627h1v1h-1zM497 626h1v2h-1zM617 626h1v2h-1zM671 627h1v1h-1zM681 626h1v2h-1zM786 626h1v2h-1zM833 626h1v2h-1zM1003 627h1v1h-1zM1065 627h1v1h-1zM1076 627h1v1h-1zM1171 627h1v1h-1zM1199 627h1v1h-1zM1218 627h1v1h-1zM1256 626h1v2h-1zM905 599h1v1h-1zM926 599h1v2h-1zM32 647h1v1h-1zM294 647h1v2h-1zM318 647h1v1h-1zM460 647h1v1h-1zM475 647h1v2h-1zM1123 646h1v2h-1zM136 623h1v1h-1zM212 623h1v1h-1zM611 623h1v1h-1zM675 623h1v1h-1zM759 623h1v1h-1zM769 623h1v1h-1zM788 623h1v1h-1zM840 623h1v1h-1zM847 623h1v1h-1zM132 618h1v1h-1zM200 618h1v2h-1zM399 618h1v2h-1zM436 617h1v3h-1zM703 618h1v2h-1zM860 618h1v1h-1zM991 618h1v1h-1zM1026 617h1v2h-1zM1033 618h1v4h-1zM131 619h1v1h-1zM133 619h1v1h-1zM145 619h1v2h-1zM180 619h1v2h-1zM756 619h1v3h-1zM792 619h1v1h-1zM859 619h1v2h-1zM963 619h1v1h-1zM992 619h1v2h-1zM1019 619h1v2h-1zM1025 619h1v1h-1zM400 616h1v2h-1zM863 616h1v1h-1zM990 616h1v2h-1zM1027 616h1v1h-1zM430 604h1v3h-1zM728 604h1v1h-1zM891 603h1v2h-1zM929 604h1v2h-1zM939 603h1v2h-1zM941 603h1v2h-1zM408 606h1v1h-1zM418 606h1v2h-1zM731 606h1v1h-1zM743 606h1v1h-1zM752 605h1v2h-1zM889 606h1v2h-1zM930 606h1v1h-1zM937 606h1v2h-1zM943 606h1v2h-1zM1114 650h1v1h-1zM41 633h1v1h-1zM52 633h1v1h-1zM156 633h1v1h-1zM217 633h1v1h-1zM555 633h1v1h-1zM1052 633h1v1h-1zM119 626h1v1h-1zM204 626h1v1h-1zM495 626h1v1h-1zM609 626h1v1h-1zM672 626h1v1h-1zM771 626h1v1h-1zM797 626h1v1h-1zM820 626h1v1h-1zM1064 626h1v1h-1zM1200 626h1v1h-1zM88 639h1v1h-1zM224 639h1v1h-1zM252 639h1v1h-1zM263 639h1v1h-1zM265 639h1v1h-1zM312 639h1v1h-1zM512 639h1v1h-1zM560 639h1v1h-1zM595 639h1v1h-1zM626 639h1v1h-1zM633 639h1v1h-1zM644 639h1v1h-1zM655 639h1v1h-1zM367 664h1v1h-1zM363 665h1v1h-1zM128 621h1v1h-1zM134 620h1v2h-1zM138 621h1v1h-1zM201 620h1v2h-1zM702 620h1v2h-1zM790 621h1v1h-1zM793 620h1v2h-1zM843 621h1v1h-1zM845 621h1v1h-1zM1204 621h1v1h-1zM272 646h1v1h-1zM295 645h1v2h-1zM317 646h1v1h-1zM459 645h1v2h-1zM476 646h1v1h-1zM1244 646h1v1h-1zM411 611h1v2h-1zM414 611h1v1h-1zM433 611h1v2h-1zM720 611h1v1h-1zM885 611h1v1h-1zM982 611h1v1h-1zM986 611h1v2h-1zM407 607h1v1h-1zM724 607h1v1h-1zM413 612h1v1h-1zM719 612h1v1h-1zM981 612h1v1h-1zM419 605h1v1h-1zM727 605h1v1h-1zM890 605h1v1h-1zM938 605h1v1h-1zM942 605h1v1h-1zM404 609h1v1h-1zM416 609h1v1h-1zM722 609h1v1h-1zM887 609h1v1h-1zM984 609h1v1h-1zM907 597h1v1h-1zM925 597h1v2h-1zM927 601h1v2h-1zM271 645h1v1h-1zM316 645h1v1h-1zM1124 645h1v1h-1zM342 660h1v1h-1zM369 658h1v4h-1zM364 666h1v1h-1zM368 662h1v2h-1zM275 648h1v1h-1zM319 648h1v1h-1zM461 648h1v1h-1zM1122 648h1v1h-1zM144 617h1v1h-1zM183 617h1v1h-1zM199 617h1v1h-1zM948 617h1v1h-1zM1032 617h1v1h-1zM906 598h1v1h-1zM911 598h1v1h-1zM429 602h1v2h-1zM928 603h1v1h-1zM940 602h1v1h-1zM428 600h1v1h-1zM341 659h1v1h-1zM8 641h1v1h-1zM20 641h1v1h-1zM261 641h1v1h-1zM267 641h1v1h-1zM483 641h1v1h-1zM515 641h1v1h-1zM593 641h1v1h-1zM370 654h1v4h-1zM139 620h1v1h-1zM398 620h1v1h-1zM791 620h1v1h-1zM844 620h1v1h-1zM955 620h1v1h-1zM1024 620h1v1h-1zM343 661h1v1h-1zM340 658h1v1h-1zM908 596h1v1h-1zM331 654h1v1h-1z" fill="#1e90ff"/>
</g>
<rect x="1597" y="584" width="2" height="1" fill="#000"/>
<rect x="1597" y="683" width="2" height="1" fill="#000"/>
<g clip-path="url(#cd)">
<rect x="4" y="740" width="1" height="10" fill="#c0c0c0"/>
<rect x="8" y="743" width="1" height="7" fill="#c0c0c0"/>
<rect x="12" y="746" width="1" height="4" fill="#c0c0c0"/>
<rect x="16" y="748" width="1" height="2" fill="#c0c0c0"/>
<rect x="20" y="749" width="1" height="1" fill="#c0c0c0"/>
<rect x="24" y="749" width="1" height="3" fill="#c0c0c0"/>
<rect x="28" y="749" width="1" height="4" fill="#c0c0c0"/>
<rect x="32" y="749" width="1" height="6" fill="#c0c0c0"/>
<rect x="36" y="749" width="1" height="5" fill="#c0c0c0"/>
<rect x="40" y="749" width="1" height="5" fill="#c0c0c0"/>
<rect x="44" y="749" width="1" height="3" fill="#c0c0c0"/>
<rect x="48" y="749" width="1" height="2" fill="#c0c0c0"/>
<rect x="52" y="749" width="1" height="2" fill="#c0c0c0"/>
<rect x="56" y="749" width="1" height="1" fill="#c0c0c0"/>
<rect x="60" y="749" width="1" height="2" fill="#c0c0c0"/>
<rect x="64" y="749" width="1" height="3" fill="#c0c0c0"/>
<rect x="68" y="749" width="1" height="4" fill="#c0c0c0"/>
<rect x="72" y="749" width="1" height="5" fill="#c0c0c0"/>
<rect x="76" y="749" width="1" height="6" fill="#c0c0c0"/>
<rect x="80" y="749" width="1" height="6" fill="#c0c0c0"/>
<rect x="84" y="749" width="1" height="6" fill="#c0c0c0"/>
<rect x="88" y="749" width="1" height="6" fill="#c0c0c0"/>
<rect x="92" y="749" width="1" height="4" fill="#c0c0c0"/>
<rect x="96" y="749" width="1" height="2" fill="#c0c0c0"/>
<rect x="100" y="749" width="1" height="1" fill="#c0c0c0"/>
<rect x="104" y="748" width="1" height="2" fill="#c0c0c0"/>
<rect x="108" y="748" width="1" height="2" fill="#c0c0c0"/>
<rect x="112" y="748" width="1" height="2" fill="#c0c0c0"/>
<rect x="116" y="748" width="1" height="2" fill="#c0c0c0"/>
<rect x="120" y="747" width="1" height="3" fill="#c0c0c0"/>
<rect x="124" y="746" width="1" height="4" fill="#c0c0c0"/>
<rect x="128" y="745" width="1" height="5" fill="#c0c0c0"/>
<rect x="132" y="743" width="1" height="7" fill="#c0c0c0"/>
<rect x="136" y="742" width="1" height="8" fill="#c0c0c0"/>
<rect x="140" y="741" width="1" height="9" fill="#c0c0c0"/>
<rect x="144" y="740" width="1" height="10" fill="#c0c0c0"/>
<rect x="148" y="740" width="1" height="10" fill="#c0c0c0"/>
<rect x="152" y="740" width="1" height="10" fill="#c0c0c0"/>
<rect x="156" y="742" width="1" height="8" fill="#c0c0c0"/>
<rect x="160" y="743" width="1" height="7" fill="#c0c0c0"/>
<rect x="164" y="744" width="1" height="6" fill="#c0c0c0"/>
<rect x="168" y="745" width="1" height="5" fill="#c0c0c0"/>
<rect x="172" y="745" width="1" height="5" fill="#c0c0c0"/>
<rect x="176" y="746" width="1" height="4" fill="#c0c0c0"/>
<rect x="180" y="744" width="1" height="6" fill="#c0c0c0"/>
<rect x="184" y="742" width="1" height="8" fill="#c0c0c0"/>
<rect x="188" y="739" width="1" height="11" fill="#c0c0c0"/>
<rect x="192" y="737" width="1" height="13" fill="#c0c0c0"/>
<rect x="196" y="735" width="1" height="15" fill="#c0c0c0"/>
<rect x="200" y="735" width="1" height="15" fill="#c0c0c0"/>
<rect x="204" y="736" width="1" height="14" fill="#c0c0c0"/>
<rect x="208" y="737" width="1" height="13" fill="#c0c0c0"/>
<rect x="212" y="737" width="1" height="13" fill="#c0c0c0"/>
<rect x="216" y="739" width="1" height="11" fill="#c0c0c0"/>
<rect x="220" y="741" width="1" height="9" fill="#c0c0c0"/>
<rect x="224" y="743" width="1" height="7" fill="#c0c0c0"/>
<rect x="228" y="745" width="1" height="5" fill="#c0c0c0"/>
<rect x="232" y="746" width="1" height="4" fill="#c0c0c0"/>
<rect x="236" y="746" width="1" height="4" fill="#c0c0c0"/>
<rect x="240" y="747" width="1" height="3" fill="#c0c0c0"/>
<rect x="244" y="747" width="1" height="3" fill="#c0c0c0"/>
<rect x="248" y="747" width="1" height="3" fill="#c0c0c0"/>
<rect x="252" y="748" width="1" height="2" fill="#c0c0c0"/>
<rect x="256" y="749" width="1" height="1" fill="#c0c0c0"/>
<rect x="260" y="749" width="1" height="2" fill="#c0c0c0"/>
<rect x="264" y="749" width="1" height="3" fill="#c0c0c0"/>
<rect x="268" y="749" width="1" height="4" fill="#c0c0c0"/>
<rect x="272" y="749" width="1" height="6" fill="#c0c0c0"/>
<rect x="276" y="749" width="1" height="8" fill="#c0c0c0"/>
<rect x="280" y="749" width="1" height="9" fill="#c0c0c0"/>
<rect x="284" y="749" width="1" height="11" fill="#c0c0c0"/>
<rect x="288" y="749" width="1" height="12" fill="#c0c0c0"/>
<rect x="292" y="749" width="1" height="13" fill="#c0c0c0"/>
<rect x="296" y="749" width="1" height="13" fill="#c0c0c0"/>
<rect x="300" y="749" width="1" height="11" fill="#c0c0c0"/>
<rect x="304" y="749" width="1" height="9" fill="#c0c0c0"/>
<rect x="308" y="749" width="1" height="8" fill="#c0c0c0"/>
<rect x="312" y="749" width="1" height="8" fill="#c0c0c0"/>
<rect x="316" y="749" width="1" height="9" fill="#c0c0c0"/>
<rect x="320" y="749" width="1" height="11" fill="#c0c0c0"/>
<rect x="324" y="749" width="1" height="12" fill="#c0c0c0"/>
<rect x="328" y="749" width="1" height="14" fill="#c0c0c0"/>
<rect x="332" y="749" width="1" height="16" fill="#c0c0c0"/>
<rect x="336" y="749" width="1" height="18" fill="#c0c0c0"/>
<rect x="340" y="749" width="1" height="19" fill="#c0c0c0"/>
<rect x="344" y="749" width="1" height="22" fill="#c0c0c0"/>
<rect x="348" y="749" width="1" height="24" fill="#c0c0c0"/>
<rect x="352" y="749" width="1" height="26" fill="#c0c0c0"/>
<rect x="356" y="749" width="1" height="27" fill="#c0c0c0"/>
<rect x="360" y="749" width="1" height="28" fill="#c0c0c0"/>
<rect x="364" y="749" width="1" height="29" fill="#c0c0c0"/>
<rect x="368" y="749" width="1" height="29" fill="#c0c0c0"/>
<rect x="372" y="749" width="1" height="28" fill="#c0c0c0"/>
<rect x="376" y="749" width="1" height="26" fill="#c0c0c0"/>
<rect x="380" y="749" width="1" height="24" fill="#c0c0c0"/>
<rect x="384" y="749" width="1" height="22" fill="#c0c0c0"/>
<rect x="388" y="749" width="1" height="21" fill="#c0c0c0"/>
<rect x="392" y="749" width="1" height="15" fill="#c0c0c0"/>
<rect x="396" y="749" width="1" height="11" fill="#c0c0c0"/>
<rect x="400" y="749" width="1" height="5" fill="#c0c0c0"/>
<rect x="404" y="747" width="1" height="3" fill="#c0c0c0"/>
<rect x="408" y="739" width="1" height="11" fill="#c0c0c0"/>
<rect x="412" y="735" width="1" height="15" fill="#c0c0c0"/>
<rect x="416" y="730" width="1" height="20" fill="#c0c0c0"/>
<rect x="420" y="722" width="1" height="28" fill="#c0c0c0"/>
<rect x="424" y="716" width="1" height="34" fill="#c0c0c0"/>
<rect x="428" y="709" width="1" height="41" fill="#c0c0c0"/>
<rect x="432" y="706" width="1" height="44" fill="#c0c0c0"/>
<rect x="436" y="706" width="1" height="44" fill="#c0c0c0"/>
<rect x="440" y="713" width="1" height="37" fill="#c0c0c0"/>
<rect x="444" y="720" width="1" height="30" fill="#c0c0c0"/>
<rect x="448" y="725" width="1" height="25" fill="#c0c0c0"/>
<rect x="452" y="727" width="1" height="23" fill="#c0c0c0"/>
<rect x="456" y="735" width="1" height="15" fill="#c0c0c0"/>
<rect x="460" y="746" width="1" height="4" fill="#c0c0c0"/>
<rect x="464" y="749" width="1" height="9" fill="#c0c0c0"/>
<rect x="468" y="749" width="1" height="20" fill="#c0c0c0"/>
<rect x="472" y="749" width="1" height="29" fill="#c0c0c0"/>
<rect x="476" y="749" width="1" height="32" fill="#c0c0c0"/>
<rect x="480" y="749" width="1" height="33" fill="#c0c0c0"/>
<rect x="484" y="749" width="1" height="32" fill="#c0c0c0"/>
<rect x="488" y="749" width="1" height="25" fill="#c0c0c0"/>
<rect x="492" y="749" width="1" height="18" fill="#c0c0c0"/>
<rect x="496" y="749" width="1" height="10" fill="#c0c0c0"/>
<rect x="500" y="749" width="1" height="7" fill="#c0c0c0"/>
<rect x="504" y="749" width="1" height="4" fill="#c0c0c0"/>
<rect x="508" y="749" width="1" height="5" fill="#c0c0c0"/>
<rect x="512" y="749" width="1" height="8" fill="#c0c0c0"/>
<rect x="516" y="749" width="1" height="13" fill="#c0c0c0"/>
<rect x="520" y="749" width="1" height="16" fill="#c0c0c0"/>
<rect x="524" y="749" width="1" height="18" fill="#c0c0c0"/>
<rect x="528" y="749" width="1" height="17" fill="#c0c0c0"/>
<rect x="532" y="749" width="1" height="16" fill="#c0c0c0"/>
<rect x="536" y="749" width="1" height="14" fill="#c0c0c0"/>
<rect x="540" y="749" width="1" height="11" fill="#c0c0c0"/>
<rect x="544" y="749" width="1" height="9" fill="#c0c0c0"/>
<rect x="548" y="749" width="1" height="8" fill="#c0c0c0"/>
<rect x="552" y="749" width="1" height="6" fill="#c0c0c0"/>
<rect x="556" y="749" width="1" height="5" fill="#c0c0c0"/>
<rect x="560" y="749" width="1" height="7" fill="#c0c0c0"/>
<rect x="564" y="749" width="1" height="8" fill="#c0c0c0"/>
<rect x="568" y="749" width="1" height="8" fill="#c0c0c0"/>
<rect x="572" y="749" width="1" height="8" fill="#c0c0c0"/>
<rect x="576" y="749" width="1" height="9" fill="#c0c0c0"/>
<rect x="580" y="749" width="1" height="10" fill="#c0c0c0"/>
<rect x="584" y="749" width="1" height="12" fill="#c0c0c0"/>
<rect x="588" y="749" width="1" height="13" fill="#c0c0c0"/>
<rect x="592" y="749" width="1" height="14" fill="#c0c0c0"/>
<rect x="596" y="749" width="1" height="14" fill="#c0c0c0"/>
<rect x="600" y="749" width="1" height="13" fill="#c0c0c0"/>
<rect x="604" y="749" width="1" height="12" fill="#c0c0c0"/>
<rect x="608" y="749" width="1" height="8" fill="#c0c0c0"/>
<rect x="612" y="749" width="1" height="3" fill="#c0c0c0"/>
<rect x="616" y="748" width="1" height="2" fill="#c0c0c0"/>
<rect x="620" y="748" width="1" height="2" fill="#c0c0c0"/>
<rect x="624" y="749" width="1" height="1" fill="#c0c0c0"/>
<rect x="628" y="749" width="1" height="3" fill="#c0c0c0"/>
<rect x="632" y="749" width="1" height="5" fill="#c0c0c0"/>
<rect x="636" y="749" width="1" height="5" fill="#c0c0c0"/>
<rect x="640" y="749" width="1" height="6" fill="#c0c0c0"/>
<rect x="644" y="749" width="1" height="7" fill="#c0c0c0"/>
<rect x="648" y="749" width="1" height="6" fill="#c0c0c0"/>
<rect x="652" y="749" width="1" height="6" fill="#c0c0c0"/>
<rect x="656" y="749" width="1" height="7" fill="#c0c0c0"/>
<rect x="660" y="749" width="1" height="8" fill="#c0c0c0"/>
<rect x="664" y="749" width="1" height="8" fill="#c0c0c0"/>
<rect x="668" y="749" width="1" height="5" fill="#c0c0c0"/>
<rect x="672" y="749" width="1" height="2" fill="#c0c0c0"/>
<rect x="676" y="747" width="1" height="3" fill="#c0c0c0"/>
<rect x="680" y="745" width="1" height="5" fill="#c0c0c0"/>
<rect x="684" y="745" width="1" height="5" fill="#c0c0c0"/>
<rect x="688" y="745" width="1" height="5" fill="#c0c0c0"/>
<rect x="692" y="745" width="1" height="5" fill="#c0c0c0"/>
<rect x="696" y="743" width="1" height="7" fill="#c0c0c0"/>
<rect x="700" y="741" width="1" height="9" fill="#c0c0c0"/>
<rect x="704" y="736" width="1" height="14" fill="#c0c0c0"/>
<rect x="708" y="732" width="1" height="18" fill="#c0c0c0"/>
<rect x="712" y="729" width="1" height="21" fill="#c0c0c0"/>
<rect x="716" y="726" width="1" height="24" fill="#c0c0c0"/>
<rect x="720" y="722" width="1" height="28" fill="#c0c0c0"/>
<rect x="724" y="717" width="1" height="33" fill="#c0c0c0"/>
<rect x="728" y="711" width="1" height="39" fill="#c0c0c0"/>
<rect x="732" y="707" width="1" height="43" fill="#c0c0c0"/>
<rect x="736" y="705" width="1" height="45" fill="#c0c0c0"/>
<rect x="740" y="703" width="1" height="47" fill="#c0c0c0"/>
<rect x="744" y="701" width="1" height="49" fill="#c0c0c0"/>
<rect x="748" y="700" width="1" height="50" fill="#c0c0c0"/>
<rect x="752" y="698" width="1" height="52" fill="#c0c0c0"/>
<rect x="756" y="702" width="1" height="48" fill="#c0c0c0"/>
<rect x="760" y="706" width="1" height="44" fill="#c0c0c0"/>
<rect x="764" y="709" width="1" height="41" fill="#c0c0c0"/>
<rect x="768" y="711" width="1" height="39" fill="#c0c0c0"/>
<rect x="772" y="715" width="1" height="35" fill="#c0c0c0"/>
<rect x="776" y="719" width="1" height="31" fill="#c0c0c0"/>
<rect x="780" y="723" width="1" height="27" fill="#c0c0c0"/>
<rect x="784" y="726" width="1" height="24" fill="#c0c0c0"/>
<rect x="788" y="727" width="1" height="23" fill="#c0c0c0"/>
<rect x="792" y="726" width="1" height="24" fill="#c0c0c0"/>
<rect x="796" y="726" width="1" height="24" fill="#c0c0c0"/>
<rect x="800" y="729" width="1" height="21" fill="#c0c0c0"/>
<rect x="804" y="732" width="1" height="18" fill="#c0c0c0"/>
<rect x="808" y="733" width="1" height="17" fill="#c0c0c0"/>
<rect x="812" y="735" width="1" height="15" fill="#c0c0c0"/>
<rect x="816" y="736" width="1" height="14" fill="#c0c0c0"/>
<rect x="820" y="736" width="1" height="14" fill="#c0c0c0"/>
<rect x="824" y="737" width="1" height="13" fill="#c0c0c0"/>
<rect x="828" y="738" width="1" height="12" fill="#c0c0c0"/>
<rect x="832" y="739" width="1" height="11" fill="#c0c0c0"/>
<rect x="836" y="737" width="1" height="13" fill="#c0c0c0"/>
<rect x="840" y="737" width="1" height="13" fill="#c0c0c0"/>
<rect x="844" y="735" width="1" height="15" fill="#c0c0c0"/>
<rect x="848" y="735" width="1" height="15" fill="#c0c0c0"/>
<rect x="852" y="735" width="1" height="15" fill="#c0c0c0"/>
<rect x="856" y="735" width="1" height="15" fill="#c0c0c0"/>
<rect x="860" y="734" width="1" height="16" fill="#c0c0c0"/>
<rect x="864" y="731" width="1" height="19" fill="#c0c0c0"/>
<rect x="868" y="729" width="1" height="21" fill="#c0c0c0"/>
<rect x="872" y="727" width="1" height="23" fill="#c0c0c0"/>
<rect x="876" y="726" width="1" height="24" fill="#c0c0c0"/>
<rect x="880" y="725" width="1" height="25" fill="#c0c0c0"/>
<rect x="884" y="724" width="1" height="26" fill="#c0c0c0"/>
<rect x="888" y="722" width="1" height="28" fill="#c0c0c0"/>
<rect x="892" y="718" width="1" height="32" fill="#c0c0c0"/>
<rect x="896" y="714" width="1" height="36" fill="#c0c0c0"/>
<rect x="900" y="710" width="1" height="40" fill="#c0c0c0"/>
<rect x="904" y="708" width="1" height="42" fill="#c0c0c0"/>
<rect x="908" y="703" width="1" height="47" fill="#c0c0c0"/>
<rect x="912" y="700" width="1" height="50" fill="#c0c0c0"/>
<rect x="916" y="697" width="1" height="53" fill="#c0c0c0"/>
<rect x="920" y="695" width="1" height="55" fill="#c0c0c0"/>
<rect x="924" y="693" width="1" height="57" fill="#c0c0c0"/>
<rect x="928" y="693" width="1" height="57" fill="#c0c0c0"/>
<rect x="932" y="695" width="1" height="55" fill="#c0c0c0"/>
<rect x="936" y="696" width="1" height="54" fill="#c0c0c0"/>
<rect x="940" y="694" width="1" height="56" fill="#c0c0c0"/>
<rect x="944" y="694" width="1" height="56" fill="#c0c0c0"/>
<rect x="948" y="697" width="1" height="53" fill="#c0c0c0"/>
<rect x="952" y="700" width="1" height="50" fill="#c0c0c0"/>
<rect x="956" y="704" width="1" height="46" fill="#c0c0c0"/>
<rect x="960" y="707" width="1" height="43" fill="#c0c0c0"/>
<rect x="964" y="709" width="1" height="41" fill="#c0c0c0"/>
<rect x="968" y="710" width="1" height="40" fill="#c0c0c0"/>
<rect x="972" y="711" width="1" height="39" fill="#c0c0c0"/>
<rect x="976" y="712" width="1" height="38" fill="#c0c0c0"/>
<rect x="980" y="712" width="1" height="38" fill="#c0c0c0"/>
<rect x="984" y="711" width="1" height="39" fill="#c0c0c0"/>
<rect x="988" y="711" width="1" height="39" fill="#c0c0c0"/>
<rect x="992" y="713" width="1" height="37" fill="#c0c0c0"/>
<rect x="996" y="718" width="1" height="32" fill="#c0c0c0"/>
<rect x="1000" y="721" width="1" height="29" fill="#c0c0c0"/>
<rect x="1004" y="724" width="1" height="26" fill="#c0c0c0"/>
<rect x="1008" y="726" width="1" height="24" fill="#c0c0c0"/>
<rect x="1012" y="728" width="1" height="22" fill="#c0c0c0"/>
<rect x="1016" y="729" width="1" height="21" fill="#c0c0c0"/>
<rect x="1020" y="728" width="1" height="22" fill="#c0c0c0"/>
<rect x="1024" y="727" width="1" height="23" fill="#c0c0c0"/>
<rect x="1028" y="725" width="1" height="25" fill="#c0c0c0"/>
<rect x="1032" y="724" width="1" height="26" fill="#c0c0c0"/>
<rect x="1036" y="727" width="1" height="23" fill="#c0c0c0"/>
<rect x="1040" y="730" width="1" height="20" fill="#c0c0c0"/>
<rect x="1044" y="733" width="1" height="17" fill="#c0c0c0"/>
<rect x="1048" y="734" width="1" height="16" fill="#c0c0c0"/>
<rect x="1052" y="736" width="1" height="14" fill="#c0c0c0"/>
<rect x="1056" y="739" width="1" height="11" fill="#c0c0c0"/>
<rect x="1060" y="741" width="1" height="9" fill="#c0c0c0"/>
<rect x="1064" y="740" width="1" height="10" fill="#c0c0c0"/>
<rect x="1068" y="741" width="1" height="9" fill="#c0c0c0"/>
<rect x="1072" y="742" width="1" height="8" fill="#c0c0c0"/>
<rect x="1076" y="741" width="1" height="9" fill="#c0c0c0"/>
<rect x="1080" y="742" width="1" height="8" fill="#c0c0c0"/>
<rect x="1084" y="743" width="1" height="7" fill="#c0c0c0"/>
<rect x="1088" y="744" width="1" height="6" fill="#c0c0c0"/>
<rect x="1092" y="744" width="1" height="6" fill="#c0c0c0"/>
<rect x="1096" y="744" width="1" height="6" fill="#c0c0c0"/>
<rect x="1100" y="748" width="1" height="2" fill="#c0c0c0"/>
<rect x="1104" y="749" width="1" height="3" fill="#c0c0c0"/>
<rect x="1108" y="749" width="1" height="7" fill="#c0c0c0"/>
<rect x="1112" y="749" width="1" height="11" fill="#c0c0c0"/>
<rect x="1116" y="749" width="1" height="15" fill="#c0c0c0"/>
<rect x="1120" y="749" width="1" height="18" fill="#c0c0c0"/>
<rect x="1124" y="749" width="1" height="19" fill="#c0c0c0"/>
<rect x="1128" y="749" width="1" height="17" fill="#c0c0c0"/>
<rect x="1132" y="749" width="1" height="16" fill="#c0c0c0"/>
<rect x="1136" y="749" width="1" height="14" fill="#c0c0c0"/>
<rect x="1140" y="749" width="1" height="13" fill="#c0c0c0"/>
<rect x="1144" y="749" width="1" height="12" fill="#c0c0c0"/>
<rect x="1148" y="749" width="1" height="9" fill="#c0c0c0"/>
<rect x="1152" y="749" width="1" height="7" fill="#c0c0c0"/>
<rect x="1156" y="749" width="1" height="6" fill="#c0c0c0"/>
<rect x="1160" y="749" width="1" height="5" fill="#c0c0c0"/>
<rect x="1164" y="749" width="1" height="2" fill="#c0c0c0"/>
<rect x="1168" y="748" width="1" height="2" fill="#c0c0c0"/>
<rect x="1172" y="747" width="1" height="3" fill="#c0c0c0"/>
<rect x="1176" y="748" width="1" height="2" fill="#c0c0c0"/>
<rect x="1180" y="749" width="1" height="1" fill="#c0c0c0"/>
<rect x="1184" y="749" width="1" height="2" fill="#c0c0c0"/>
<rect x="1188" y="749" width="1" height="3" fill="#c0c0c0"/>
<rect x="1192" y="749" width="1" height="4" fill="#c0c0c0"/>
<rect x="1196" y="749" width="1" height="2" fill="#c0c0c0"/>
<rect x="1200" y="749" width="1" height="1" fill="#c0c0c0"/>
<rect x="1204" y="745" width="1" height="5" fill="#c0c0c0"/>
<rect x="1208" y="744" width="1" height="6" fill="#c0c0c0"/>
<rect x="1212" y="742" width="1" height="8" fill="#c0c0c0"/>
<rect x="1216" y="741" width="1" height="9" fill="#c0c0c0"/>
<rect x="1220" y="741" width="1" height="9" fill="#c0c0c0"/>
<rect x="1224" y="741" width="1" height="9" fill="#c0c0c0"/>
<rect x="1228" y="743" width="1" height="7" fill="#c0c0c0"/>
<rect x="1232" y="748" width="1" height="2" fill="#c0c0c0"/>
<rect x="1236" y="749" width="1" height="4" fill="#c0c0c0"/>
<rect x="1240" y="749" width="1" height="7" fill="#c0c0c0"/>
<rect x="1244" y="749" width="1" height="10" fill="#c0c0c0"/>
<rect x="1248" y="749" width="1" height="9" fill="#c0c0c0"/>
<rect x="1252" y="749" width="1" height="9" fill="#c0c0c0"/>
<rect x="1256" y="749" width="1" height="5" fill="#c0c0c0"/>
<rect x="1260" y="749" width="1" height="1" fill="#c0c0c0"/>
<rect x="1264" y="745" width="1" height="5" fill="#c0c0c0"/>
<rect x="1268" y="742" width="1" height="8" fill="#c0c0c0"/>
<path d="M394 773h2v1h-2zM917 710h2v1h-2zM989 710h2v1h-2zM28 745h2v1h-2zM142 745h3v1h-3zM702 745h2v1h-2zM1223 745h3v1h-3zM352 767h2v1h-2zM792 718h2v1h-2zM906 718h2v1h-2zM810 728h2v1h-2zM888 728h2v1h-2zM1043 728h3v1h-3zM1002 714h2v1h-2zM46 752h3v1h-3zM52 752h3v1h-3zM59 752h2v1h-2zM64 752h3v1h-3zM70 752h3v1h-3zM76 752h3v1h-3zM107 752h2v1h-2zM280 752h2v1h-2zM641 752h3v1h-3zM647 752h3v1h-3zM683 752h3v1h-3zM1181 752h2v1h-2zM774 706h2v1h-2zM978 706h2v1h-2zM34 748h2v1h-2zM263 748h2v1h-2zM695 748h3v1h-3zM1211 748h3v1h-3zM11 738h2v1h-2zM1074 738h2v1h-2zM1085 741h3v1h-3zM203 740h2v1h-2zM232 740h3v1h-3zM1079 740h3v1h-3zM304 759h3v1h-3zM310 759h3v1h-3zM316 759h3v1h-3zM322 759h3v1h-3zM328 759h3v1h-3zM593 759h2v1h-2zM1049 729h3v1h-3zM449 716h3v1h-3zM1007 716h3v1h-3zM136 746h3v1h-3zM251 746h2v1h-2zM1241 746h2v1h-2zM527 760h3v1h-3zM558 760h2v1h-2zM599 760h3v1h-3zM611 760h3v1h-3zM346 764h2v1h-2zM1145 764h3v1h-3zM828 734h2v1h-2zM869 734h2v1h-2zM215 737h2v1h-2zM220 737h3v1h-3zM845 737h3v1h-3zM851 737h3v1h-3zM857 737h2v1h-2zM148 744h3v1h-3zM1103 744h3v1h-3zM1229 744h3v1h-3zM1235 744h3v1h-3zM83 753h2v1h-2zM88 753h3v1h-3zM100 753h3v1h-3zM635 753h3v1h-3zM653 753h2v1h-2zM1176 753h2v1h-2zM1259 753h3v1h-3zM371 775h2v1h-2zM376 775h3v1h-3zM383 775h2v1h-2zM388 775h3v1h-3zM761 704h2v1h-2zM767 704h3v1h-3zM924 704h2v1h-2zM935 698h3v1h-3zM960 698h2v1h-2zM178 743h3v1h-3zM184 743h3v1h-3zM190 743h3v1h-3zM244 743h2v1h-2zM292 756h2v1h-2zM623 756h3v1h-3zM1170 756h2v1h-2zM22 742h2v1h-2zM155 742h2v1h-2zM160 742h3v1h-3zM166 742h3v1h-3zM172 742h3v1h-3zM196 742h3v1h-3zM239 742h2v1h-2zM708 742h2v1h-2zM1091 742h3v1h-3zM1097 742h2v1h-2zM929 701h2v1h-2zM94 754h3v1h-3zM677 754h2v1h-2zM1121 754h2v1h-2zM1265 754h2v1h-2zM797 721h2v1h-2zM4 736h3v1h-3zM839 736h3v1h-3zM1068 736h2v1h-2zM16 739h2v1h-2zM208 739h3v1h-3zM227 739h2v1h-2zM714 739h2v1h-2zM821 731h2v1h-2zM881 731h2v1h-2zM1056 731h2v1h-2zM340 762h3v1h-3zM539 762h3v1h-3zM551 762h3v1h-3zM444 717h2v1h-2zM455 717h2v1h-2zM1031 726h3v1h-3zM1037 726h2v1h-2zM756 705h2v1h-2zM124 749h3v1h-3zM268 749h3v1h-3zM1205 749h3v1h-3zM1248 749h2v1h-2zM40 751h3v1h-3zM112 751h3v1h-3zM275 751h2v1h-2zM1253 751h2v1h-2zM516 763h2v1h-2zM545 763h3v1h-3zM1139 763h3v1h-3zM1151 763h3v1h-3zM298 758h3v1h-3zM563 758h3v1h-3zM587 758h3v1h-3zM618 758h2v1h-2zM1164 758h2v1h-2zM737 719h2v1h-2zM1014 719h2v1h-2zM287 755h2v1h-2zM629 755h2v1h-2zM659 755h3v1h-3zM665 755h3v1h-3zM671 755h3v1h-3zM966 700h2v1h-2zM804 725h2v1h-2zM894 725h2v1h-2zM335 761h2v1h-2zM521 761h2v1h-2zM533 761h3v1h-3zM605 761h3v1h-3zM1133 761h2v1h-2zM1158 761h2v1h-2zM131 747h2v1h-2zM256 747h3v1h-3zM1110 747h2v1h-2zM1217 747h2v1h-2zM983 708h3v1h-3zM119 750h2v1h-2zM690 750h2v1h-2zM1187 750h3v1h-3zM1193 750h3v1h-3zM1199 750h3v1h-3zM569 757h3v1h-3zM575 757h3v1h-3zM581 757h3v1h-3zM492 771h2v1h-2zM947 695h3v1h-3zM953 695h2v1h-2zM401 768h2v1h-2zM437 722h2v1h-2zM1020 722h2v1h-2zM995 712h3v1h-3zM749 709h2v1h-2zM359 770h2v1h-2zM1062 733h2v1h-2zM815 730h3v1h-3zM1025 724h2v1h-2zM833 735h2v1h-2zM863 735h3v1h-3zM875 732h3v1h-3zM972 703h2v1h-2zM364 772h2v1h-2zM497 772h3v1h-3zM785 713h2v1h-2zM510 766h2v1h-2zM941 696h2v1h-2zM366 773h1v1h-1zM781 710h1v1h-1zM358 769h1v1h-1zM400 769h1v1h-1zM505 769h1v1h-1zM250 745h1v1h-1zM421 745h1v2h-1zM509 767h1v1h-1zM443 718h1v1h-1zM457 718h1v1h-1zM739 718h1v1h-1zM1013 718h1v1h-1zM433 727h1v2h-1zM465 728h1v1h-1zM743 714h1v1h-1zM787 714h1v1h-1zM912 714h1v1h-1zM82 752h1v1h-1zM416 752h1v1h-1zM478 752h1v2h-1zM1255 752h1v1h-1zM755 706h1v1h-1zM130 748h1v1h-1zM475 747h1v2h-1zM1247 748h1v1h-1zM214 738h1v1h-1zM226 738h1v1h-1zM426 738h1v1h-1zM202 741h1v1h-1zM238 741h1v1h-1zM472 741h1v2h-1zM18 740h1v1h-1zM425 739h1v2h-1zM471 740h1v1h-1zM713 740h1v1h-1zM482 759h1v1h-1zM617 759h1v1h-1zM1129 759h1v1h-1zM1163 759h1v1h-1zM466 729h1v2h-1zM727 729h1v1h-1zM887 729h1v1h-1zM30 746h1v1h-1zM474 746h1v1h-1zM701 746h1v1h-1zM1109 746h1v1h-1zM1219 746h1v1h-1zM334 760h1v1h-1zM483 760h1v1h-1zM523 760h1v1h-1zM595 760h1v1h-1zM406 763h1v2h-1zM486 764h1v2h-1zM515 764h1v1h-1zM429 733h1v2h-1zM468 734h1v1h-1zM721 734h1v1h-1zM10 737h1v1h-1zM1073 737h1v1h-1zM246 744h1v1h-1zM422 744h1v1h-1zM58 753h1v1h-1zM106 753h1v1h-1zM282 753h1v1h-1zM679 753h1v1h-1zM1267 753h1v1h-1zM24 743h1v1h-1zM154 743h1v1h-1zM707 743h1v1h-1zM1099 743h1v1h-1zM413 756h1v1h-1zM286 754h1v1h-1zM479 754h1v1h-1zM631 754h1v1h-1zM655 754h1v1h-1zM1175 754h1v1h-1zM439 721h1v1h-1zM901 721h1v1h-1zM1019 721h1v1h-1zM469 735h1v2h-1zM719 736h1v1h-1zM835 736h1v1h-1zM859 736h1v1h-1zM725 731h1v1h-1zM407 762h1v1h-1zM1135 762h1v1h-1zM1157 762h1v1h-1zM791 717h1v1h-1zM434 726h1v1h-1zM893 726h1v1h-1zM971 702h1v1h-1zM773 705h1v1h-1zM923 705h1v1h-1zM977 705h1v1h-1zM36 749h1v1h-1zM1115 749h1v1h-1zM118 751h1v1h-1zM417 751h1v1h-1zM689 751h1v1h-1zM1117 751h1v1h-1zM1183 751h1v1h-1zM411 758h1v1h-1zM481 758h1v1h-1zM1128 758h1v1h-1zM905 719h1v1h-1zM1123 755h1v1h-1zM931 700h1v1h-1zM731 725h1v1h-1zM1027 725h1v1h-1zM557 761h1v1h-1zM262 747h1v1h-1zM1243 747h1v1h-1zM751 708h1v1h-1zM779 708h1v1h-1zM274 750h1v1h-1zM418 750h1v1h-1zM1116 750h1v1h-1zM294 757h1v1h-1zM412 757h1v1h-1zM1127 757h1v1h-1zM1169 757h1v1h-1zM503 771h1v1h-1zM943 695h1v1h-1zM354 768h1v1h-1zM461 722h1v1h-1zM799 722h1v1h-1zM900 722h1v1h-1zM745 712h1v1h-1zM348 765h1v1h-1zM780 709h1v1h-1zM919 709h1v1h-1zM491 770h1v1h-1zM504 770h1v1h-1zM827 733h1v1h-1zM871 733h1v1h-1zM726 730h1v1h-1zM883 730h1v1h-1zM1055 730h1v1h-1zM462 723h1v2h-1zM732 724h1v1h-1zM803 724h1v1h-1zM382 776h1v1h-1zM809 727h1v1h-1zM1039 727h1v1h-1zM720 735h1v1h-1zM1067 735h1v1h-1zM733 723h1v1h-1zM899 723h1v1h-1zM430 732h1v1h-1zM823 732h1v1h-1zM1061 732h1v1h-1zM370 774h1v1h-1zM911 715h1v1h-1zM763 703h1v1h-1zM396 772h1v1h-1zM744 713h1v1h-1zM913 713h1v1h-1zM1001 713h1v1h-1zM991 711h1v1h-1zM487 766h1v1h-1zM955 696h1v1h-1zM959 697h1v1h-1zM965 699h1v1h-1z" fill="#ff0000"/>
</g>
<rect x="1597" y="688" width="2" height="1" fill="#000"/>
<rect x="1597" y="749" width="2" height="1" fill="#000"/>
<rect x="4" y="788" width="1" height="3" fill="#000"/>
<rect x="68" y="788" width="1" height="3" fill="#000"/>
<rect x="132" y="788" width="1" height="3" fill="#000"/>
<rect x="196" y="788" width="1" height="3" fill="#000"/>
<rect x="260" y="788" width="1" height="3" fill="#000"/>
<rect x="324" y="788" width="1" height="3" fill="#000"/>
<rect x="388" y="788" width="1" height="3" fill="#000"/>
<rect x="452" y="788" width="1" height="3" fill="#000"/>
<rect x="516" y="788" width="1" height="3" fill="#000"/>
<rect x="580" y="788" width="1" height="3" fill="#000"/>
<rect x="644" y="788" width="1" height="3" fill="#000"/>
<rect x="708" y="788" width="1" height="3" fill="#000"/>
<rect x="772" y="788" width="1" height="3" fill="#000"/>
<rect x="836" y="788" width="1" height="3" fill="#000"/>
<rect x="900" y="788" width="1" height="3" fill="#000"/>
<rect x="964" y="788" width="1" height="3" fill="#000"/>
<rect x="1028" y="788" width="1" height="3" fill="#000"/>
<rect x="1092" y="788" width="1" height="3" fill="#000"/>
<rect x="1156" y="788" width="1" height="3" fill="#000"/>
<rect x="1220" y="788" width="1" height="3" fill="#000"/>
<rect x="0" y="810" width="1637" height="19" fill="#f0f0f0"/>
<rect x="0" y="810" width="1637" height="1" fill="#000"/>
<rect x="0" y="811" width="1637" height="1" fill="#fff"/>
<rect x="0" y="809" width="1" height="20" fill="#6a6a6a"/>
<rect x="5" y="810" width="104" height="19" fill="#000"/>
<rect x="6" y="809" width="102" height="19" fill="#fff"/>
<rect x="0" y="809" width="5" height="1" fill="#fff"/>
</svg>
<div class="g" style="left:43px;top:5px;font-size:10px;line-height:10px;color:#383838;-webkit-text-stroke:0;">M1</div>
<div class="g" style="left:71px;top:5px;font-size:10px;line-height:10px;color:#383838;-webkit-text-stroke:0;">M5</div>
<div class="g" style="left:97px;top:5px;font-size:10px;line-height:10px;color:#383838;-webkit-text-stroke:0;">M15</div>
<div class="g" style="left:124px;top:5px;font-size:10px;line-height:10px;color:#383838;-webkit-text-stroke:0;">M30</div>
<div class="g" style="left:156px;top:5px;font-size:10px;line-height:10px;color:#383838;-webkit-text-stroke:0;">H1</div>
<div class="g" style="left:183px;top:5px;font-size:10px;line-height:10px;color:#383838;-webkit-text-stroke:0;">H4</div>
<div class="g" style="left:211px;top:5px;font-size:10px;line-height:10px;color:#383838;-webkit-text-stroke:0;">D1</div>
<div class="g" style="left:239px;top:5px;font-size:10px;line-height:10px;color:#383838;-webkit-text-stroke:0;">W1</div>
<div class="g" style="left:265px;top:5px;font-size:10px;line-height:10px;color:#383838;-webkit-text-stroke:0;">MN</div>
<svg class="a" style="left:0;top:0" width="20" height="40" shape-rendering="crispEdges"><path d="M7 31 H14 L10.5 34.6 Z" fill="#000"/></svg>
<div class="g" style="left:18px;top:29px;font-size:9.6px;line-height:9.6px;color:#000;">EURUSD,Daily</div>
<div class="g" style="left:88px;top:29px;font-size:9.6px;line-height:9.6px;color:#000;transform:scaleX(0.966);">1.18876 1.18941 1.18826 1.18923</div>
<div class="g" style="left:7px;top:588px;font-size:9.5px;line-height:9.5px;color:#000;">RSI(14) 61.6821</div>
<div class="g" style="left:7px;top:692px;font-size:9.5px;line-height:9.5px;color:#000;transform:scaleX(0.985);">MACD(12,26,9) 0.001762 -0.000908</div>
<div class="g" style="left:1601px;top:46px;font-size:9.6px;line-height:9.6px;color:#000;">1.20155</div>
<div class="g" style="left:1601px;top:79px;font-size:9.6px;line-height:9.6px;color:#000;">1.19280</div>
<div class="g" style="left:1601px;top:112px;font-size:9.6px;line-height:9.6px;color:#000;">1.18405</div>
<div class="g" style="left:1601px;top:145px;font-size:9.6px;line-height:9.6px;color:#000;">1.17530</div>
<div class="g" style="left:1601px;top:178px;font-size:9.6px;line-height:9.6px;color:#000;">1.16655</div>
<div class="g" style="left:1601px;top:211px;font-size:9.6px;line-height:9.6px;color:#000;">1.15755</div>
<div class="g" style="left:1601px;top:244px;font-size:9.6px;line-height:9.6px;color:#000;">1.14880</div>
<div class="g" style="left:1601px;top:277px;font-size:9.6px;line-height:9.6px;color:#000;">1.14005</div>
<div class="g" style="left:1601px;top:310px;font-size:9.6px;line-height:9.6px;color:#000;">1.13130</div>
<div class="g" style="left:1601px;top:343px;font-size:9.6px;line-height:9.6px;color:#000;">1.12255</div>
<div class="g" style="left:1601px;top:376px;font-size:9.6px;line-height:9.6px;color:#000;">1.11380</div>
<div class="g" style="left:1601px;top:409px;font-size:9.6px;line-height:9.6px;color:#000;">1.10480</div>
<div class="g" style="left:1601px;top:442px;font-size:9.6px;line-height:9.6px;color:#000;">1.09605</div>
<div class="g" style="left:1601px;top:475px;font-size:9.6px;line-height:9.6px;color:#000;">1.08730</div>
<div class="g" style="left:1601px;top:508px;font-size:9.6px;line-height:9.6px;color:#000;">1.07855</div>
<div class="g" style="left:1601px;top:541px;font-size:9.6px;line-height:9.6px;color:#000;">1.06980</div>
<div class="g" style="left:1601px;top:574px;font-size:9.6px;line-height:9.6px;color:#000;">1.06105</div>
<div class="a" style="left:1598px;top:91px;width:39px;height:11px;background:#000"></div>
<div class="g" style="left:1601px;top:93px;font-size:9.6px;line-height:9.6px;color:#fff;">1.18923</div>
<div class="a" style="left:1598px;top:48px;width:39px;height:11px;background:#ff0000"></div>
<div class="g" style="left:1601px;top:50px;font-size:9.6px;line-height:9.6px;color:#fff;">1.20019</div>
<div class="a" style="left:1598px;top:86px;width:39px;height:11px;background:#ff0000"></div>
<div class="g" style="left:1601px;top:88px;font-size:9.6px;line-height:9.6px;color:#fff;">1.19008</div>
<div class="a" style="left:1598px;top:123px;width:39px;height:11px;background:#00ff00"></div>
<div class="g" style="left:1601px;top:125px;font-size:9.6px;line-height:9.6px;color:#fff;">1.18024</div>
<div class="a" style="left:1598px;top:161px;width:39px;height:11px;background:#0000ff"></div>
<div class="g" style="left:1601px;top:163px;font-size:9.6px;line-height:9.6px;color:#fff;">1.17014</div>
<div class="a" style="left:1598px;top:199px;width:39px;height:11px;background:#0000ff"></div>
<div class="g" style="left:1601px;top:201px;font-size:9.6px;line-height:9.6px;color:#fff;">1.16003</div>
<div class="g" style="left:1599.6px;top:586px;font-size:9.6px;line-height:9.6px;color:#000;">100</div>
<div class="g" style="left:1598.3px;top:610px;font-size:9.6px;line-height:9.6px;color:#000;">70</div>
<div class="g" style="left:1598.3px;top:650px;font-size:9.6px;line-height:9.6px;color:#000;">30</div>
<div class="g" style="left:1598.5px;top:675px;font-size:9.6px;line-height:9.6px;color:#000;">0</div>
<div class="g" style="left:1600px;top:690px;font-size:9.6px;line-height:9.6px;color:#000;">0.014556</div>
<div class="g" style="left:1600px;top:746px;font-size:9.6px;line-height:9.6px;color:#000;">0.00</div>
<div class="g" style="left:1600px;top:777px;font-size:9.6px;line-height:9.6px;color:#000;">-0.00900</div>
<div class="g" style="left:3px;top:793px;font-size:9.6px;line-height:9.6px;color:#000;">6 Nov 2019</div>
<div class="g" style="left:67px;top:793px;font-size:9.6px;line-height:9.6px;color:#000;">25 Nov 2019</div>
<div class="g" style="left:131px;top:793px;font-size:9.6px;line-height:9.6px;color:#000;">13 Dec 2019</div>
<div class="g" style="left:195px;top:793px;font-size:9.6px;line-height:9.6px;color:#000;">1 Jan 2020</div>
<div class="g" style="left:259px;top:793px;font-size:9.6px;line-height:9.6px;color:#000;">20 Jan 2020</div>
<div class="g" style="left:323px;top:793px;font-size:9.6px;line-height:9.6px;color:#000;">7 Feb 2020</div>
<div class="g" style="left:387px;top:793px;font-size:9.6px;line-height:9.6px;color:#000;">26 Feb 2020</div>
<div class="g" style="left:451px;top:793px;font-size:9.6px;line-height:9.6px;color:#000;">16 Mar 2020</div>
<div class="g" style="left:515px;top:793px;font-size:9.6px;line-height:9.6px;color:#000;">3 Apr 2020</div>
<div class="g" style="left:579px;top:793px;font-size:9.6px;line-height:9.6px;color:#000;">22 Apr 2020</div>
<div class="g" style="left:643px;top:793px;font-size:9.6px;line-height:9.6px;color:#000;">11 May 2020</div>
<div class="g" style="left:707px;top:793px;font-size:9.6px;line-height:9.6px;color:#000;">29 May 2020</div>
<div class="g" style="left:771px;top:793px;font-size:9.6px;line-height:9.6px;color:#000;">17 Jun 2020</div>
<div class="g" style="left:835px;top:793px;font-size:9.6px;line-height:9.6px;color:#000;">6 Jul 2020</div>
<div class="g" style="left:899px;top:793px;font-size:9.6px;line-height:9.6px;color:#000;">24 Jul 2020</div>
<div class="g" style="left:963px;top:793px;font-size:9.6px;line-height:9.6px;color:#000;">12 Aug 2020</div>
<div class="g" style="left:1027px;top:793px;font-size:9.6px;line-height:9.6px;color:#000;">31 Aug 2020</div>
<div class="g" style="left:1091px;top:793px;font-size:9.6px;line-height:9.6px;color:#000;">18 Sep 2020</div>
<div class="g" style="left:1155px;top:793px;font-size:9.6px;line-height:9.6px;color:#000;">7 Oct 2020</div>
<div class="g" style="left:1219px;top:793px;font-size:9.6px;line-height:9.6px;color:#000;">26 Oct 2020</div>
<div class="t" style="left:17px;top:814.84px;font-size:12px;line-height:12px;">EURUSD,Daily</div>
<div class="t" style="left:118.5px;top:814.84px;font-size:12px;line-height:12px;color:#6d6d6d;letter-spacing:0.2px">USDCHF,Daily</div>
<div class="t" style="left:219.2px;top:814.84px;font-size:12px;line-height:12px;color:#6d6d6d;letter-spacing:0.2px">AUDUSD,Daily</div>
<div class="t" style="left:323.4px;top:814.84px;font-size:12px;line-height:12px;color:#6d6d6d;letter-spacing:0.2px">USDCAD,Daily</div>
<div class="t" style="left:426.6px;top:814.84px;font-size:12px;line-height:12px;color:#6d6d6d;letter-spacing:0.2px">USDCNH,Daily</div>
<div class="t" style="left:532.5px;top:814.84px;font-size:12px;line-height:12px;color:#6d6d6d;letter-spacing:0.2px">EURUSD,Daily</div>
<div class="t" style="left:636.1px;top:814.84px;font-size:12px;line-height:12px;color:#6d6d6d;letter-spacing:0.2px">GBPUSD,H4</div>
<div class="t" style="left:727px;top:814.84px;font-size:12px;line-height:12px;color:#6d6d6d;letter-spacing:0.2px">XAUUSD,H4</div>
<div class="t" style="left:819.4px;top:814.84px;font-size:12px;line-height:12px;color:#6d6d6d;letter-spacing:0.2px">HK50,H1</div>
<div class="t" style="left:891.2px;top:814.84px;font-size:12px;line-height:12px;color:#6d6d6d;letter-spacing:0.2px">UK100,H1</div>
<div class="t" style="left:970.9px;top:814.84px;font-size:12px;line-height:12px;color:#6d6d6d;letter-spacing:0.2px">UK100,H1</div>
<div class="t" style="left:1051.3px;top:814.84px;font-size:12px;line-height:12px;color:#6d6d6d;letter-spacing:0.2px">GER30,H1</div>
<div class="t" style="left:1130.4px;top:814.84px;font-size:12px;line-height:12px;color:#6d6d6d;letter-spacing:0.2px">FRA40,H1</div>
<div class="t" style="left:1206.3px;top:814.84px;font-size:12px;line-height:12px;color:#6d6d6d;letter-spacing:0.2px">USOil,H4</div>
<div class="t" style="left:1278.6px;top:814.84px;font-size:12px;line-height:12px;color:#6d6d6d;letter-spacing:0.2px">USDJPY,H1</div>
<div class="t" style="left:1362.5px;top:814.84px;font-size:12px;line-height:12px;color:#6d6d6d;letter-spacing:0.2px">DJ30,Daily</div>
<div class="t" style="left:1442.7px;top:814.84px;font-size:12px;line-height:12px;color:#6d6d6d;letter-spacing:0.2px">CHINA300,H1</div>
<div class="t" style="left:1542.4px;top:814.84px;font-size:12px;line-height:12px;color:#6d6d6d;letter-spacing:0.2px">USOil,H1</div>
<div class="a" style="left:208px;top:812px;width:3px;height:16px;background:#fafafa"></div><div class="a" style="left:209px;top:813px;width:1px;height:14px;background:#5a5a5a"></div>
<div class="a" style="left:312px;top:812px;width:3px;height:16px;background:#fafafa"></div><div class="a" style="left:313px;top:813px;width:1px;height:14px;background:#5a5a5a"></div>
<div class="a" style="left:416px;top:812px;width:3px;height:16px;background:#fafafa"></div><div class="a" style="left:417px;top:813px;width:1px;height:14px;background:#5a5a5a"></div>
<div class="a" style="left:520px;top:812px;width:3px;height:16px;background:#fafafa"></div><div class="a" style="left:521px;top:813px;width:1px;height:14px;background:#5a5a5a"></div>
<div class="a" style="left:624px;top:812px;width:3px;height:16px;background:#fafafa"></div><div class="a" style="left:625px;top:813px;width:1px;height:14px;background:#5a5a5a"></div>
<div class="a" style="left:716px;top:812px;width:3px;height:16px;background:#fafafa"></div><div class="a" style="left:717px;top:813px;width:1px;height:14px;background:#5a5a5a"></div>
<div class="a" style="left:808px;top:812px;width:3px;height:16px;background:#fafafa"></div><div class="a" style="left:809px;top:813px;width:1px;height:14px;background:#5a5a5a"></div>
<div class="a" style="left:880px;top:812px;width:3px;height:16px;background:#fafafa"></div><div class="a" style="left:881px;top:813px;width:1px;height:14px;background:#5a5a5a"></div>
<div class="a" style="left:960px;top:812px;width:3px;height:16px;background:#fafafa"></div><div class="a" style="left:961px;top:813px;width:1px;height:14px;background:#5a5a5a"></div>
<div class="a" style="left:1040px;top:812px;width:3px;height:16px;background:#fafafa"></div><div class="a" style="left:1041px;top:813px;width:1px;height:14px;background:#5a5a5a"></div>
<div class="a" style="left:1120px;top:812px;width:3px;height:16px;background:#fafafa"></div><div class="a" style="left:1121px;top:813px;width:1px;height:14px;background:#5a5a5a"></div>
<div class="a" style="left:1196px;top:812px;width:3px;height:16px;background:#fafafa"></div><div class="a" style="left:1197px;top:813px;width:1px;height:14px;background:#5a5a5a"></div>
<div class="a" style="left:1268px;top:812px;width:3px;height:16px;background:#fafafa"></div><div class="a" style="left:1269px;top:813px;width:1px;height:14px;background:#5a5a5a"></div>
<div class="a" style="left:1352px;top:812px;width:3px;height:16px;background:#fafafa"></div><div class="a" style="left:1353px;top:813px;width:1px;height:14px;background:#5a5a5a"></div>
<div class="a" style="left:1432px;top:812px;width:3px;height:16px;background:#fafafa"></div><div class="a" style="left:1433px;top:813px;width:1px;height:14px;background:#5a5a5a"></div>
<div class="a" style="left:1532px;top:812px;width:3px;height:16px;background:#fafafa"></div><div class="a" style="left:1533px;top:813px;width:1px;height:14px;background:#5a5a5a"></div>
<div class="a" style="left:1604px;top:812px;width:3px;height:16px;background:#fafafa"></div><div class="a" style="left:1605px;top:813px;width:1px;height:14px;background:#5a5a5a"></div>
<svg class="a" style="left:1608px;top:812px" width="29" height="17" shape-rendering="crispEdges"><path d="M7.6 4 L4 7.5 L7.6 11 Z" fill="#a8a8a8"/><path d="M23 4 L26.6 7.5 L23 11 Z" fill="#000"/></svg>
</body></html>
